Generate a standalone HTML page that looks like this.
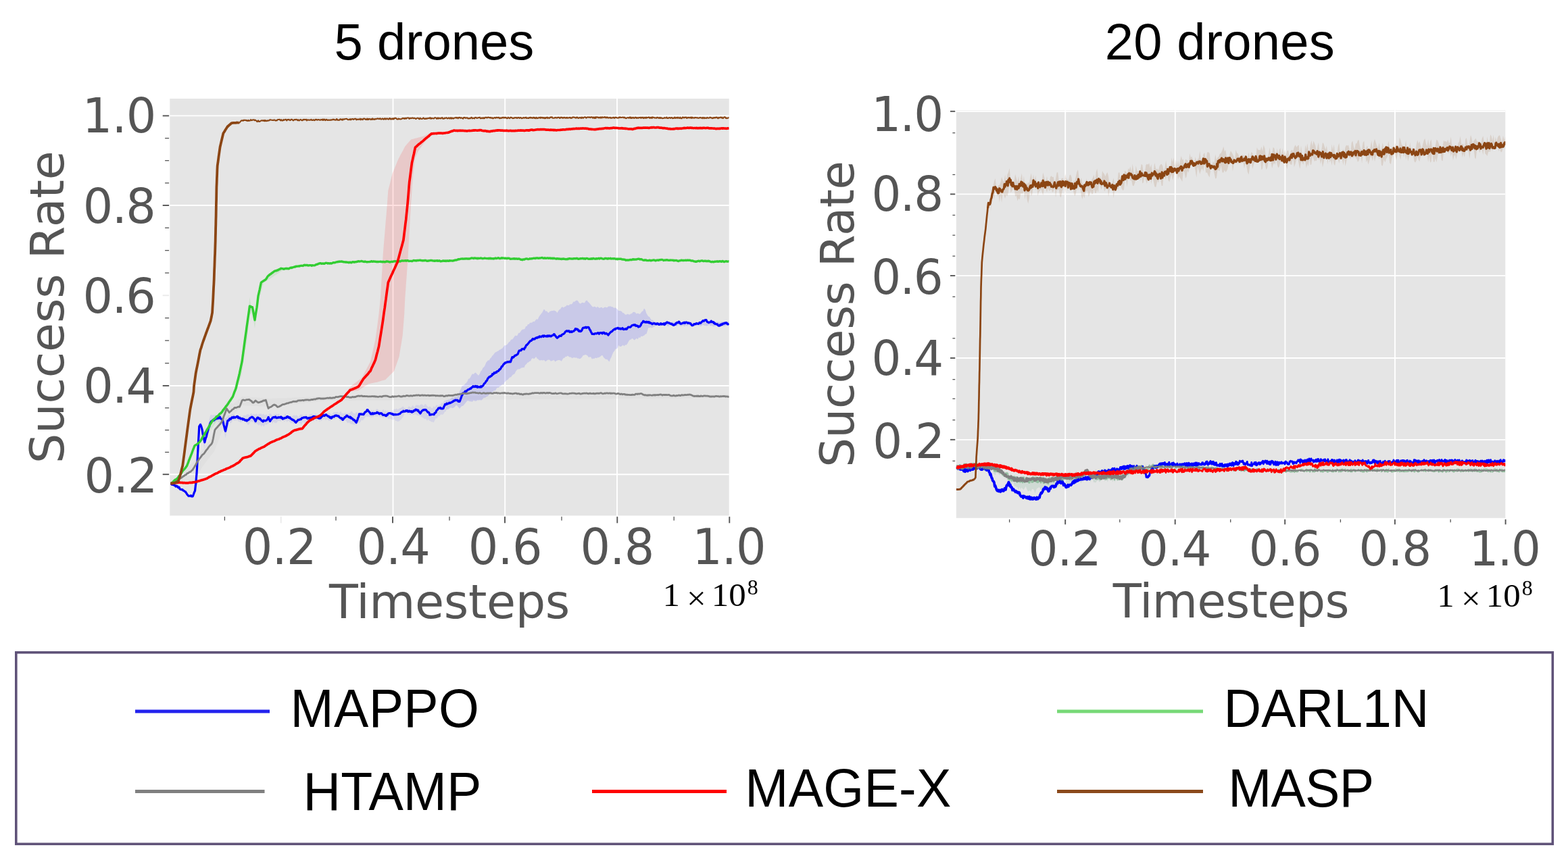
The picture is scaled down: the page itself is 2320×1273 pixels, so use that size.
<!DOCTYPE html>
<html lang="en">
<head>
<meta charset="utf-8">
<title>Success Rate vs Timesteps</title>
<style>
html,body{margin:0;padding:0;background:#ffffff;}
body{width:2320px;height:1273px;overflow:hidden;}
svg{display:block;}
</style>
</head>
<body>
<svg width="2320" height="1273" viewBox="0 0 2320 1273">
<rect x="0" y="0" width="2320" height="1273" fill="#ffffff"/>
<g>
<rect x="251.3" y="146.0" width="827.4" height="617.3" fill="#e5e5e5"/>
<g stroke="#ffffff" stroke-width="1.9">
<line x1="251.3" x2="1078.7" y1="171.4" y2="171.4"/>
<line x1="251.3" x2="1078.7" y1="304.0" y2="304.0"/>
<line x1="251.3" x2="1078.7" y1="571.0" y2="571.0"/>
<line x1="251.3" x2="1078.7" y1="702.2" y2="702.2"/>
<line x1="581.5" x2="581.5" y1="146.0" y2="763.3"/>
<line x1="747.2" x2="747.2" y1="146.0" y2="763.3"/>
<line x1="913.0" x2="913.0" y1="146.0" y2="763.3"/>
</g>
<g stroke="#555555">
<line x1="240.7" x2="250.1" y1="171.4" y2="171.4" stroke-width="1.9"/>
<line x1="244.1" x2="250.1" y1="204.6" y2="204.6" stroke-width="1.3"/>
<line x1="244.1" x2="250.1" y1="237.7" y2="237.7" stroke-width="1.3"/>
<line x1="244.1" x2="250.1" y1="270.9" y2="270.9" stroke-width="1.3"/>
<line x1="240.7" x2="250.1" y1="304.0" y2="304.0" stroke-width="1.9"/>
<line x1="244.1" x2="250.1" y1="337.3" y2="337.3" stroke-width="1.3"/>
<line x1="244.1" x2="250.1" y1="370.7" y2="370.7" stroke-width="1.3"/>
<line x1="244.1" x2="250.1" y1="404.0" y2="404.0" stroke-width="1.3"/>
<line x1="240.7" x2="250.1" y1="437.3" y2="437.3" stroke-width="1.9" stroke-opacity="0.12"/>
<line x1="244.1" x2="250.1" y1="470.7" y2="470.7" stroke-width="1.3"/>
<line x1="244.1" x2="250.1" y1="504.1" y2="504.1" stroke-width="1.3"/>
<line x1="244.1" x2="250.1" y1="537.6" y2="537.6" stroke-width="1.3"/>
<line x1="240.7" x2="250.1" y1="571.0" y2="571.0" stroke-width="1.9"/>
<line x1="244.1" x2="250.1" y1="603.8" y2="603.8" stroke-width="1.3"/>
<line x1="244.1" x2="250.1" y1="636.6" y2="636.6" stroke-width="1.3"/>
<line x1="244.1" x2="250.1" y1="669.4" y2="669.4" stroke-width="1.3"/>
<line x1="240.7" x2="250.1" y1="702.2" y2="702.2" stroke-width="1.9"/>
<line x1="332.4" x2="332.4" y1="764.8" y2="770.5" stroke-width="1.3"/>
<line x1="415.7" x2="415.7" y1="764.8" y2="774.3" stroke-width="1.9" stroke-opacity="0.12"/>
<line x1="497.0" x2="497.0" y1="764.8" y2="770.5" stroke-width="1.3"/>
<line x1="581.0" x2="581.0" y1="764.8" y2="774.3" stroke-width="1.9"/>
<line x1="665.0" x2="665.0" y1="764.8" y2="770.5" stroke-width="1.3"/>
<line x1="747.0" x2="747.0" y1="764.8" y2="774.3" stroke-width="1.9"/>
<line x1="831.0" x2="831.0" y1="764.8" y2="770.5" stroke-width="1.3"/>
<line x1="913.3" x2="913.3" y1="764.8" y2="774.3" stroke-width="1.9"/>
<line x1="997.2" x2="997.2" y1="764.8" y2="770.5" stroke-width="1.3"/>
<line x1="1079.3" x2="1079.3" y1="764.8" y2="774.3" stroke-width="1.9"/>
</g>
<clipPath id="c1"><rect x="251.3" y="146.0" width="827.4" height="617.3"/></clipPath>
<g clip-path="url(#c1)">
<path d="M252.6,715.0 L254.2,713.6 L255.8,712.3 L257.3,710.9 L258.9,709.5 L260.5,708.2 L262.1,706.8 L263.7,705.5 L265.3,704.1 L266.8,702.7 L268.4,701.4 L270.0,700.0 L271.5,698.5 L273.1,696.9 L274.6,695.4 L276.2,693.8 L277.7,692.3 L279.2,690.8 L280.8,689.2 L282.3,687.7 L283.8,686.2 L285.4,684.6 L286.9,683.1 L288.5,681.5 L290.0,680.0 L291.5,677.8 L293.1,675.7 L294.6,673.5 L296.2,671.4 L297.7,669.2 L299.2,667.1 L300.8,664.9 L302.3,662.8 L303.8,660.6 L305.4,658.5 L306.9,656.3 L308.5,654.2 L310.0,652.0 L311.5,648.6 L313.0,645.2 L314.5,641.8 L316.0,638.4 L317.5,635.0 L319.0,631.6 L320.5,628.2 L322.0,624.8 L323.5,621.4 L325.0,618.0 L326.5,614.6 L328.0,611.1 L329.5,607.7 L331.0,604.3 L332.5,600.9 L334.0,597.4 L335.5,594.0 L337.1,594.7 L338.7,595.3 L340.2,596.0 L341.8,596.7 L343.4,597.3 L345.0,598.0 L346.6,596.6 L348.2,595.2 L349.9,593.9 L351.5,592.5 L353.1,591.1 L354.8,589.8 L356.4,588.4 L358.0,587.0 L359.5,587.1 L361.0,587.2 L362.5,587.3 L364.0,587.4 L365.5,587.5 L367.0,587.6 L368.5,587.8 L370.0,587.9 L371.5,588.0 L373.0,588.1 L374.5,588.2 L376.0,588.3 L377.5,588.4 L379.0,588.5 L380.5,588.6 L382.0,588.7 L383.5,588.8 L385.0,588.9 L386.5,589.0 L388.0,589.1 L389.5,589.2 L391.0,589.4 L392.5,589.5 L394.0,589.6 L395.5,589.7 L397.0,589.8 L398.5,589.9 L400.0,590.0 L401.5,589.9 L403.0,589.9 L404.5,589.8 L406.0,589.8 L407.5,589.7 L409.1,589.7 L410.6,589.6 L412.1,589.5 L413.6,589.5 L415.1,589.4 L416.6,589.4 L418.1,589.3 L419.6,589.3 L421.1,589.2 L422.6,589.2 L424.2,589.1 L425.7,589.0 L427.2,589.0 L428.7,588.9 L430.2,588.9 L431.7,588.8 L433.2,588.8 L434.7,588.7 L436.2,588.6 L437.7,588.6 L439.2,588.5 L440.8,588.5 L442.3,588.4 L443.8,588.4 L445.3,588.3 L446.8,588.2 L448.3,588.2 L449.8,588.1 L451.3,588.1 L452.8,588.0 L454.3,588.0 L455.8,587.9 L457.4,587.8 L458.9,587.8 L460.4,587.7 L461.9,587.7 L463.4,587.6 L464.9,587.6 L466.4,587.5 L467.9,587.5 L469.4,587.4 L470.9,587.3 L472.5,587.3 L474.0,587.2 L475.5,587.2 L477.0,587.1 L478.5,587.1 L480.0,587.0 L481.5,587.0 L483.0,587.0 L484.5,587.0 L486.0,587.0 L487.5,587.0 L489.0,587.0 L490.5,586.9 L492.0,586.9 L493.5,586.9 L495.0,586.9 L496.5,586.9 L498.0,586.9 L499.5,586.9 L501.0,586.9 L502.5,586.9 L504.0,586.9 L505.5,586.9 L507.0,586.9 L508.5,586.9 L510.0,586.8 L511.5,586.8 L513.0,586.8 L514.5,586.8 L516.0,586.8 L517.5,586.8 L519.0,586.8 L520.5,586.8 L522.0,586.8 L523.5,586.8 L525.0,586.8 L526.5,586.8 L528.0,586.8 L529.5,586.8 L531.0,586.7 L532.5,586.7 L534.0,586.7 L535.5,586.7 L537.0,586.7 L538.5,586.7 L540.0,586.7 L541.5,586.7 L543.0,586.7 L544.5,586.7 L546.0,586.7 L547.5,586.7 L549.0,586.7 L550.5,586.6 L552.0,586.6 L553.5,586.6 L555.0,586.6 L556.5,586.6 L558.0,586.6 L559.5,586.6 L561.0,586.6 L562.5,586.6 L564.0,586.6 L565.5,586.6 L567.0,586.6 L568.5,586.6 L570.0,586.5 L571.5,586.5 L573.0,586.5 L574.5,586.5 L576.0,586.5 L577.5,586.5 L579.0,586.5 L580.5,586.5 L582.0,586.5 L583.5,586.5 L585.0,586.5 L586.5,586.5 L588.0,586.5 L589.5,586.5 L591.0,586.4 L592.5,586.4 L594.0,586.4 L595.5,586.4 L597.0,586.4 L598.5,586.4 L600.0,586.4 L601.5,586.4 L603.0,586.4 L604.5,586.4 L606.0,586.4 L607.5,586.4 L609.0,586.4 L610.5,586.3 L612.0,586.3 L613.5,586.3 L615.0,586.3 L616.5,586.3 L618.0,586.3 L619.5,586.3 L621.0,586.3 L622.5,586.3 L624.0,586.3 L625.5,586.3 L627.0,586.3 L628.5,586.3 L630.1,586.2 L631.6,586.2 L633.1,586.2 L634.6,586.2 L636.1,586.2 L637.6,586.2 L639.1,586.2 L640.6,586.2 L642.1,586.2 L643.6,586.2 L645.1,586.2 L646.6,586.2 L648.1,586.2 L649.6,586.2 L651.1,586.1 L652.6,586.1 L654.1,586.1 L655.6,586.1 L657.1,586.1 L658.6,586.1 L660.1,586.1 L661.6,586.1 L663.1,586.1 L664.6,586.1 L666.1,586.1 L667.6,586.1 L669.1,586.1 L670.6,586.0 L672.1,586.0 L673.6,586.0 L675.1,586.0 L676.6,586.0 L678.1,586.0 L679.6,586.0 L681.1,586.0 L682.6,586.0 L684.1,586.0 L685.6,586.0 L687.1,586.0 L688.6,586.0 L690.1,585.9 L691.6,585.9 L693.1,585.9 L694.6,585.9 L696.1,585.9 L697.6,585.9 L699.1,585.9 L700.6,585.9 L702.1,585.9 L703.6,585.9 L705.1,585.9 L706.6,585.9 L708.1,585.9 L709.6,585.8 L711.1,585.8 L712.6,585.8 L714.1,585.8 L715.6,585.8 L717.1,585.8 L718.6,585.8 L720.1,585.8 L721.6,585.8 L723.1,585.8 L724.6,585.8 L726.1,585.8 L727.6,585.8 L729.1,585.8 L730.6,585.7 L732.1,585.7 L733.6,585.7 L735.1,585.7 L736.6,585.7 L738.1,585.7 L739.6,585.7 L741.1,585.7 L742.6,585.7 L744.1,585.7 L745.6,585.7 L747.1,585.7 L748.6,585.7 L750.1,585.6 L751.6,585.6 L753.1,585.6 L754.6,585.6 L756.1,585.6 L757.6,585.6 L759.1,585.6 L760.6,585.6 L762.1,585.6 L763.6,585.6 L765.1,585.6 L766.6,585.6 L768.1,585.6 L769.6,585.5 L771.1,585.5 L772.6,585.5 L774.1,585.5 L775.6,585.5 L777.1,585.5 L778.6,585.5 L780.1,585.5 L781.6,585.5 L783.1,585.5 L784.6,585.5 L786.1,585.5 L787.6,585.5 L789.1,585.5 L790.6,585.4 L792.1,585.4 L793.6,585.4 L795.1,585.4 L796.6,585.4 L798.1,585.4 L799.6,585.4 L801.1,585.4 L802.6,585.4 L804.1,585.4 L805.6,585.4 L807.1,585.4 L808.6,585.4 L810.1,585.3 L811.6,585.3 L813.1,585.3 L814.6,585.3 L816.1,585.3 L817.6,585.3 L819.1,585.3 L820.6,585.3 L822.1,585.3 L823.6,585.3 L825.1,585.3 L826.6,585.3 L828.1,585.3 L829.6,585.2 L831.1,585.2 L832.6,585.2 L834.1,585.2 L835.6,585.2 L837.1,585.2 L838.6,585.2 L840.1,585.2 L841.6,585.2 L843.1,585.2 L844.6,585.2 L846.1,585.2 L847.6,585.2 L849.1,585.2 L850.6,585.1 L852.1,585.1 L853.6,585.1 L855.1,585.1 L856.6,585.1 L858.1,585.1 L859.6,585.1 L861.1,585.1 L862.6,585.1 L864.1,585.1 L865.6,585.1 L867.1,585.1 L868.6,585.1 L870.1,585.0 L871.6,585.0 L873.1,585.0 L874.6,585.0 L876.1,585.0 L877.6,585.0 L879.1,585.0 L880.6,585.0 L882.1,585.0 L883.6,585.0 L885.1,585.0 L886.6,585.0 L888.1,585.0 L889.6,584.9 L891.1,584.9 L892.6,584.9 L894.1,584.9 L895.6,584.9 L897.1,584.9 L898.6,584.9 L900.1,584.9 L901.6,584.9 L903.1,584.9 L904.6,584.9 L906.1,584.9 L907.6,584.9 L909.1,584.8 L910.6,584.8 L912.1,584.8 L913.6,584.8 L915.1,584.8 L916.6,584.8 L918.1,584.8 L919.6,584.8 L921.1,584.8 L922.6,584.8 L924.1,584.8 L925.6,584.8 L927.1,584.8 L928.6,584.8 L930.2,584.7 L931.7,584.7 L933.2,584.7 L934.7,584.7 L936.2,584.7 L937.7,584.7 L939.2,584.7 L940.7,584.7 L942.2,584.7 L943.7,584.7 L945.2,584.7 L946.7,584.7 L948.2,584.7 L949.7,584.6 L951.2,584.6 L952.7,584.6 L954.2,584.6 L955.7,584.6 L957.2,584.6 L958.7,584.6 L960.2,584.6 L961.7,584.6 L963.2,584.6 L964.7,584.6 L966.2,584.6 L967.7,584.6 L969.2,584.5 L970.7,584.5 L972.2,584.5 L973.7,584.5 L975.2,584.5 L976.7,584.5 L978.2,584.5 L979.7,584.5 L981.2,584.5 L982.7,584.5 L984.2,584.5 L985.7,584.5 L987.2,584.5 L988.7,584.5 L990.2,584.4 L991.7,584.4 L993.2,584.4 L994.7,584.4 L996.2,584.4 L997.7,584.4 L999.2,584.4 L1000.7,584.4 L1002.2,584.4 L1003.7,584.4 L1005.2,584.4 L1006.7,584.4 L1008.2,584.4 L1009.7,584.3 L1011.2,584.3 L1012.7,584.3 L1014.2,584.3 L1015.7,584.3 L1017.2,584.3 L1018.7,584.3 L1020.2,584.3 L1021.7,584.3 L1023.2,584.3 L1024.7,584.3 L1026.2,584.3 L1027.7,584.3 L1029.2,584.2 L1030.7,584.2 L1032.2,584.2 L1033.7,584.2 L1035.2,584.2 L1036.7,584.2 L1038.2,584.2 L1039.7,584.2 L1041.2,584.2 L1042.7,584.2 L1044.2,584.2 L1045.7,584.2 L1047.2,584.2 L1048.7,584.2 L1050.2,584.1 L1051.7,584.1 L1053.2,584.1 L1054.7,584.1 L1056.2,584.1 L1057.7,584.1 L1059.2,584.1 L1060.7,584.1 L1062.2,584.1 L1063.7,584.1 L1065.2,584.1 L1066.7,584.1 L1068.2,584.1 L1069.7,584.0 L1071.2,584.0 L1072.7,584.0 L1074.2,584.0 L1075.7,584.0 L1077.2,584.0 L1078.7,584.0 L1078.7,589.0 L1077.2,589.0 L1075.7,589.0 L1074.2,589.0 L1072.7,589.0 L1071.2,589.1 L1069.7,589.1 L1068.2,589.1 L1066.7,589.1 L1065.2,589.1 L1063.7,589.1 L1062.2,589.1 L1060.7,589.1 L1059.2,589.1 L1057.7,589.1 L1056.2,589.2 L1054.7,589.2 L1053.2,589.2 L1051.7,589.2 L1050.2,589.2 L1048.7,589.2 L1047.2,589.2 L1045.7,589.2 L1044.2,589.2 L1042.7,589.2 L1041.2,589.3 L1039.7,589.3 L1038.2,589.3 L1036.7,589.3 L1035.2,589.3 L1033.7,589.3 L1032.2,589.3 L1030.7,589.3 L1029.2,589.3 L1027.7,589.3 L1026.2,589.4 L1024.7,589.4 L1023.2,589.4 L1021.7,589.4 L1020.2,589.4 L1018.7,589.4 L1017.2,589.4 L1015.7,589.4 L1014.2,589.4 L1012.7,589.4 L1011.2,589.5 L1009.7,589.5 L1008.2,589.5 L1006.7,589.5 L1005.2,589.5 L1003.7,589.5 L1002.2,589.5 L1000.7,589.5 L999.2,589.5 L997.7,589.5 L996.2,589.6 L994.7,589.6 L993.2,589.6 L991.7,589.6 L990.2,589.6 L988.7,589.6 L987.2,589.6 L985.7,589.6 L984.2,589.6 L982.7,589.6 L981.2,589.7 L979.7,589.7 L978.2,589.7 L976.7,589.7 L975.2,589.7 L973.7,589.7 L972.2,589.7 L970.7,589.7 L969.2,589.7 L967.7,589.7 L966.2,589.8 L964.7,589.8 L963.2,589.8 L961.7,589.8 L960.2,589.8 L958.7,589.8 L957.2,589.8 L955.7,589.8 L954.2,589.8 L952.7,589.8 L951.2,589.9 L949.7,589.9 L948.2,589.9 L946.7,589.9 L945.2,589.9 L943.7,589.9 L942.2,589.9 L940.7,589.9 L939.2,589.9 L937.7,589.9 L936.2,590.0 L934.7,590.0 L933.2,590.0 L931.7,590.0 L930.2,590.0 L928.6,590.0 L927.1,590.0 L925.6,590.0 L924.1,590.0 L922.6,590.0 L921.1,590.1 L919.6,590.1 L918.1,590.1 L916.6,590.1 L915.1,590.1 L913.6,590.1 L912.1,590.1 L910.6,590.1 L909.1,590.1 L907.6,590.1 L906.1,590.2 L904.6,590.2 L903.1,590.2 L901.6,590.2 L900.1,590.2 L898.6,590.2 L897.1,590.2 L895.6,590.2 L894.1,590.2 L892.6,590.2 L891.1,590.3 L889.6,590.3 L888.1,590.3 L886.6,590.3 L885.1,590.3 L883.6,590.3 L882.1,590.3 L880.6,590.3 L879.1,590.3 L877.6,590.3 L876.1,590.4 L874.6,590.4 L873.1,590.4 L871.6,590.4 L870.1,590.4 L868.6,590.4 L867.1,590.4 L865.6,590.4 L864.1,590.4 L862.6,590.4 L861.1,590.5 L859.6,590.5 L858.1,590.5 L856.6,590.5 L855.1,590.5 L853.6,590.5 L852.1,590.5 L850.6,590.5 L849.1,590.5 L847.6,590.5 L846.1,590.6 L844.6,590.6 L843.1,590.6 L841.6,590.6 L840.1,590.6 L838.6,590.6 L837.1,590.6 L835.6,590.6 L834.1,590.6 L832.6,590.6 L831.1,590.7 L829.6,590.7 L828.1,590.7 L826.6,590.7 L825.1,590.7 L823.6,590.7 L822.1,590.7 L820.6,590.7 L819.1,590.7 L817.6,590.7 L816.1,590.8 L814.6,590.8 L813.1,590.8 L811.6,590.8 L810.1,590.8 L808.6,590.8 L807.1,590.8 L805.6,590.8 L804.1,590.8 L802.6,590.8 L801.1,590.9 L799.6,590.9 L798.1,590.9 L796.6,590.9 L795.1,590.9 L793.6,590.9 L792.1,590.9 L790.6,590.9 L789.1,590.9 L787.6,590.9 L786.1,591.0 L784.6,591.0 L783.1,591.0 L781.6,591.0 L780.1,591.0 L778.6,591.0 L777.1,591.0 L775.6,591.0 L774.1,591.0 L772.6,591.0 L771.1,591.1 L769.6,591.1 L768.1,591.1 L766.6,591.1 L765.1,591.1 L763.6,591.1 L762.1,591.1 L760.6,591.1 L759.1,591.1 L757.6,591.1 L756.1,591.2 L754.6,591.2 L753.1,591.2 L751.6,591.2 L750.1,591.2 L748.6,591.2 L747.1,591.2 L745.6,591.2 L744.1,591.2 L742.6,591.2 L741.1,591.3 L739.6,591.3 L738.1,591.3 L736.6,591.3 L735.1,591.3 L733.6,591.3 L732.1,591.3 L730.6,591.3 L729.1,591.3 L727.6,591.3 L726.1,591.4 L724.6,591.4 L723.1,591.4 L721.6,591.4 L720.1,591.4 L718.6,591.4 L717.1,591.4 L715.6,591.4 L714.1,591.4 L712.6,591.4 L711.1,591.5 L709.6,591.5 L708.1,591.5 L706.6,591.5 L705.1,591.5 L703.6,591.5 L702.1,591.5 L700.6,591.5 L699.1,591.5 L697.6,591.5 L696.1,591.6 L694.6,591.6 L693.1,591.6 L691.6,591.6 L690.1,591.6 L688.6,591.6 L687.1,591.6 L685.6,591.6 L684.1,591.6 L682.6,591.6 L681.1,591.7 L679.6,591.7 L678.1,591.7 L676.6,591.7 L675.1,591.7 L673.6,591.7 L672.1,591.7 L670.6,591.7 L669.1,591.7 L667.6,591.7 L666.1,591.8 L664.6,591.8 L663.1,591.8 L661.6,591.8 L660.1,591.8 L658.6,591.8 L657.1,591.8 L655.6,591.8 L654.1,591.8 L652.6,591.8 L651.1,591.9 L649.6,591.9 L648.1,591.9 L646.6,591.9 L645.1,591.9 L643.6,591.9 L642.1,591.9 L640.6,591.9 L639.1,591.9 L637.6,591.9 L636.1,592.0 L634.6,592.0 L633.1,592.0 L631.6,592.0 L630.1,592.0 L628.5,592.0 L627.0,592.0 L625.5,592.0 L624.0,592.0 L622.5,592.0 L621.0,592.1 L619.5,592.1 L618.0,592.1 L616.5,592.1 L615.0,592.1 L613.5,592.1 L612.0,592.1 L610.5,592.1 L609.0,592.1 L607.5,592.1 L606.0,592.2 L604.5,592.2 L603.0,592.2 L601.5,592.2 L600.0,592.2 L598.5,592.2 L597.0,592.2 L595.5,592.2 L594.0,592.2 L592.5,592.2 L591.0,592.3 L589.5,592.3 L588.0,592.3 L586.5,592.3 L585.0,592.3 L583.5,592.3 L582.0,592.3 L580.5,592.3 L579.0,592.3 L577.5,592.3 L576.0,592.4 L574.5,592.4 L573.0,592.4 L571.5,592.4 L570.0,592.4 L568.5,592.4 L567.0,592.4 L565.5,592.4 L564.0,592.4 L562.5,592.4 L561.0,592.5 L559.5,592.5 L558.0,592.5 L556.5,592.5 L555.0,592.5 L553.5,592.5 L552.0,592.5 L550.5,592.5 L549.0,592.5 L547.5,592.5 L546.0,592.6 L544.5,592.6 L543.0,592.6 L541.5,592.6 L540.0,592.6 L538.5,592.6 L537.0,592.6 L535.5,592.6 L534.0,592.6 L532.5,592.6 L531.0,592.7 L529.5,592.7 L528.0,592.7 L526.5,592.7 L525.0,592.7 L523.5,592.7 L522.0,592.7 L520.5,592.7 L519.0,592.7 L517.5,592.7 L516.0,592.8 L514.5,592.8 L513.0,592.8 L511.5,592.8 L510.0,592.8 L508.5,592.8 L507.0,592.8 L505.5,592.8 L504.0,592.8 L502.5,592.8 L501.0,592.9 L499.5,592.9 L498.0,592.9 L496.5,592.9 L495.0,592.9 L493.5,592.9 L492.0,592.9 L490.5,592.9 L489.0,592.9 L487.5,592.9 L486.0,593.0 L484.5,593.0 L483.0,593.0 L481.5,593.0 L480.0,593.0 L478.5,593.2 L477.0,593.3 L475.5,593.5 L474.0,593.7 L472.5,593.8 L470.9,594.0 L469.4,594.2 L467.9,594.4 L466.4,594.5 L464.9,594.7 L463.4,594.9 L461.9,595.0 L460.4,595.2 L458.9,595.4 L457.4,595.5 L455.8,595.7 L454.3,595.9 L452.8,596.1 L451.3,596.2 L449.8,596.4 L448.3,596.6 L446.8,596.7 L445.3,596.9 L443.8,597.1 L442.3,597.2 L440.8,597.4 L439.2,597.6 L437.7,597.8 L436.2,597.9 L434.7,598.1 L433.2,598.3 L431.7,598.4 L430.2,598.6 L428.7,598.8 L427.2,598.9 L425.7,599.1 L424.2,599.3 L422.6,599.5 L421.1,599.6 L419.6,599.8 L418.1,600.0 L416.6,600.1 L415.1,600.3 L413.6,600.5 L412.1,600.6 L410.6,600.8 L409.1,601.0 L407.5,601.2 L406.0,601.3 L404.5,601.5 L403.0,601.7 L401.5,601.8 L400.0,602.0 L398.5,601.9 L397.0,601.9 L395.5,601.8 L394.0,601.7 L392.5,601.6 L391.0,601.6 L389.5,601.5 L388.0,601.4 L386.5,601.4 L385.0,601.3 L383.5,601.2 L382.0,601.1 L380.5,601.1 L379.0,601.0 L377.5,600.9 L376.0,600.9 L374.5,600.8 L373.0,600.7 L371.5,600.6 L370.0,600.6 L368.5,600.5 L367.0,600.4 L365.5,600.4 L364.0,600.3 L362.5,600.2 L361.0,600.1 L359.5,600.1 L358.0,600.0 L356.4,602.0 L354.8,604.0 L353.2,606.0 L351.6,608.0 L350.0,610.0 L348.3,611.3 L346.7,612.7 L345.0,614.0 L343.3,615.3 L341.7,616.7 L340.0,618.0 L338.5,620.8 L337.0,623.5 L335.5,626.2 L334.0,629.0 L332.5,631.8 L331.0,634.5 L329.5,637.2 L328.0,640.0 L326.4,644.0 L324.9,648.0 L323.3,652.0 L321.7,656.0 L320.1,660.0 L318.6,664.0 L317.0,668.0 L315.5,670.0 L313.9,672.0 L312.4,674.0 L310.8,676.0 L309.3,678.0 L307.7,680.0 L306.2,682.0 L304.6,684.0 L303.1,686.0 L301.5,688.0 L300.0,690.0 L298.5,692.6 L297.0,695.2 L295.5,697.8 L294.0,700.4 L292.5,703.0 L291.0,705.6 L289.5,708.2 L288.0,710.8 L286.5,713.4 L285.0,716.0 L283.5,716.0 L281.9,716.0 L280.4,716.0 L278.8,716.0 L277.3,716.0 L275.7,716.0 L274.2,716.0 L272.7,716.0 L271.1,716.0 L269.6,716.0 L268.0,716.0 L266.5,716.0 L264.9,716.0 L263.4,716.0 L261.9,716.0 L260.3,716.0 L258.8,716.0 L257.2,716.0 L255.7,716.0 L254.1,716.0 L252.6,716.0Z" fill="#808080" fill-opacity="0.05" stroke="none"/>
<path d="M297.0,622.9 L298.7,627.6 L300.3,634.0 L302.0,638.5 L304.0,635.0 L306.0,633.3 L307.7,628.9 L309.3,622.1 L311.0,615.3 L312.5,613.4 L314.0,614.7 L315.5,614.1 L317.0,613.9 L318.5,613.8 L320.0,614.6 L321.6,617.8 L323.2,618.1 L324.9,618.2 L326.5,618.4 L328.1,616.2 L329.8,616.6 L331.4,618.1 L333.0,619.0 L334.5,618.6 L336.0,617.8 L337.5,614.2 L339.0,615.6 L340.5,615.7 L342.0,614.8 L343.5,613.0 L345.0,613.7 L346.5,612.4 L348.0,615.7 L349.5,616.0 L351.0,614.9 L352.5,613.8 L354.0,616.2 L355.5,615.2 L357.0,616.4 L358.5,616.6 L360.0,615.3 L361.5,614.5 L363.1,615.0 L364.6,614.3 L366.2,613.0 L367.7,613.2 L369.2,615.2 L370.8,612.2 L372.3,611.7 L373.8,613.8 L375.4,612.6 L376.9,613.3 L378.5,613.0 L380.0,612.3 L381.5,615.0 L383.0,612.2 L384.5,612.8 L386.0,612.1 L387.5,613.8 L389.0,612.7 L390.5,613.0 L392.0,614.7 L393.5,613.3 L395.0,614.1 L396.6,615.7 L398.1,612.6 L399.7,612.0 L401.2,612.6 L402.8,614.9 L404.4,614.6 L405.9,613.0 L407.5,613.2 L409.1,612.6 L410.6,613.6 L412.2,612.1 L413.8,614.5 L415.3,615.7 L416.9,616.1 L418.4,615.3 L420.0,616.1 L421.5,612.5 L423.1,613.2 L424.6,616.2 L426.2,616.0 L427.7,614.6 L429.2,616.7 L430.8,615.8 L432.3,616.6 L433.8,614.8 L435.4,614.2 L436.9,615.3 L438.5,614.3 L440.0,615.3 L441.5,617.7 L443.0,615.4 L444.5,613.6 L446.0,613.4 L447.5,613.8 L449.0,616.3 L450.5,614.9 L452.0,614.3 L453.5,613.3 L455.0,616.7 L456.5,614.8 L458.0,613.6 L459.5,612.7 L461.0,612.5 L462.5,612.8 L464.0,614.9 L465.5,612.9 L467.0,612.1 L468.5,613.8 L470.0,612.9 L471.5,615.7 L473.0,612.4 L474.5,613.5 L476.0,614.5 L477.5,613.0 L479.0,615.1 L480.5,613.2 L482.0,611.8 L483.5,612.1 L485.0,610.5 L486.5,611.7 L488.0,611.1 L489.5,613.5 L491.0,613.5 L492.5,612.0 L494.0,609.7 L495.5,610.2 L497.0,610.1 L498.5,609.8 L500.0,609.7 L501.5,612.3 L503.0,609.6 L504.5,608.8 L506.0,612.2 L507.5,611.2 L509.0,612.8 L510.5,610.6 L512.0,612.2 L513.5,611.4 L515.0,611.8 L516.5,611.6 L518.0,610.6 L519.5,608.7 L521.0,608.9 L522.5,611.6 L524.0,612.0 L525.5,612.2 L527.0,609.7 L528.5,610.6 L530.0,611.3 L531.5,610.6 L533.0,611.1 L534.5,609.9 L536.0,610.1 L537.5,610.1 L539.0,608.3 L540.5,610.6 L542.0,610.9 L543.5,607.2 L545.0,610.2 L546.5,610.5 L548.0,609.2 L549.5,606.3 L551.0,609.3 L552.5,606.4 L554.0,609.3 L555.5,608.4 L557.0,605.6 L558.5,605.5 L560.0,607.3 L561.5,607.5 L563.0,608.5 L564.5,609.5 L566.0,606.9 L567.5,605.8 L569.0,609.6 L570.5,606.6 L572.0,609.9 L573.5,607.4 L575.0,610.1 L576.6,609.7 L578.2,609.5 L579.8,607.7 L581.4,608.2 L583.0,605.0 L584.8,606.1 L586.5,604.4 L588.2,606.0 L590.0,605.3 L591.7,604.1 L593.3,604.1 L595.0,602.1 L596.7,601.8 L598.3,604.1 L600.0,604.0 L601.5,605.1 L603.1,603.9 L604.6,601.5 L606.2,601.8 L607.7,603.2 L609.3,602.1 L610.8,599.5 L612.4,602.2 L613.9,602.2 L615.5,598.9 L617.0,600.0 L618.7,599.3 L620.3,600.8 L622.0,598.9 L623.7,598.2 L625.3,598.9 L627.0,600.9 L628.6,598.1 L630.2,598.2 L631.9,600.7 L633.5,602.6 L635.1,601.8 L636.8,601.8 L638.4,603.9 L640.0,604.3 L641.7,600.8 L643.3,603.0 L645.0,600.0 L646.7,599.4 L648.3,600.9 L650.0,598.9 L651.7,599.2 L653.3,595.8 L655.0,597.4 L656.7,593.9 L658.3,592.4 L660.0,592.7 L660.0,609.3 L658.3,609.2 L656.7,612.3 L655.0,613.9 L653.3,613.6 L651.7,614.0 L650.0,615.9 L648.3,616.0 L646.7,619.5 L645.0,619.1 L643.3,622.3 L641.7,625.4 L640.0,624.4 L638.4,624.6 L636.8,623.2 L635.1,622.7 L633.5,620.7 L631.9,623.1 L630.2,619.7 L628.6,620.3 L627.0,619.4 L625.3,617.9 L623.7,617.5 L622.0,615.4 L620.3,615.5 L618.7,615.0 L617.0,615.0 L615.5,613.8 L613.9,613.3 L612.4,613.7 L610.8,614.2 L609.3,612.4 L607.7,614.4 L606.2,614.1 L604.6,612.0 L603.1,613.3 L601.5,611.9 L600.0,610.3 L598.3,612.2 L596.7,617.0 L595.0,618.7 L593.3,621.2 L591.7,622.5 L590.0,623.8 L588.3,624.1 L586.7,623.1 L585.0,623.0 L583.3,620.2 L581.7,621.8 L580.0,621.0 L578.5,620.4 L576.9,619.4 L575.4,620.8 L573.8,619.6 L572.3,616.7 L570.8,617.9 L569.2,617.7 L567.7,619.1 L566.2,618.6 L564.6,617.2 L563.1,617.5 L561.5,616.7 L560.0,614.6 L558.5,616.7 L556.9,616.5 L555.4,616.2 L553.8,615.5 L552.3,617.5 L550.8,617.2 L549.2,617.9 L547.7,616.8 L546.2,617.6 L544.6,616.3 L543.1,617.4 L541.5,615.8 L540.0,618.5 L538.4,620.2 L536.8,622.5 L535.1,621.4 L533.5,624.4 L531.9,625.9 L530.2,626.1 L528.6,626.8 L527.0,629.8 L525.5,628.1 L524.0,629.2 L522.5,628.3 L521.0,628.0 L519.5,627.8 L518.0,627.1 L516.5,625.2 L515.0,626.6 L513.5,625.5 L512.0,622.8 L510.5,621.7 L509.0,622.4 L507.5,622.6 L506.0,622.8 L504.5,623.7 L503.0,622.9 L501.5,619.8 L500.0,618.5 L498.5,619.6 L497.0,619.4 L495.5,620.4 L494.0,621.3 L492.5,620.5 L491.0,620.7 L489.5,622.9 L488.0,622.5 L486.5,622.9 L485.0,620.7 L483.5,620.4 L482.0,622.4 L480.5,619.8 L479.0,620.9 L477.5,620.1 L476.0,622.9 L474.5,622.5 L473.0,623.7 L471.5,622.6 L470.0,620.7 L468.5,623.6 L467.0,622.3 L465.5,621.2 L464.0,624.6 L462.5,621.6 L461.0,623.5 L459.5,624.1 L458.0,625.8 L456.5,624.9 L455.0,623.9 L453.5,625.0 L452.0,626.0 L450.5,627.6 L449.0,624.2 L447.5,625.4 L446.0,628.9 L444.5,627.6 L443.0,625.7 L441.5,625.8 L440.0,626.6 L438.5,626.7 L436.9,626.4 L435.4,627.1 L433.8,627.8 L432.3,625.3 L430.8,627.0 L429.2,625.1 L427.7,623.4 L426.2,622.4 L424.6,625.0 L423.1,621.3 L421.5,624.1 L420.0,623.3 L418.5,623.1 L416.9,621.2 L415.4,624.0 L413.8,623.2 L412.3,622.9 L410.8,623.5 L409.2,626.2 L407.7,626.3 L406.2,625.7 L404.6,624.1 L403.1,627.0 L401.5,624.1 L400.0,623.9 L398.5,624.7 L397.0,627.5 L395.5,627.5 L394.0,629.4 L392.5,627.4 L391.0,631.3 L389.5,631.1 L388.0,629.3 L386.4,632.1 L384.8,628.1 L383.2,630.0 L381.6,628.4 L380.0,627.3 L378.4,627.3 L376.8,627.6 L375.2,624.7 L373.6,624.2 L372.0,624.4 L370.3,624.0 L368.7,628.3 L367.0,628.9 L365.2,626.5 L363.5,625.3 L361.8,624.0 L360.0,623.4 L358.5,623.2 L357.0,625.3 L355.5,625.2 L354.0,623.8 L352.5,624.1 L351.0,621.1 L349.5,622.7 L348.0,622.0 L346.5,623.1 L345.0,620.4 L343.2,624.5 L341.5,626.3 L339.8,624.9 L338.0,627.0 L336.5,636.5 L335.1,640.4 L333.6,648.5 L332.4,642.9 L331.2,634.0 L330.0,629.0 L328.3,626.1 L326.7,628.0 L325.0,627.5 L323.3,624.2 L321.7,623.2 L320.0,622.1 L318.5,625.3 L317.0,626.0 L315.5,625.9 L314.0,627.7 L312.5,627.7 L311.0,631.8 L309.3,637.5 L307.7,645.1 L306.0,649.6 L304.0,654.4 L302.0,663.9 L301.0,657.3 L300.0,652.0 L299.0,645.4 L298.0,639.1 L297.0,632.5Z" fill="#0000ff" fill-opacity="0.07" stroke="none"/>
<path d="M660.0,592.3 L661.6,592.4 L663.2,591.4 L664.8,591.4 L666.4,591.0 L668.0,588.9 L669.6,587.9 L671.2,589.5 L672.8,587.6 L674.4,586.8 L676.0,588.2 L677.5,584.1 L679.0,581.9 L680.6,578.1 L682.1,575.4 L683.6,571.1 L685.2,570.7 L686.8,570.0 L688.4,567.7 L690.0,566.7 L691.5,564.5 L693.0,560.8 L694.6,560.4 L696.1,558.2 L697.6,555.3 L699.2,553.2 L700.8,554.1 L702.3,552.1 L703.9,551.4 L706.0,554.0 L708.0,555.8 L709.6,553.7 L711.2,549.7 L712.9,548.1 L714.5,544.6 L716.1,543.3 L717.7,540.7 L719.2,536.8 L720.7,534.9 L722.2,533.3 L723.7,533.6 L725.2,530.7 L726.8,529.3 L728.3,526.7 L729.8,525.4 L731.3,523.3 L732.8,521.4 L734.3,520.9 L735.8,519.9 L737.3,519.6 L738.8,518.0 L740.3,517.5 L741.9,516.3 L743.4,515.5 L744.9,513.6 L746.4,510.9 L747.9,511.5 L749.6,510.5 L751.2,509.0 L752.9,506.6 L754.6,505.4 L756.2,502.6 L757.9,502.6 L759.4,500.8 L761.0,498.6 L762.5,496.5 L764.1,497.2 L765.6,496.5 L767.2,492.8 L768.7,493.0 L770.3,490.8 L771.8,488.6 L773.4,487.6 L774.9,487.5 L776.5,486.7 L778.0,483.1 L779.5,482.9 L781.0,480.0 L782.6,480.1 L784.1,477.8 L785.6,477.7 L787.3,477.5 L788.9,475.7 L790.6,476.2 L792.3,473.9 L793.9,472.3 L795.6,473.0 L797.4,468.9 L799.1,466.4 L800.9,464.2 L802.6,462.1 L804.4,458.2 L805.9,458.2 L807.4,460.9 L808.9,460.2 L810.4,462.3 L811.9,462.9 L813.4,461.0 L814.9,460.5 L816.5,460.1 L818.0,460.0 L819.5,459.4 L821.2,460.1 L822.8,461.1 L824.5,462.9 L826.1,460.2 L827.6,458.3 L829.2,457.5 L830.8,454.7 L832.4,454.2 L833.9,455.6 L835.5,454.1 L837.1,453.6 L838.7,451.6 L840.2,452.0 L841.8,452.1 L843.4,450.2 L845.1,450.4 L846.7,449.4 L848.4,446.6 L850.1,446.7 L851.7,445.2 L853.4,444.5 L855.0,445.2 L856.5,447.7 L858.1,449.4 L859.7,449.1 L861.5,447.8 L863.2,448.3 L865.0,448.2 L866.7,445.3 L868.5,444.4 L870.0,446.7 L871.5,447.9 L873.0,449.8 L874.5,451.5 L876.0,453.6 L877.6,454.4 L879.2,453.8 L880.8,454.1 L882.4,455.4 L884.0,453.7 L885.6,455.0 L887.2,455.9 L888.8,455.0 L890.4,454.7 L892.0,456.4 L893.6,455.3 L895.2,454.6 L896.8,454.9 L898.4,455.3 L900.1,453.5 L901.7,453.5 L903.3,453.2 L904.9,454.2 L906.7,454.2 L908.4,456.1 L910.2,455.3 L911.9,456.4 L913.7,458.1 L915.2,459.9 L916.7,459.9 L918.2,460.2 L919.8,460.9 L921.3,463.0 L922.8,463.2 L924.6,465.3 L926.4,466.1 L928.2,464.8 L930.0,465.3 L931.6,465.8 L933.3,464.6 L935.0,464.1 L936.6,461.9 L938.3,461.7 L940.0,462.5 L941.7,464.4 L943.3,463.7 L945.0,464.3 L946.7,465.0 L948.3,463.0 L949.9,461.0 L951.4,460.3 L953.0,456.4 L954.7,458.4 L956.3,463.6 L958.0,466.5 L959.5,468.6 L961.0,468.9 L962.5,471.8 L964.0,473.7 L965.5,473.5 L967.1,475.3 L968.7,476.4 L970.2,476.6 L971.8,476.8 L973.4,476.8 L975.0,477.5 L976.6,477.1 L978.1,476.6 L979.7,477.9 L981.2,477.2 L982.8,478.4 L984.4,476.5 L985.9,478.5 L987.5,478.2 L989.1,478.7 L990.6,478.6 L992.2,478.6 L993.8,477.7 L995.3,475.9 L996.9,477.6 L998.4,476.2 L1000.0,476.3 L1001.5,477.3 L1003.0,477.1 L1004.5,476.8 L1006.1,478.2 L1007.6,477.5 L1009.1,476.6 L1010.6,476.3 L1012.1,477.9 L1013.6,477.1 L1015.1,477.8 L1016.6,476.7 L1018.2,476.1 L1019.7,477.0 L1021.2,477.9 L1022.7,476.2 L1024.2,477.7 L1025.7,478.2 L1027.2,478.0 L1028.8,478.0 L1030.3,475.8 L1031.8,477.2 L1033.3,478.0 L1034.8,475.9 L1036.3,476.2 L1037.8,476.3 L1039.3,477.0 L1040.9,476.8 L1042.4,476.9 L1043.9,477.7 L1045.4,475.8 L1046.9,475.6 L1048.4,475.8 L1049.9,475.8 L1051.5,475.6 L1053.0,478.1 L1054.5,478.1 L1056.0,476.0 L1057.5,476.9 L1059.0,476.5 L1060.5,476.4 L1062.1,476.5 L1063.6,477.3 L1065.1,477.3 L1066.6,476.7 L1068.1,476.1 L1069.6,476.4 L1071.1,475.9 L1072.6,477.0 L1074.2,477.6 L1075.7,476.8 L1077.2,475.8 L1078.7,475.9 L1078.7,481.7 L1077.2,482.6 L1075.7,481.0 L1074.2,481.9 L1072.6,482.4 L1071.1,482.9 L1069.6,482.9 L1068.1,481.6 L1066.6,483.1 L1065.1,482.1 L1063.6,483.1 L1062.1,481.5 L1060.5,482.4 L1059.0,482.6 L1057.5,482.6 L1056.0,483.4 L1054.5,482.7 L1053.0,481.7 L1051.5,482.8 L1049.9,481.1 L1048.4,480.9 L1046.9,482.0 L1045.4,482.6 L1043.9,482.0 L1042.4,482.0 L1040.9,481.3 L1039.3,480.8 L1037.8,482.7 L1036.3,483.1 L1034.8,482.0 L1033.3,481.5 L1031.8,481.8 L1030.3,480.9 L1028.8,481.3 L1027.2,482.9 L1025.7,481.2 L1024.2,482.8 L1022.7,481.9 L1021.2,482.8 L1019.7,481.4 L1018.2,481.3 L1016.6,482.9 L1015.1,481.0 L1013.6,482.9 L1012.1,483.0 L1010.6,481.8 L1009.1,482.2 L1007.6,483.1 L1006.1,482.2 L1004.5,480.8 L1003.0,481.1 L1001.5,483.2 L1000.0,481.8 L998.4,481.2 L996.9,481.6 L995.3,482.7 L993.8,481.7 L992.2,482.0 L990.6,481.0 L989.1,483.0 L987.5,482.7 L985.9,480.7 L984.4,482.2 L982.8,482.7 L981.2,481.5 L979.7,481.1 L978.1,482.4 L976.6,483.0 L975.0,482.0 L973.4,482.4 L971.9,481.2 L970.3,481.8 L968.7,483.5 L967.1,483.8 L965.6,485.0 L964.0,485.5 L962.4,484.4 L960.9,485.5 L959.3,484.9 L956.7,494.1 L955.1,494.4 L953.5,496.3 L951.9,497.1 L950.2,498.0 L948.6,497.4 L947.0,500.3 L945.4,499.3 L943.6,502.3 L941.8,500.7 L940.0,502.4 L938.5,503.4 L936.9,502.0 L935.4,500.7 L933.7,502.5 L931.9,503.1 L930.2,504.9 L928.5,508.5 L926.7,510.8 L925.0,510.6 L923.4,512.5 L921.8,510.5 L920.1,512.3 L918.5,513.1 L916.9,512.9 L915.3,510.9 L913.8,515.0 L912.3,516.4 L910.7,516.5 L909.2,519.4 L907.7,521.1 L906.2,524.3 L904.6,528.5 L903.0,531.5 L901.5,535.4 L899.8,533.6 L898.1,531.7 L896.5,532.0 L894.8,530.7 L893.1,529.0 L891.4,525.9 L889.9,526.2 L888.3,527.8 L886.8,528.8 L885.2,529.3 L883.7,529.4 L882.2,530.3 L880.6,529.5 L879.1,531.3 L877.5,530.6 L876.0,531.7 L874.3,528.5 L872.7,528.2 L871.0,529.1 L869.3,526.5 L867.7,525.6 L866.0,524.9 L864.3,525.8 L862.6,526.3 L861.0,528.7 L859.3,530.5 L857.6,531.3 L855.9,530.6 L854.3,530.5 L852.7,529.2 L851.1,529.8 L849.5,529.0 L847.9,529.4 L846.3,530.2 L844.7,528.4 L843.1,528.8 L841.5,527.7 L839.9,526.5 L838.3,528.1 L836.8,527.7 L835.3,529.7 L833.8,530.1 L832.3,532.1 L830.8,534.8 L829.2,533.4 L827.7,533.0 L826.1,533.1 L824.5,533.6 L822.9,534.3 L821.4,535.4 L819.8,533.1 L818.2,533.6 L816.7,533.9 L815.1,534.8 L813.5,533.0 L812.0,532.6 L810.4,532.7 L808.8,533.7 L807.2,535.2 L805.7,533.5 L804.1,532.9 L802.5,533.6 L801.0,532.9 L799.4,533.4 L797.8,533.3 L796.2,531.5 L794.7,530.8 L793.1,528.1 L791.5,530.1 L790.0,531.2 L788.4,530.3 L786.8,530.8 L785.2,534.3 L783.6,534.7 L782.1,536.2 L780.5,536.8 L778.8,539.0 L777.2,540.3 L775.5,544.2 L774.0,543.8 L772.5,544.5 L771.0,544.6 L769.5,545.9 L768.0,546.4 L766.3,546.5 L764.6,547.8 L763.0,549.9 L761.3,553.6 L759.6,554.2 L757.9,555.4 L756.3,557.9 L754.7,558.4 L753.1,559.8 L751.5,562.1 L749.8,562.6 L748.2,564.6 L746.6,565.8 L745.0,569.3 L743.5,568.8 L742.0,570.3 L740.5,571.6 L739.0,572.2 L737.5,574.1 L736.0,573.8 L734.5,575.3 L733.0,578.3 L731.5,578.1 L730.0,579.1 L728.5,580.8 L726.9,582.2 L725.4,582.7 L723.8,584.1 L722.3,586.0 L720.8,587.0 L719.2,587.2 L717.7,588.9 L716.2,588.4 L714.6,590.1 L713.1,592.0 L711.5,592.8 L710.0,591.7 L708.5,592.7 L706.9,592.1 L705.4,593.2 L703.8,593.7 L702.3,593.4 L700.8,592.4 L699.2,594.6 L697.7,594.6 L696.2,594.3 L694.6,594.0 L693.1,593.2 L691.5,593.2 L690.0,595.0 L688.3,597.0 L686.7,599.0 L685.0,601.0 L683.3,601.0 L681.7,602.8 L680.0,605.0 L678.0,602.4 L676.0,600.0 L674.4,600.2 L672.8,602.5 L671.2,603.4 L669.6,604.3 L668.0,603.5 L666.4,603.5 L664.8,604.6 L663.2,605.9 L661.6,606.0 L660.0,607.3Z" fill="#0000ff" fill-opacity="0.12" stroke="none"/>
<path d="M300.0,648.0 L301.5,645.9 L303.0,643.8 L304.5,641.7 L306.0,639.6 L307.5,637.5 L309.0,635.4 L310.5,633.3 L312.0,631.2 L313.5,629.1 L315.0,627.0 L316.5,624.9 L318.0,622.8 L319.5,620.7 L321.0,618.6 L322.5,616.5 L324.0,614.4 L325.5,612.3 L327.0,610.2 L328.5,608.1 L330.0,606.0 L331.5,603.6 L333.0,601.2 L334.5,598.8 L336.0,596.4 L337.5,594.0 L339.0,591.6 L340.5,589.2 L342.0,586.8 L343.5,584.4 L345.0,582.0 L346.7,575.8 L348.3,569.7 L350.0,563.5 L351.7,557.3 L353.3,551.2 L355.0,545.0 L355.9,538.9 L356.8,532.8 L357.6,526.6 L358.5,520.5 L359.4,514.4 L360.2,508.2 L361.1,502.1 L362.0,496.0 L363.0,489.2 L364.0,482.4 L364.9,475.6 L365.9,468.8 L366.9,462.0 L367.7,454.7 L368.6,447.3 L369.4,440.0 L370.7,447.5 L372.0,455.0 L373.7,458.3 L375.3,461.7 L377.0,465.0 L378.0,458.4 L379.0,451.8 L380.0,445.2 L381.0,438.6 L382.0,432.0 L383.6,428.2 L385.2,424.4 L386.8,420.6 L388.4,416.8 L390.0,413.0 L391.5,412.1 L393.0,411.3 L394.5,410.4 L396.0,409.6 L397.5,408.8 L399.0,407.9 L400.5,407.1 L402.0,406.2 L403.5,405.4 L405.0,404.5 L406.5,403.6 L408.0,402.8 L409.5,401.9 L411.0,401.1 L412.5,400.2 L414.0,399.4 L415.5,398.6 L417.0,397.7 L418.5,396.9 L420.0,396.0 L420.0,399.0 L418.5,400.0 L417.0,401.0 L415.5,402.0 L414.0,403.0 L412.5,404.0 L411.0,405.0 L409.5,406.0 L408.0,407.0 L406.5,408.0 L405.0,409.0 L403.5,410.0 L402.0,411.0 L400.5,412.0 L399.0,413.0 L397.5,414.0 L396.0,415.0 L394.5,416.0 L393.0,417.0 L391.5,418.0 L390.0,419.0 L388.4,424.8 L386.8,430.6 L385.2,436.4 L383.6,442.2 L382.0,448.0 L381.2,454.3 L380.3,460.7 L379.5,467.0 L378.7,473.3 L377.8,479.7 L377.0,486.0 L376.0,480.0 L375.0,474.0 L374.0,468.0 L373.0,462.0 L371.2,464.0 L369.4,466.0 L368.7,472.8 L368.0,479.6 L367.4,486.4 L366.7,493.2 L366.0,500.0 L365.0,506.2 L364.0,512.4 L363.0,518.7 L362.0,524.9 L361.0,531.1 L360.0,537.3 L359.0,543.6 L358.0,549.8 L357.0,556.0 L355.5,560.2 L354.0,564.5 L352.5,568.8 L351.0,573.0 L349.5,577.2 L348.0,581.5 L346.5,585.8 L345.0,590.0 L343.5,592.2 L342.0,594.4 L340.5,596.6 L339.0,598.8 L337.5,601.0 L336.0,603.2 L334.5,605.4 L333.0,607.6 L331.5,609.8 L330.0,612.0 L328.5,614.0 L327.0,616.0 L325.5,618.0 L324.0,620.0 L322.5,622.0 L321.0,624.0 L319.5,626.0 L318.0,628.0 L316.5,630.0 L315.0,632.0 L313.5,634.0 L312.0,636.0 L310.5,638.0 L309.0,640.0 L307.5,642.0 L306.0,644.0 L304.5,646.0 L303.0,648.0 L301.5,650.0 L300.0,652.0Z" fill="#32cd32" fill-opacity="0.12" stroke="none"/>
<path d="M505.0,590.0 L506.5,588.1 L508.1,586.1 L509.6,584.2 L511.1,582.3 L512.6,580.4 L514.2,578.4 L515.7,576.5 L517.2,574.6 L518.8,572.6 L520.3,570.7 L521.8,569.6 L523.3,568.4 L524.8,567.3 L526.3,566.2 L527.8,565.0 L529.3,563.9 L530.8,562.8 L532.3,561.7 L533.8,560.5 L535.3,559.4 L536.9,556.4 L538.4,553.4 L540.0,550.4 L541.6,547.5 L543.2,544.5 L544.8,541.5 L546.3,538.5 L547.9,535.5 L549.4,529.0 L550.9,522.4 L552.4,515.9 L553.9,509.3 L555.4,502.8 L556.2,496.5 L557.1,490.2 L558.0,484.0 L558.8,477.7 L559.6,471.4 L560.5,465.1 L561.1,458.8 L561.8,452.6 L562.4,446.3 L563.0,440.0 L563.4,433.5 L563.8,427.1 L564.1,420.6 L564.5,414.2 L564.9,407.7 L565.3,401.2 L565.7,394.8 L566.0,388.3 L566.4,381.9 L566.8,375.4 L567.3,369.1 L567.8,362.8 L568.3,356.5 L568.9,350.3 L569.4,344.0 L569.9,337.7 L570.4,331.4 L570.9,325.1 L571.5,318.9 L572.0,312.6 L572.5,306.3 L573.0,300.0 L573.4,294.0 L573.9,288.0 L574.3,282.0 L575.9,275.7 L577.5,269.4 L579.0,263.1 L580.6,256.8 L582.4,252.5 L584.1,248.2 L585.9,244.0 L587.6,239.7 L589.4,235.4 L591.1,232.3 L592.7,229.1 L594.4,226.0 L596.1,222.9 L597.7,219.7 L599.4,216.6 L601.2,214.6 L602.9,212.6 L604.7,210.5 L606.4,208.5 L608.2,206.5 L609.8,206.1 L611.3,205.7 L612.9,205.2 L614.5,204.8 L616.0,204.4 L617.6,204.0 L619.2,203.6 L620.7,203.2 L622.3,202.8 L623.9,202.3 L625.4,201.9 L627.0,201.5 L628.6,200.7 L630.3,199.9 L631.9,199.1 L633.5,198.4 L635.1,197.6 L636.8,196.8 L638.4,196.0 L640.0,195.9 L641.5,195.9 L643.1,195.8 L644.7,195.7 L646.3,195.7 L647.8,195.6 L649.4,195.5 L651.0,195.5 L652.6,195.4 L654.1,195.3 L655.7,195.3 L657.3,195.2 L658.9,195.1 L660.4,195.1 L662.0,195.0 L662.0,198.0 L660.4,198.1 L658.9,198.3 L657.3,198.4 L655.7,198.5 L654.1,198.7 L652.6,198.8 L651.0,198.9 L649.4,199.1 L647.8,199.2 L646.3,199.3 L644.7,199.5 L643.1,199.6 L641.5,199.7 L640.0,199.9 L638.4,200.0 L636.8,201.7 L635.1,203.4 L633.5,205.1 L631.9,206.9 L630.3,208.6 L628.6,210.3 L627.0,212.0 L625.5,214.2 L624.0,216.3 L622.5,218.5 L621.0,220.7 L619.5,222.8 L618.0,225.0 L616.0,230.0 L614.0,235.0 L613.2,241.2 L612.5,247.5 L611.8,253.8 L611.0,260.0 L610.5,266.7 L610.1,273.3 L609.6,280.0 L609.1,286.7 L608.7,293.3 L608.2,300.0 L607.8,306.3 L607.5,312.6 L607.1,318.9 L606.8,325.1 L606.4,331.4 L606.1,337.7 L605.7,344.0 L605.3,350.3 L605.0,356.6 L604.6,362.9 L604.3,369.1 L603.9,375.4 L603.6,381.7 L603.2,388.0 L602.7,394.5 L602.2,401.0 L601.8,407.5 L601.3,414.0 L600.8,420.5 L600.4,427.0 L599.9,433.5 L599.4,440.0 L599.1,446.3 L598.8,452.6 L598.5,458.8 L598.2,465.1 L597.7,471.4 L597.2,477.7 L596.7,483.9 L596.2,490.2 L595.7,496.5 L594.7,502.8 L593.7,509.1 L592.6,515.4 L591.6,521.7 L590.6,528.0 L589.1,532.3 L587.6,536.5 L586.1,540.8 L584.6,545.0 L583.1,549.3 L581.5,550.9 L580.0,552.4 L578.4,554.0 L576.8,555.6 L575.2,557.2 L573.6,558.8 L572.1,560.3 L570.5,561.9 L568.9,562.4 L567.4,562.9 L565.8,563.3 L564.2,563.8 L562.7,564.3 L561.1,564.8 L559.6,565.2 L558.0,565.7 L556.4,566.0 L554.9,566.3 L553.3,566.6 L551.7,567.0 L550.1,567.3 L548.5,567.6 L547.0,567.9 L545.4,568.2 L543.9,569.2 L542.4,570.2 L540.9,571.1 L539.4,572.1 L537.8,573.1 L536.3,574.1 L534.8,575.1 L533.3,576.0 L531.8,577.0 L530.3,578.0 L528.7,578.2 L527.2,578.5 L525.6,578.8 L524.0,579.0 L522.5,579.2 L520.9,579.5 L519.4,579.8 L517.8,580.0 L516.2,581.8 L514.6,583.5 L513.0,585.2 L511.4,587.0 L509.8,588.8 L508.2,590.5 L506.6,592.2 L505.0,594.0Z" fill="#ff0000" fill-opacity="0.12" stroke="none"/>
<path d="M252.6,715.6 L253.4,716.2 L254.3,717.4 L255.1,717.1 L255.9,717.4 L256.8,718.0 L257.6,717.6 L258.4,718.5 L259.3,719.3 L260.1,720.1 L260.9,719.2 L261.8,719.8 L262.6,719.9 L263.4,721.6 L264.3,722.0 L265.1,721.2 L265.9,723.4 L266.8,724.3 L267.6,724.4 L268.5,724.8 L269.3,724.5 L270.1,724.7 L271.0,726.2 L271.8,726.1 L272.7,726.9 L273.5,727.6 L274.4,727.8 L275.2,729.2 L276.1,730.4 L277.1,732.3 L278.1,733.0 L279.0,734.2 L279.9,734.0 L280.8,734.2 L281.7,733.9 L282.5,733.5 L283.4,734.8 L284.3,735.0 L285.2,734.8 L286.0,732.7 L286.9,730.2 L287.7,728.2 L288.5,726.5 L289.2,720.1 L289.9,715.3 L290.4,707.6 L291.0,701.0 L291.5,693.0 L291.8,687.7 L292.1,681.4 L292.4,673.5 L292.8,667.3 L293.1,662.3 L293.4,655.5 L293.8,648.5 L294.3,639.8 L294.7,631.2 L295.6,630.0 L296.5,628.4 L297.4,630.4 L298.2,632.7 L299.1,636.0 L300.0,642.0 L301.0,646.6 L301.9,650.1 L302.8,654.8 L303.6,651.4 L304.5,648.1 L305.4,646.3 L306.2,642.3 L307.0,639.7 L307.9,636.4 L308.8,633.1 L309.8,631.2 L310.7,627.4 L311.6,625.3 L312.5,623.8 L313.4,623.5 L314.3,622.4 L315.2,621.8 L316.1,622.4 L317.0,621.7 L317.9,620.0 L318.7,620.6 L319.6,619.2 L320.4,619.1 L321.2,619.7 L322.1,619.2 L322.9,617.8 L323.7,619.1 L324.6,617.6 L325.4,617.2 L326.3,619.4 L327.3,620.0 L328.2,621.0 L329.2,621.8 L330.1,624.9 L331.0,628.9 L331.8,631.6 L332.7,635.4 L333.6,638.2 L334.7,633.0 L335.7,628.8 L336.8,622.8 L337.6,622.3 L338.5,622.3 L339.3,620.6 L340.1,619.7 L341.0,620.6 L341.8,620.1 L342.6,618.5 L343.5,617.6 L344.3,618.0 L345.2,618.5 L346.1,617.1 L347.0,618.2 L347.9,618.2 L348.8,617.6 L349.7,617.1 L350.6,616.3 L351.5,616.4 L352.4,618.5 L353.2,617.8 L354.1,618.9 L355.0,618.5 L355.9,619.9 L356.8,620.0 L357.6,619.7 L358.5,619.7 L359.4,621.1 L360.2,620.2 L361.1,620.5 L361.9,621.4 L362.7,622.3 L363.6,622.2 L364.4,621.7 L365.2,623.0 L366.1,622.1 L366.9,621.7 L367.7,621.2 L368.6,620.8 L369.4,619.3 L370.2,618.6 L371.1,618.1 L371.9,617.8 L372.8,617.2 L373.8,617.6 L374.8,618.8 L375.7,619.4 L376.5,620.5 L377.4,622.2 L378.2,623.7 L379.1,621.3 L380.1,619.5 L381.1,618.0 L382.0,618.3 L382.9,619.0 L383.8,620.3 L384.7,619.4 L385.6,621.1 L386.5,621.8 L387.4,623.0 L388.3,623.1 L389.2,624.0 L390.1,622.2 L391.0,622.5 L391.9,622.8 L392.8,622.9 L393.7,622.4 L394.6,622.0 L395.4,620.9 L396.3,619.9 L397.1,617.6 L397.9,619.7 L398.8,621.9 L399.6,623.6 L400.6,621.5 L401.5,620.8 L402.4,619.8 L403.4,618.0 L404.2,618.0 L405.1,617.5 L405.9,617.8 L406.7,617.9 L407.6,616.9 L408.4,617.8 L409.2,618.7 L410.1,618.6 L410.9,618.3 L411.7,617.6 L412.6,618.1 L413.4,617.9 L414.2,617.6 L415.1,618.3 L415.9,617.0 L416.7,618.9 L417.6,618.5 L418.4,620.2 L419.3,619.7 L420.2,618.8 L421.1,619.1 L422.0,618.5 L422.9,618.2 L423.8,618.4 L424.7,616.8 L425.5,616.4 L426.4,617.2 L427.2,618.3 L428.0,617.8 L428.9,617.9 L429.7,619.6 L430.5,620.0 L431.3,620.1 L432.2,621.4 L433.0,621.1 L433.8,622.1 L434.6,621.8 L435.4,622.7 L436.3,624.0 L437.1,624.9 L437.9,625.5 L438.7,623.9 L439.5,623.5 L440.3,622.4 L441.2,621.3 L442.0,621.3 L442.8,621.4 L443.6,621.0 L444.5,620.5 L445.4,620.7 L446.2,619.2 L447.1,618.5 L448.0,618.7 L448.9,618.2 L449.8,617.8 L450.6,617.9 L451.5,618.1 L452.4,617.7 L453.2,617.7 L454.1,618.9 L454.9,619.7 L455.7,619.1 L456.6,618.5 L457.4,618.5 L458.3,619.7 L459.2,618.1 L460.1,618.8 L461.0,618.4 L461.9,617.5 L462.8,618.0 L463.7,616.3 L464.5,616.4 L465.3,617.2 L466.1,616.7 L466.9,618.2 L467.7,617.5 L468.5,617.4 L469.3,617.3 L470.1,618.5 L470.9,618.6 L471.7,619.1 L472.5,619.3 L473.4,619.1 L474.2,618.9 L475.1,617.9 L476.0,616.3 L476.8,616.3 L477.6,615.5 L478.5,614.7 L479.3,615.2 L480.1,615.5 L481.0,614.2 L481.8,613.9 L482.6,613.7 L483.4,614.9 L484.3,615.2 L485.1,615.8 L485.9,616.6 L486.8,616.4 L487.6,617.6 L488.4,618.4 L489.3,617.4 L490.1,619.2 L490.9,618.6 L491.8,616.9 L492.6,616.8 L493.4,616.7 L494.3,616.9 L495.1,615.5 L495.9,615.2 L496.8,615.3 L497.6,614.8 L498.5,615.7 L499.3,615.4 L500.2,616.1 L501.1,615.9 L501.9,617.3 L502.8,618.2 L503.6,618.5 L504.5,619.2 L505.4,618.8 L506.2,620.5 L507.1,621.5 L507.9,620.8 L508.7,619.3 L509.5,618.9 L510.3,617.3 L511.1,617.6 L511.9,616.9 L512.7,615.3 L513.5,615.0 L514.4,616.0 L515.2,616.7 L516.1,617.6 L516.9,617.6 L517.8,617.0 L518.6,618.8 L519.5,618.0 L520.3,619.6 L521.2,619.4 L522.0,620.2 L522.9,621.8 L523.8,621.4 L524.6,621.9 L525.5,623.3 L526.3,624.5 L527.2,625.5 L528.1,623.1 L529.0,621.2 L529.8,618.2 L530.7,616.7 L531.6,612.9 L532.5,612.8 L533.4,613.2 L534.3,612.8 L535.2,613.5 L536.1,613.4 L537.0,613.1 L537.9,613.6 L538.8,612.2 L539.7,610.6 L540.6,609.7 L541.4,609.6 L542.3,608.9 L543.2,606.6 L544.1,606.6 L545.0,608.4 L545.9,609.0 L546.7,610.3 L547.6,611.0 L548.5,612.9 L549.4,612.7 L550.2,612.8 L551.1,611.5 L552.0,612.9 L552.8,612.2 L553.7,611.7 L554.5,612.2 L555.4,611.7 L556.3,611.4 L557.1,611.5 L558.0,610.2 L558.9,611.1 L559.8,611.2 L560.7,612.4 L561.5,612.7 L562.4,611.7 L563.3,612.0 L564.2,611.6 L565.1,612.5 L566.0,613.7 L566.9,614.5 L567.8,614.2 L568.7,614.2 L569.6,614.3 L570.5,615.5 L571.4,615.7 L572.3,613.8 L573.2,614.2 L574.1,612.4 L575.0,611.9 L575.9,611.5 L576.8,611.8 L577.7,611.7 L578.6,612.0 L579.5,612.8 L580.4,612.3 L581.3,613.7 L582.2,613.1 L583.1,614.0 L583.9,613.5 L584.8,613.3 L585.6,613.8 L586.4,613.7 L587.3,613.5 L588.1,613.5 L588.9,613.6 L589.8,612.9 L590.6,612.8 L591.5,612.5 L592.5,611.6 L593.5,610.3 L594.4,609.8 L595.2,609.3 L596.1,609.6 L596.9,608.3 L597.7,609.0 L598.6,609.1 L599.4,609.2 L600.2,608.0 L601.1,607.6 L601.9,608.6 L602.7,607.7 L603.6,609.2 L604.4,609.4 L605.3,608.2 L606.1,608.3 L607.0,609.4 L607.8,608.9 L608.7,608.6 L609.5,610.2 L610.3,609.2 L611.2,609.4 L612.0,607.9 L612.8,607.7 L613.7,607.9 L614.5,606.4 L615.3,606.1 L616.2,606.6 L617.0,606.8 L617.8,608.0 L618.7,607.3 L619.5,608.7 L620.3,610.2 L621.2,610.8 L622.0,612.0 L622.9,610.2 L623.7,609.0 L624.5,608.2 L625.4,607.2 L626.2,607.3 L627.1,606.6 L627.9,606.9 L628.8,606.4 L629.6,606.5 L630.4,606.8 L631.3,608.2 L632.1,608.9 L633.0,610.3 L634.0,610.1 L635.0,611.1 L635.9,614.2 L636.8,613.6 L637.7,614.0 L638.6,613.3 L639.5,613.4 L640.4,613.5 L641.3,613.4 L642.2,613.7 L643.1,611.3 L644.0,611.2 L644.9,610.4 L645.7,608.0 L646.6,607.0 L647.5,606.4 L648.4,604.6 L649.2,604.0 L650.1,603.8 L650.9,604.4 L651.8,603.5 L652.6,604.9 L653.5,605.0 L654.3,604.8 L655.2,605.0 L656.0,604.5 L656.8,602.1 L657.7,600.5 L658.5,598.4 L659.3,599.0 L660.1,598.6 L660.9,597.2 L661.7,598.0 L662.5,597.6 L663.3,597.3 L664.1,597.1 L664.9,596.1 L665.7,596.6 L666.5,596.4 L667.3,595.8 L668.1,595.6 L668.9,595.3 L669.7,594.3 L670.5,594.5 L671.3,593.1 L672.1,593.1 L672.9,593.1 L673.7,592.0 L674.5,592.2 L675.3,592.6 L676.1,592.4 L677.0,592.3 L678.0,594.2 L679.0,594.5 L679.9,594.5 L680.7,592.8 L681.6,590.5 L682.4,588.2 L683.2,585.7 L684.1,584.6 L684.9,582.0 L685.7,581.6 L686.6,581.2 L687.4,581.3 L688.2,579.1 L689.1,579.5 L689.9,579.4 L690.7,578.2 L691.6,577.8 L692.4,576.8 L693.2,576.5 L694.1,576.4 L694.9,575.6 L695.8,574.9 L696.6,575.4 L697.5,574.1 L698.3,573.1 L699.1,573.1 L700.0,571.7 L700.8,572.6 L701.7,572.2 L702.5,572.6 L703.3,571.4 L704.2,572.2 L705.0,572.9 L705.8,571.7 L706.7,573.3 L707.5,572.3 L708.3,572.8 L709.2,572.5 L710.0,573.2 L710.8,573.1 L711.6,571.8 L712.4,572.9 L713.2,571.8 L714.0,571.5 L714.9,570.5 L715.7,569.0 L716.6,567.6 L717.5,567.1 L718.4,565.9 L719.2,564.2 L720.1,563.8 L721.0,562.0 L721.8,560.2 L722.7,559.3 L723.5,558.2 L724.4,557.5 L725.2,557.9 L726.1,556.6 L726.9,556.7 L727.8,555.8 L728.6,553.6 L729.5,554.3 L730.3,553.7 L731.2,551.6 L732.1,552.4 L733.0,551.3 L733.8,550.8 L734.7,551.3 L735.6,549.6 L736.5,549.5 L737.3,549.4 L738.1,548.3 L738.9,546.9 L739.8,546.9 L740.6,545.8 L741.4,544.5 L742.2,542.6 L743.0,542.5 L743.8,541.4 L744.6,540.0 L745.5,538.7 L746.3,538.6 L747.1,537.1 L747.9,536.7 L748.7,537.0 L749.6,536.4 L750.4,535.7 L751.2,536.0 L752.1,535.5 L752.9,535.8 L753.7,535.2 L754.6,535.8 L755.4,535.6 L756.2,533.5 L757.1,530.7 L757.9,528.6 L758.7,529.4 L759.6,529.0 L760.4,528.1 L761.2,527.0 L762.1,526.1 L762.9,526.3 L763.7,525.7 L764.6,525.2 L765.4,524.7 L766.4,523.4 L767.3,520.8 L768.2,519.1 L769.2,518.9 L770.1,518.9 L771.0,518.7 L771.9,516.9 L772.8,516.4 L773.7,516.6 L774.6,516.8 L775.5,517.1 L776.3,514.9 L777.2,514.3 L778.0,512.3 L778.8,510.9 L779.7,510.7 L780.5,509.4 L781.4,508.7 L782.3,507.3 L783.2,506.5 L784.1,505.1 L785.0,504.4 L785.9,504.3 L786.8,503.7 L787.7,502.0 L788.6,501.4 L789.5,502.3 L790.4,501.9 L791.3,501.8 L792.2,500.4 L793.1,500.3 L793.9,499.6 L794.8,500.2 L795.6,499.1 L796.4,499.1 L797.3,499.4 L798.1,497.9 L798.9,498.0 L799.7,498.4 L800.6,498.8 L801.4,497.9 L802.2,497.6 L803.0,497.0 L803.9,498.4 L804.7,497.1 L805.5,496.8 L806.3,497.7 L807.1,497.7 L808.0,498.0 L808.8,497.3 L809.6,498.1 L810.4,496.9 L811.2,496.9 L812.1,497.7 L812.9,496.8 L813.7,497.0 L814.5,497.8 L815.4,497.9 L816.2,497.1 L817.0,496.6 L817.8,496.1 L818.7,496.1 L819.5,494.7 L820.3,494.9 L821.2,496.6 L822.0,497.3 L822.8,498.7 L823.7,499.6 L824.5,500.3 L825.3,499.0 L826.2,499.0 L827.0,497.8 L827.9,497.2 L828.7,496.9 L829.5,497.5 L830.4,497.2 L831.2,495.6 L832.1,495.1 L832.9,494.7 L833.8,494.3 L834.6,493.9 L835.5,492.7 L836.5,491.1 L837.4,490.4 L838.3,489.8 L839.1,489.7 L840.0,490.4 L840.8,490.3 L841.7,489.7 L842.5,491.0 L843.4,491.7 L844.2,490.9 L845.1,490.5 L845.9,491.5 L846.8,491.0 L847.7,490.4 L848.6,490.5 L849.5,489.3 L850.4,488.8 L851.3,486.7 L852.2,486.6 L853.1,487.8 L853.9,487.1 L854.8,487.4 L855.7,489.2 L856.5,490.3 L857.4,489.4 L858.2,490.7 L859.1,490.4 L860.0,490.2 L860.9,488.9 L861.7,486.9 L862.6,485.4 L863.5,485.2 L864.3,484.9 L865.2,485.2 L866.0,484.5 L866.8,484.2 L867.7,485.3 L868.5,484.9 L869.3,484.4 L870.2,484.4 L871.0,484.6 L871.8,486.3 L872.7,488.2 L873.5,488.9 L874.3,491.1 L875.2,492.5 L876.0,494.4 L876.8,494.3 L877.6,494.3 L878.4,494.4 L879.2,494.6 L880.0,493.9 L880.8,493.6 L881.6,493.8 L882.4,494.0 L883.2,493.3 L884.0,493.2 L884.8,492.6 L885.6,493.6 L886.4,494.3 L887.2,493.2 L888.0,492.5 L888.8,492.5 L889.6,492.9 L890.4,492.7 L891.2,493.9 L892.0,492.4 L892.8,492.5 L893.6,492.2 L894.5,493.4 L895.4,494.2 L896.3,493.4 L897.2,493.3 L898.1,494.3 L899.0,495.0 L899.9,496.0 L900.8,494.8 L901.7,493.6 L902.6,492.7 L903.4,491.8 L904.3,490.9 L905.2,490.8 L906.0,490.2 L906.9,488.9 L907.7,488.1 L908.6,487.7 L909.4,487.0 L910.3,487.5 L911.1,486.3 L912.0,486.1 L912.8,486.1 L913.6,485.7 L914.5,485.3 L915.3,486.5 L916.1,486.9 L917.0,486.0 L917.8,486.3 L918.6,487.2 L919.5,486.6 L920.3,486.1 L921.1,485.7 L922.0,487.5 L922.8,487.7 L923.6,487.0 L924.5,487.2 L925.3,487.3 L926.1,486.5 L927.0,487.3 L927.8,486.5 L928.7,485.2 L929.5,484.2 L930.3,484.5 L931.2,484.1 L932.0,484.5 L932.9,484.1 L933.7,483.4 L934.6,482.1 L935.4,481.5 L936.4,481.3 L937.3,480.8 L938.2,481.5 L939.2,480.6 L940.1,481.2 L941.0,482.5 L941.9,481.8 L942.7,482.6 L943.6,482.4 L944.5,484.0 L945.4,483.3 L946.3,483.5 L947.2,482.6 L948.1,481.5 L949.0,478.9 L949.9,477.8 L950.8,477.5 L951.7,475.3 L952.5,475.9 L953.4,476.1 L954.2,477.1 L955.1,476.6 L955.9,477.1 L956.8,476.2 L957.6,477.1 L958.5,476.6 L959.3,477.5 L960.1,476.5 L961.0,478.0 L961.8,477.5 L962.6,478.4 L963.5,478.8 L964.3,478.6 L965.1,479.7 L965.9,479.0 L966.8,478.9 L967.6,478.4 L968.4,478.8 L969.2,479.2 L970.0,479.8 L970.8,479.2 L971.7,479.8 L972.5,478.8 L973.3,479.1 L974.1,479.4 L974.9,480.4 L975.7,480.4 L976.6,480.0 L977.4,478.8 L978.2,479.2 L979.0,480.0 L979.8,479.3 L980.6,479.8 L981.5,479.7 L982.3,478.8 L983.1,480.6 L984.0,479.9 L985.0,478.1 L986.0,478.1 L986.9,476.9 L987.7,477.3 L988.6,477.9 L989.4,477.8 L990.3,478.1 L991.1,478.6 L992.0,479.4 L992.8,479.0 L993.6,479.1 L994.5,480.4 L995.3,480.1 L996.2,481.5 L997.0,481.3 L997.8,481.0 L998.7,479.8 L999.5,480.1 L1000.3,478.4 L1001.2,477.8 L1002.0,477.2 L1002.8,477.8 L1003.7,477.6 L1004.5,476.2 L1005.5,477.2 L1006.4,478.8 L1007.3,479.3 L1008.3,479.1 L1009.1,478.8 L1010.0,478.3 L1010.8,477.9 L1011.6,478.1 L1012.5,477.2 L1013.3,478.4 L1014.1,477.4 L1015.0,477.1 L1015.8,477.0 L1016.7,477.7 L1017.6,478.3 L1018.4,477.9 L1019.3,478.1 L1020.2,478.6 L1021.1,478.3 L1022.0,479.3 L1022.8,480.4 L1023.7,481.6 L1024.6,481.8 L1025.4,481.2 L1026.2,480.9 L1027.0,479.5 L1027.8,479.6 L1028.6,479.5 L1029.4,479.9 L1030.2,478.7 L1031.1,478.9 L1031.9,478.9 L1032.7,479.3 L1033.5,479.3 L1034.3,478.7 L1035.1,477.5 L1035.9,478.3 L1036.7,478.3 L1037.5,477.2 L1038.4,476.2 L1039.2,475.9 L1040.0,474.7 L1040.8,475.2 L1041.6,475.4 L1042.5,474.1 L1043.3,473.9 L1044.1,473.6 L1045.0,473.6 L1045.9,475.9 L1046.7,476.7 L1047.6,476.9 L1048.5,477.6 L1049.5,477.1 L1050.4,477.0 L1051.3,476.6 L1052.3,475.1 L1053.1,476.7 L1054.0,476.3 L1054.8,476.9 L1055.6,476.7 L1056.5,478.7 L1057.3,478.0 L1058.1,479.5 L1059.0,479.4 L1059.8,479.7 L1060.6,480.1 L1061.5,479.9 L1062.3,481.3 L1063.1,482.1 L1064.0,482.2 L1064.8,482.1 L1065.7,480.6 L1066.6,481.3 L1067.5,480.0 L1068.4,480.6 L1069.3,479.1 L1070.2,479.0 L1071.1,479.1 L1071.9,478.1 L1072.8,478.7 L1073.6,477.9 L1074.5,477.7 L1075.3,478.1 L1076.2,479.7 L1077.0,480.0 L1077.9,479.6 L1078.7,478.9" fill="none" stroke="#0000ff" stroke-width="3.2" stroke-linejoin="round" stroke-linecap="butt" />
<path d="M252.6,715.7 L253.6,715.3 L254.7,714.9 L255.7,713.9 L256.8,713.0 L257.8,712.6 L258.9,712.1 L259.9,712.1 L260.9,711.7 L262.0,711.2 L263.0,710.6 L264.1,710.2 L265.1,709.2 L266.1,708.5 L267.1,707.6 L268.1,707.5 L269.1,706.3 L270.1,706.1 L271.1,704.9 L272.1,704.6 L273.1,703.7 L274.1,703.0 L275.1,702.8 L276.2,701.5 L277.2,700.5 L278.2,700.5 L279.2,699.8 L280.2,698.7 L281.2,698.7 L282.2,698.3 L283.2,696.9 L284.2,696.2 L285.2,695.2 L286.3,693.3 L287.4,691.7 L288.5,689.6 L289.6,688.1 L290.7,685.7 L291.8,683.7 L292.9,682.4 L294.0,680.4 L295.0,679.1 L296.0,678.0 L297.0,676.7 L298.0,675.4 L299.0,673.7 L300.0,672.9 L301.0,672.2 L302.0,671.2 L303.0,669.7 L304.1,668.1 L305.1,666.6 L306.1,665.6 L307.1,664.4 L308.1,662.7 L309.1,661.3 L310.1,660.1 L311.1,659.0 L312.1,658.1 L313.1,656.8 L314.1,655.0 L315.4,649.2 L316.6,642.8 L317.9,636.5 L318.9,635.1 L319.9,634.0 L320.9,632.9 L321.9,632.1 L322.9,630.5 L324.0,629.6 L325.0,628.2 L326.0,627.5 L327.0,625.9 L328.0,624.7 L329.1,621.9 L330.1,619.4 L331.2,616.1 L332.3,613.4 L333.4,610.4 L334.4,607.5 L335.5,604.9 L336.8,607.1 L338.0,608.7 L339.3,610.7 L340.4,609.2 L341.4,608.8 L342.5,607.6 L343.6,606.3 L344.7,605.8 L345.7,605.3 L346.8,603.6 L347.9,603.4 L348.9,603.6 L350.0,603.2 L351.1,602.8 L352.2,602.3 L353.2,602.0 L354.3,602.3 L355.6,599.6 L356.8,596.6 L358.1,592.9 L359.1,592.2 L360.2,592.0 L361.2,592.4 L362.2,592.5 L363.2,592.3 L364.3,591.8 L365.3,591.7 L366.3,591.6 L367.3,591.6 L368.4,591.2 L369.4,591.7 L370.4,592.9 L371.4,593.2 L372.5,594.1 L373.5,595.6 L374.5,596.2 L375.7,595.5 L377.0,594.0 L378.2,592.9 L379.5,594.2 L380.7,595.0 L382.0,596.0 L383.1,595.5 L384.1,595.5 L385.1,595.2 L386.2,594.4 L387.2,594.5 L388.3,593.8 L389.3,593.2 L390.3,592.9 L391.3,593.0 L392.3,592.5 L393.3,592.2 L394.6,596.4 L395.8,600.6 L397.1,604.5 L398.2,603.5 L399.3,602.8 L400.4,602.5 L401.5,601.9 L402.6,601.1 L403.7,600.1 L404.8,599.3 L405.9,599.0 L406.9,599.6 L407.9,599.7 L408.9,600.7 L409.9,601.8 L410.9,602.5 L411.9,602.2 L413.0,601.9 L414.0,601.2 L415.0,600.9 L416.0,600.1 L417.1,599.3 L418.1,598.9 L419.1,598.5 L420.1,598.7 L421.2,598.3 L422.2,597.8 L423.2,597.6 L424.3,596.8 L425.3,596.8 L426.4,596.8 L427.4,596.3 L428.5,595.9 L429.5,595.7 L430.6,595.4 L431.6,595.4 L432.6,594.8 L433.7,594.3 L434.7,594.2 L435.8,594.4 L436.8,594.4 L437.9,594.2 L438.9,594.3 L440.0,593.6 L441.0,592.8 L442.1,592.9 L443.1,592.9 L444.1,592.6 L445.2,592.9 L446.2,592.7 L447.3,592.4 L448.3,592.3 L449.4,592.9 L450.4,592.2 L451.5,592.2 L452.6,592.0 L453.6,591.8 L454.6,591.9 L455.7,591.8 L456.8,592.3 L457.8,592.1 L458.8,592.2 L459.9,591.7 L460.9,591.5 L462.0,591.5 L463.0,591.6 L464.1,591.0 L465.1,590.8 L466.2,591.0 L467.2,590.9 L468.3,590.2 L469.4,590.0 L470.4,590.1 L471.4,589.6 L472.5,589.6 L473.6,589.7 L474.6,590.2 L475.7,590.0 L476.8,590.1 L477.9,589.9 L478.9,590.2 L480.0,589.9 L481.0,589.9 L482.0,589.7 L483.0,589.5 L484.0,589.2 L485.0,589.1 L486.0,589.3 L487.0,589.1 L488.0,588.7 L489.0,589.3 L490.0,589.0 L491.0,589.3 L492.0,589.1 L493.0,588.6 L494.0,588.8 L495.0,588.8 L496.0,588.1 L497.0,587.5 L498.0,587.6 L499.0,587.7 L500.0,587.5 L501.0,587.4 L502.0,586.9 L503.0,586.8 L504.0,586.5 L505.0,586.6 L506.0,586.6 L507.0,586.7 L508.0,586.8 L509.0,587.3 L510.0,586.9 L511.0,586.8 L512.0,586.9 L513.0,587.7 L514.0,587.7 L515.0,587.2 L516.0,587.8 L517.0,588.2 L518.0,588.4 L519.0,588.0 L520.0,588.3 L521.0,587.8 L522.0,587.4 L523.0,587.8 L524.0,587.9 L525.0,587.3 L526.0,587.6 L527.0,586.8 L528.0,586.7 L529.0,586.2 L530.0,586.1 L531.0,586.0 L532.0,586.4 L533.0,586.2 L534.0,586.1 L535.0,586.0 L536.0,586.1 L537.0,586.7 L538.0,586.7 L539.0,586.3 L540.0,586.6 L541.0,586.6 L542.0,586.6 L543.0,586.6 L544.0,586.8 L545.0,587.0 L546.0,586.8 L547.0,586.9 L548.0,586.8 L549.0,586.9 L550.0,586.7 L551.0,586.6 L552.0,586.7 L553.0,586.9 L554.0,586.6 L555.0,587.1 L556.0,586.9 L557.0,587.2 L558.0,587.2 L559.0,587.5 L560.0,587.3 L561.0,587.0 L562.0,586.8 L563.0,586.9 L564.0,587.1 L565.0,587.3 L566.0,586.7 L567.0,586.4 L568.0,586.2 L569.0,586.1 L570.0,586.1 L571.0,586.0 L572.0,586.2 L573.0,586.2 L574.0,586.7 L575.0,587.0 L576.0,587.4 L577.0,587.6 L578.0,587.6 L579.0,587.7 L580.0,586.9 L581.0,586.7 L582.0,587.3 L583.0,587.1 L584.0,586.7 L585.0,587.0 L586.0,586.8 L587.0,586.8 L588.0,586.5 L589.0,586.3 L590.0,586.0 L591.0,586.3 L592.0,586.8 L593.0,587.1 L594.0,587.0 L595.0,587.0 L596.0,586.5 L597.0,586.1 L598.0,586.5 L599.0,586.3 L600.0,586.3 L601.0,585.6 L602.0,585.5 L603.0,585.6 L604.0,585.9 L605.0,586.2 L606.0,586.2 L607.0,585.7 L608.0,585.6 L609.0,585.9 L610.0,586.2 L611.0,585.8 L612.0,585.3 L613.0,585.5 L614.0,585.4 L615.0,585.2 L616.0,585.0 L617.0,585.0 L618.0,585.2 L619.0,584.8 L620.0,584.9 L621.0,585.5 L622.0,585.6 L623.0,585.1 L624.0,585.1 L625.0,584.8 L626.0,585.3 L627.0,585.4 L628.0,585.0 L629.0,585.2 L630.0,585.4 L631.0,585.5 L632.0,585.3 L633.0,585.2 L634.0,585.2 L635.0,585.8 L636.0,585.5 L637.0,585.5 L638.0,585.5 L639.0,585.2 L640.0,585.3 L641.0,585.2 L642.0,585.3 L643.0,585.4 L644.0,585.4 L645.0,586.0 L646.0,585.7 L647.0,585.6 L648.0,585.9 L649.0,585.8 L650.0,585.9 L651.0,586.1 L652.0,585.6 L653.0,586.0 L654.0,585.7 L655.0,585.6 L656.0,586.2 L657.0,586.7 L658.0,586.6 L659.0,586.0 L660.0,585.9 L661.0,585.6 L662.0,586.0 L663.0,585.5 L664.0,585.2 L665.0,585.4 L666.0,585.5 L667.0,585.4 L668.0,585.3 L669.0,585.6 L670.0,585.2 L671.0,585.4 L672.0,584.8 L673.0,584.5 L674.0,584.2 L675.0,584.3 L676.0,584.3 L677.0,583.7 L678.0,583.6 L679.0,583.7 L680.0,583.4 L681.0,583.3 L682.0,583.2 L683.0,583.1 L684.0,582.6 L685.0,582.4 L686.0,581.9 L687.0,582.5 L688.0,582.7 L689.0,582.4 L690.0,582.8 L691.0,582.9 L692.0,582.1 L693.0,582.4 L694.0,582.1 L695.0,581.8 L696.0,581.6 L697.0,581.6 L698.0,581.2 L699.0,581.0 L700.0,580.9 L701.0,581.1 L702.0,581.1 L703.0,581.0 L704.0,581.7 L705.0,581.6 L706.0,581.7 L707.0,581.8 L708.0,582.2 L709.0,581.7 L710.0,581.5 L711.0,582.0 L712.0,582.3 L713.0,582.5 L714.0,582.2 L715.0,581.9 L716.0,581.6 L717.0,582.1 L718.0,582.3 L719.0,582.1 L720.0,582.3 L721.0,581.9 L722.0,581.9 L723.0,582.3 L724.0,581.8 L725.0,582.0 L726.0,581.7 L727.0,582.2 L728.0,582.4 L729.0,582.4 L730.0,582.1 L731.0,581.5 L732.0,581.7 L733.0,581.7 L734.0,581.6 L735.0,581.3 L736.0,582.0 L737.0,581.9 L738.0,581.8 L739.0,582.1 L740.0,582.3 L741.0,582.0 L742.0,581.8 L743.0,582.0 L744.0,581.6 L745.0,582.0 L746.0,581.3 L747.0,581.8 L748.0,581.8 L749.0,582.0 L750.0,582.4 L751.0,581.9 L752.0,581.9 L753.0,582.3 L754.0,582.5 L755.0,582.4 L756.0,582.7 L757.0,582.7 L758.0,583.0 L759.0,582.9 L760.0,582.6 L761.0,582.5 L762.0,582.2 L763.0,582.2 L764.0,582.1 L765.0,583.0 L766.0,582.7 L767.0,583.0 L768.0,582.7 L769.0,583.5 L770.0,583.5 L771.0,583.1 L772.0,583.6 L773.0,584.0 L774.0,584.1 L775.0,583.4 L776.0,583.2 L777.0,583.3 L778.0,583.0 L779.0,583.0 L780.0,583.2 L781.0,583.2 L782.0,583.3 L783.0,583.2 L784.0,582.7 L785.0,582.8 L786.0,582.6 L787.0,582.1 L788.0,581.7 L789.0,582.1 L790.0,581.9 L791.0,581.6 L792.0,581.7 L793.0,581.7 L794.0,581.6 L795.0,581.7 L796.0,581.7 L797.0,581.7 L798.0,582.1 L799.0,582.1 L800.0,581.5 L801.0,581.9 L802.0,581.5 L803.0,582.0 L804.0,581.3 L805.0,581.3 L806.0,581.9 L807.0,582.0 L808.0,582.1 L809.0,581.6 L810.0,581.3 L811.0,582.0 L812.0,581.5 L813.0,581.4 L814.0,581.6 L815.0,582.1 L816.0,582.2 L817.0,582.7 L818.0,582.7 L819.0,582.3 L820.0,582.7 L821.0,582.3 L822.0,581.8 L823.0,582.5 L824.0,582.8 L825.0,582.7 L826.0,582.5 L827.0,582.2 L828.0,582.0 L829.0,581.8 L830.0,581.8 L831.0,582.1 L832.0,582.7 L833.0,583.0 L834.0,582.8 L835.0,582.8 L836.0,582.6 L837.0,582.8 L838.0,582.9 L839.0,583.2 L840.0,583.2 L841.0,583.0 L842.0,582.8 L843.0,582.3 L844.0,582.4 L845.0,582.4 L846.0,582.1 L847.0,582.0 L848.0,582.2 L849.0,582.0 L850.0,582.4 L851.0,582.3 L852.0,582.9 L853.0,582.9 L854.0,582.7 L855.0,582.5 L856.0,582.4 L857.0,582.2 L858.0,582.8 L859.0,583.1 L860.0,582.9 L861.0,582.9 L862.0,582.3 L863.0,582.5 L864.0,582.1 L865.0,582.1 L866.0,582.4 L867.0,582.1 L868.0,582.0 L869.0,582.5 L870.0,582.5 L871.0,582.9 L872.0,582.3 L873.0,582.0 L874.0,582.7 L875.0,582.7 L876.0,582.7 L877.0,582.6 L878.0,582.2 L879.0,582.8 L880.0,582.6 L881.0,582.9 L882.0,582.3 L883.0,582.1 L884.0,582.3 L885.0,582.1 L886.0,582.6 L887.0,582.2 L888.0,581.8 L889.0,581.7 L890.0,581.8 L891.0,582.5 L892.0,582.8 L893.0,582.7 L894.0,582.4 L895.0,581.9 L896.0,582.4 L897.0,581.9 L898.0,581.8 L899.0,581.9 L900.0,582.4 L901.1,582.0 L902.1,581.8 L903.2,582.5 L904.2,582.0 L905.3,582.5 L906.4,582.1 L907.4,582.1 L908.5,582.1 L909.6,582.3 L910.6,582.9 L911.7,583.2 L912.7,583.0 L913.8,582.5 L914.8,582.5 L915.8,582.6 L916.8,583.2 L917.8,583.7 L918.9,583.1 L919.9,583.2 L920.9,583.9 L921.9,583.5 L922.9,583.3 L923.9,583.4 L924.9,584.2 L926.0,584.0 L927.0,584.4 L928.0,584.1 L929.0,584.5 L930.0,584.3 L931.0,584.4 L932.0,584.6 L933.0,584.7 L934.0,584.3 L935.0,584.6 L936.0,584.1 L937.0,584.3 L938.0,584.3 L939.0,584.4 L940.0,583.4 L941.0,583.1 L942.0,583.2 L943.0,583.5 L944.0,582.9 L945.0,583.1 L946.0,583.1 L947.0,582.7 L948.0,582.7 L949.0,582.7 L950.0,583.0 L951.0,583.9 L952.0,584.2 L953.0,584.6 L954.0,585.0 L955.0,584.7 L956.0,585.0 L957.0,585.1 L958.0,585.3 L959.0,584.7 L960.0,585.2 L961.0,584.7 L962.0,584.8 L963.0,585.0 L964.0,585.2 L965.0,585.3 L966.0,584.9 L967.0,584.7 L968.0,585.0 L969.0,584.4 L970.0,585.0 L971.0,584.7 L972.0,584.6 L973.0,584.5 L974.0,584.8 L975.0,584.4 L976.0,584.2 L977.0,584.0 L978.0,583.9 L979.0,584.4 L980.0,585.0 L981.0,584.3 L982.0,584.5 L983.0,584.5 L984.0,584.5 L985.0,584.5 L986.0,584.4 L987.0,584.6 L988.0,584.6 L989.0,584.4 L990.0,584.4 L991.0,585.2 L992.0,585.5 L993.0,585.9 L994.0,585.9 L995.0,585.9 L996.0,585.4 L997.0,585.1 L998.0,585.8 L999.0,585.9 L1000.0,586.0 L1001.0,585.4 L1002.0,585.7 L1003.0,585.6 L1004.0,585.1 L1005.0,584.9 L1006.0,585.5 L1007.0,585.5 L1008.0,584.9 L1009.0,584.6 L1010.0,585.1 L1011.0,584.9 L1012.0,584.9 L1013.0,584.5 L1014.0,584.4 L1015.0,584.6 L1016.0,584.6 L1017.0,584.3 L1018.0,584.1 L1019.0,584.3 L1020.0,584.0 L1021.0,584.1 L1022.0,584.6 L1023.0,584.6 L1024.0,585.3 L1025.0,585.8 L1026.0,586.1 L1027.0,586.6 L1028.0,586.2 L1029.0,586.3 L1030.0,586.5 L1031.0,586.0 L1032.0,586.5 L1033.0,585.9 L1034.0,586.5 L1035.0,586.5 L1036.0,586.7 L1037.0,585.9 L1038.0,586.3 L1039.0,586.5 L1040.0,586.4 L1041.0,586.1 L1042.0,585.9 L1043.0,585.9 L1044.0,586.2 L1045.0,586.2 L1046.0,586.2 L1047.0,586.1 L1048.0,586.4 L1049.0,586.5 L1050.0,587.0 L1051.0,587.1 L1052.0,586.8 L1053.0,587.1 L1054.0,586.8 L1055.0,586.9 L1056.0,587.0 L1057.1,587.2 L1058.1,586.6 L1059.1,586.4 L1060.2,586.3 L1061.2,586.7 L1062.2,586.5 L1063.2,586.7 L1064.3,587.2 L1065.3,586.9 L1066.3,586.6 L1067.4,586.8 L1068.4,586.7 L1069.4,586.6 L1070.5,586.4 L1071.5,586.7 L1072.5,586.5 L1073.5,587.1 L1074.6,586.9 L1075.6,586.9 L1076.6,587.2 L1077.7,587.4 L1078.7,586.5" fill="none" stroke="#808080" stroke-width="2.8" stroke-linejoin="round" stroke-linecap="butt" />
<path d="M252.6,715.5 L253.6,715.0 L254.6,714.4 L255.6,713.9 L256.6,712.6 L257.6,711.6 L258.6,710.7 L259.6,709.9 L260.6,709.7 L261.6,708.6 L262.6,708.0 L263.7,706.4 L264.7,704.9 L265.8,703.6 L266.8,702.6 L267.9,701.1 L269.0,699.1 L270.0,697.6 L271.1,696.0 L272.2,695.2 L273.2,694.0 L274.3,692.7 L275.3,691.3 L276.4,689.8 L277.4,687.4 L278.5,684.7 L279.5,681.5 L280.5,679.2 L281.6,676.3 L282.6,673.9 L283.7,671.1 L284.7,668.3 L285.7,665.5 L286.8,662.9 L287.8,660.2 L288.9,659.0 L290.0,658.6 L291.1,657.9 L292.1,657.3 L293.2,656.2 L294.3,655.1 L295.4,654.2 L296.5,652.7 L297.6,651.3 L298.6,649.4 L299.6,647.3 L300.7,645.5 L301.8,644.0 L302.8,642.1 L303.8,640.5 L304.9,638.9 L305.9,637.1 L307.0,635.0 L308.1,633.5 L309.1,631.6 L310.1,629.8 L311.2,627.9 L312.2,626.3 L313.3,624.4 L314.3,623.1 L315.4,621.9 L316.4,620.7 L317.5,619.9 L318.5,619.3 L319.5,617.7 L320.5,616.5 L321.6,616.1 L322.6,615.5 L323.6,614.5 L324.6,613.1 L325.7,612.1 L326.7,611.7 L327.8,610.5 L328.9,609.1 L330.0,607.1 L331.1,606.1 L332.2,604.4 L333.3,603.2 L334.4,601.3 L335.5,600.4 L336.6,598.8 L337.7,597.3 L338.8,595.2 L339.9,593.8 L341.0,592.2 L342.1,590.6 L343.2,588.8 L344.3,587.5 L345.3,584.7 L346.3,581.9 L347.3,579.2 L348.3,577.0 L349.3,574.1 L350.3,569.7 L351.3,565.3 L352.3,561.5 L353.3,557.3 L354.3,553.1 L355.6,546.8 L356.8,541.1 L358.1,535.2 L359.0,528.4 L359.9,521.6 L360.7,516.0 L361.6,509.0 L362.5,502.4 L363.4,496.1 L364.3,490.1 L365.1,483.5 L366.0,477.4 L366.9,471.1 L368.1,462.7 L369.4,453.2 L370.4,453.5 L371.4,453.9 L372.5,454.7 L373.5,454.7 L374.7,461.0 L375.8,467.6 L377.0,473.8 L378.0,467.1 L379.0,461.0 L380.0,455.3 L381.0,447.0 L382.0,438.1 L383.1,433.3 L384.2,428.6 L385.3,423.1 L386.4,418.2 L387.5,417.4 L388.7,416.5 L389.9,415.8 L391.0,415.1 L392.1,414.5 L393.3,413.6 L394.6,411.8 L395.8,409.5 L397.1,408.0 L398.2,407.4 L399.3,406.1 L400.4,405.8 L401.5,404.7 L402.6,404.0 L403.7,403.3 L404.8,402.4 L405.9,401.5 L406.9,401.2 L407.9,400.6 L408.9,400.8 L409.9,400.0 L410.9,400.1 L411.9,399.3 L412.9,398.8 L413.9,398.5 L414.9,397.8 L415.9,397.3 L416.9,397.5 L418.0,397.6 L419.0,398.1 L420.1,398.4 L421.1,397.6 L422.2,397.7 L423.2,397.3 L424.3,397.7 L425.4,397.4 L426.4,397.8 L427.4,397.7 L428.5,397.1 L429.5,396.5 L430.6,396.2 L431.6,396.5 L432.7,395.8 L433.7,395.6 L434.8,395.3 L435.8,394.9 L436.8,395.0 L437.9,394.3 L438.9,394.4 L440.0,394.1 L441.0,394.1 L442.1,393.8 L443.1,394.0 L444.1,393.5 L445.2,393.4 L446.2,393.3 L447.3,393.4 L448.4,393.5 L449.4,392.7 L450.5,392.3 L451.5,392.4 L452.6,392.7 L453.6,392.5 L454.7,392.4 L455.8,393.1 L456.9,392.9 L457.9,392.7 L459.0,392.6 L460.1,392.6 L461.2,393.4 L462.2,392.8 L463.3,392.9 L464.3,392.9 L465.3,392.9 L466.3,392.5 L467.4,391.8 L468.4,391.4 L469.4,391.3 L470.4,390.9 L471.5,390.2 L472.5,390.1 L473.6,389.6 L474.6,389.6 L475.7,390.3 L476.8,390.2 L477.9,389.9 L478.9,390.3 L480.0,390.3 L481.0,389.6 L482.0,389.3 L483.0,389.4 L484.0,389.4 L485.0,390.0 L486.0,389.6 L487.0,389.9 L488.0,390.1 L489.0,389.6 L490.0,390.0 L491.0,389.8 L492.0,389.3 L493.0,388.8 L494.0,388.7 L495.0,388.9 L496.0,388.6 L497.0,388.1 L498.0,387.9 L499.0,387.8 L500.0,387.4 L501.0,387.5 L502.0,386.9 L503.0,387.4 L504.0,387.1 L505.0,386.9 L506.0,387.3 L507.0,387.3 L508.0,387.9 L509.0,387.8 L510.0,387.9 L511.0,388.2 L512.0,387.8 L513.0,388.2 L514.0,388.3 L515.0,388.2 L516.0,388.7 L517.0,388.1 L518.0,388.6 L519.0,388.2 L520.0,388.7 L521.0,388.1 L522.0,387.7 L523.0,387.8 L524.0,388.3 L525.0,387.8 L526.0,387.7 L527.0,387.7 L528.0,387.3 L529.0,387.3 L530.0,386.7 L531.0,386.8 L532.0,387.1 L533.0,386.9 L534.0,386.7 L535.0,386.4 L536.0,386.9 L537.0,386.9 L538.0,387.4 L539.0,387.5 L540.0,386.9 L541.0,387.4 L542.0,387.7 L543.0,387.7 L544.0,387.7 L545.0,387.6 L546.0,387.6 L547.0,387.5 L548.0,387.4 L549.0,387.0 L550.0,386.7 L551.0,387.2 L552.0,387.2 L553.0,386.8 L554.0,387.1 L555.0,387.2 L556.0,387.2 L557.0,387.5 L558.0,387.7 L559.0,387.3 L560.0,387.6 L561.0,387.4 L562.0,387.4 L563.0,387.2 L564.0,387.6 L565.0,387.4 L566.0,387.8 L567.0,387.3 L568.0,387.5 L569.0,387.8 L570.0,387.7 L571.0,387.3 L572.0,386.9 L573.0,387.0 L574.0,387.1 L575.0,387.5 L576.0,387.7 L577.0,388.0 L578.0,387.6 L579.0,387.3 L580.0,387.4 L581.0,387.6 L582.0,387.0 L583.0,386.9 L584.0,386.7 L585.0,386.7 L586.0,386.7 L587.0,387.3 L588.0,386.9 L589.0,387.3 L590.0,386.9 L591.0,386.6 L592.0,387.1 L593.0,386.5 L594.0,386.2 L595.0,386.0 L596.0,385.9 L597.0,386.1 L598.0,386.0 L599.0,385.8 L600.0,385.6 L601.0,386.2 L602.0,385.8 L603.0,385.7 L604.0,386.0 L605.0,386.5 L606.0,386.4 L607.0,386.4 L608.0,386.4 L609.0,386.5 L610.0,386.5 L611.0,385.9 L612.0,385.4 L613.0,385.7 L614.0,385.7 L615.0,385.7 L616.0,386.0 L617.0,385.5 L618.0,385.7 L619.0,385.5 L620.0,385.4 L621.0,385.2 L622.0,385.2 L623.0,385.5 L624.0,385.6 L625.0,386.0 L626.0,385.6 L627.0,385.9 L628.0,385.4 L629.0,385.7 L630.0,385.4 L631.0,386.0 L632.0,386.4 L633.0,385.9 L634.0,386.2 L635.0,385.8 L636.0,385.6 L637.0,385.4 L638.0,385.6 L639.0,385.4 L640.0,385.9 L641.0,386.1 L642.0,386.0 L643.0,386.3 L644.0,386.0 L645.0,385.9 L646.0,386.0 L647.0,385.6 L648.0,386.4 L649.0,386.0 L650.0,385.8 L651.0,386.4 L652.0,386.8 L653.0,386.6 L654.0,386.5 L655.0,386.2 L656.0,385.9 L657.0,386.3 L658.0,386.3 L659.0,386.0 L660.0,386.6 L661.0,386.0 L662.0,386.0 L663.0,386.3 L664.0,386.4 L665.0,385.7 L666.0,386.0 L667.0,385.9 L668.0,385.9 L669.0,386.1 L670.0,386.1 L671.0,385.7 L672.0,385.6 L673.0,385.2 L674.0,384.9 L675.0,385.0 L676.0,384.7 L677.0,384.3 L678.0,383.6 L679.0,384.0 L680.0,383.6 L681.0,383.4 L682.0,383.1 L683.0,383.1 L684.0,382.9 L685.0,383.2 L686.0,383.1 L687.0,383.0 L688.0,383.2 L689.0,382.9 L690.0,382.8 L691.0,383.0 L692.0,383.0 L693.0,383.0 L694.0,383.2 L695.0,382.9 L696.0,382.7 L697.0,382.2 L698.0,382.0 L699.0,382.1 L700.0,382.2 L701.0,382.6 L702.0,382.0 L703.0,382.0 L704.0,382.4 L705.0,382.3 L706.0,382.7 L707.0,382.2 L708.0,382.5 L709.0,382.4 L710.0,382.4 L711.0,382.0 L712.0,382.1 L713.0,382.5 L714.0,382.7 L715.0,382.6 L716.0,382.4 L717.0,382.0 L718.0,382.4 L719.0,382.4 L720.0,382.6 L721.0,382.6 L722.0,382.5 L723.0,382.8 L724.0,382.3 L725.0,382.8 L726.0,382.2 L727.0,382.8 L728.0,382.8 L729.0,382.6 L730.0,383.0 L731.0,382.7 L732.0,382.6 L733.0,382.0 L734.0,382.5 L735.0,382.5 L736.0,382.1 L737.0,381.8 L738.0,381.9 L739.0,382.5 L740.0,382.7 L741.0,382.4 L742.0,381.7 L743.0,382.2 L744.0,381.8 L745.0,382.1 L746.0,382.1 L747.0,382.6 L748.0,382.1 L749.0,382.5 L750.0,382.7 L751.0,382.1 L752.0,382.4 L753.0,382.3 L754.0,382.7 L755.0,383.2 L756.0,383.2 L757.0,383.1 L758.0,383.1 L759.0,382.9 L760.0,383.0 L761.0,382.7 L762.0,383.2 L763.0,382.9 L764.0,383.2 L765.0,383.0 L766.0,383.4 L767.0,383.1 L768.0,382.9 L769.0,383.5 L770.0,383.9 L771.0,384.3 L772.0,384.3 L773.0,384.7 L774.0,383.9 L775.0,384.0 L776.0,384.0 L777.0,383.4 L778.0,383.1 L779.0,383.0 L780.0,383.2 L781.0,383.5 L782.0,383.6 L783.0,383.4 L784.0,382.8 L785.0,383.1 L786.0,383.0 L787.0,382.6 L788.0,382.7 L789.0,382.4 L790.0,382.3 L791.0,382.3 L792.0,382.6 L793.0,382.0 L794.0,382.1 L795.0,381.8 L796.0,382.1 L797.0,382.4 L798.0,381.9 L799.0,382.1 L800.0,381.9 L801.0,381.6 L802.0,381.5 L803.0,381.8 L804.0,382.2 L805.0,382.2 L806.0,381.7 L807.0,382.2 L808.0,382.2 L809.0,382.1 L810.0,381.9 L811.0,382.0 L812.0,382.4 L813.0,382.1 L814.0,381.9 L815.0,382.6 L816.0,382.5 L817.0,382.1 L818.0,382.7 L819.0,382.3 L820.0,382.3 L821.0,382.6 L822.0,382.8 L823.0,383.2 L824.0,382.7 L825.0,382.8 L826.0,383.2 L827.0,383.0 L828.0,383.2 L829.0,383.1 L830.0,383.3 L831.0,383.6 L832.0,383.1 L833.0,383.3 L834.0,383.0 L835.0,383.4 L836.0,383.5 L837.0,383.6 L838.0,383.7 L839.0,383.4 L840.0,383.7 L841.0,383.0 L842.0,383.1 L843.0,382.6 L844.0,382.9 L845.0,383.1 L846.0,382.9 L847.0,383.2 L848.0,383.0 L849.0,382.7 L850.0,382.6 L851.0,382.9 L852.0,382.8 L853.0,382.5 L854.0,382.5 L855.0,383.2 L856.0,383.1 L857.0,383.2 L858.0,383.0 L859.0,382.6 L860.0,382.9 L861.0,382.7 L862.0,382.5 L863.0,382.8 L864.0,383.1 L865.0,382.6 L866.0,383.2 L867.0,382.6 L868.0,382.5 L869.0,382.6 L870.0,383.1 L871.0,383.3 L872.0,383.4 L873.0,383.1 L874.0,383.4 L875.0,382.8 L876.0,383.3 L877.0,382.7 L878.0,382.4 L879.0,382.9 L880.0,383.1 L881.0,383.2 L882.0,382.7 L883.0,383.1 L884.0,383.0 L885.0,382.6 L886.0,382.3 L887.0,383.0 L888.0,382.4 L889.0,382.3 L890.0,382.4 L891.0,382.9 L892.0,383.1 L893.0,383.3 L894.0,383.1 L895.0,382.4 L896.0,382.7 L897.0,382.4 L898.0,382.9 L899.0,383.2 L900.0,382.5 L901.1,382.8 L902.1,382.6 L903.2,382.3 L904.2,383.0 L905.3,382.9 L906.4,382.8 L907.4,383.0 L908.5,382.6 L909.6,382.8 L910.6,383.2 L911.7,383.6 L912.7,383.1 L913.8,383.7 L914.8,383.3 L915.8,383.2 L916.8,383.4 L917.8,383.3 L918.9,383.3 L919.9,383.9 L920.9,384.0 L921.9,383.9 L922.9,384.2 L923.9,384.1 L924.9,384.6 L926.0,385.2 L927.0,385.0 L928.0,385.0 L929.0,385.0 L930.0,385.0 L931.0,384.9 L932.0,384.5 L933.0,384.4 L934.0,384.7 L935.0,384.5 L936.0,384.0 L937.0,383.7 L938.0,384.2 L939.0,383.9 L940.0,384.1 L941.0,384.0 L942.0,383.9 L943.0,383.4 L944.0,383.4 L945.0,383.2 L946.0,383.4 L947.0,384.0 L948.0,383.6 L949.0,383.6 L950.0,384.3 L951.0,384.8 L952.0,385.1 L953.0,385.3 L954.0,384.8 L955.0,385.2 L956.0,384.9 L957.0,385.6 L958.0,385.6 L959.0,385.6 L960.0,385.6 L961.0,385.2 L962.0,385.4 L963.0,385.8 L964.0,385.5 L965.0,385.4 L966.0,385.2 L967.0,385.0 L968.0,384.9 L969.0,385.4 L970.0,385.8 L971.0,385.4 L972.0,385.1 L973.0,385.0 L974.0,385.4 L975.0,385.0 L976.0,384.7 L977.0,384.7 L978.0,384.5 L979.0,384.4 L980.0,384.4 L981.0,384.9 L982.0,385.5 L983.0,385.1 L984.0,385.0 L985.0,385.2 L986.0,384.8 L987.0,384.7 L988.0,385.1 L989.0,385.3 L990.0,385.3 L991.0,385.4 L992.0,385.0 L993.0,385.1 L994.0,385.1 L995.0,385.2 L996.0,385.1 L997.0,385.8 L998.0,385.4 L999.0,385.6 L1000.0,385.5 L1001.0,385.4 L1002.0,385.9 L1003.0,386.3 L1004.0,386.5 L1005.0,385.9 L1006.0,385.8 L1007.0,385.6 L1008.0,385.2 L1009.0,385.3 L1010.0,385.5 L1011.0,385.3 L1012.0,385.6 L1013.0,385.4 L1014.0,385.1 L1015.0,385.6 L1016.0,385.4 L1017.0,385.0 L1018.0,385.4 L1019.0,385.2 L1020.0,385.2 L1021.0,385.3 L1022.0,385.8 L1023.0,386.0 L1024.0,386.0 L1025.0,385.9 L1026.0,386.4 L1027.0,386.9 L1028.0,386.9 L1029.0,387.3 L1030.0,387.3 L1031.0,387.0 L1032.0,386.7 L1033.0,386.4 L1034.0,386.2 L1035.0,386.8 L1036.0,386.6 L1037.0,386.1 L1038.0,385.9 L1039.0,385.9 L1040.0,386.3 L1041.0,386.5 L1042.0,386.5 L1043.0,386.1 L1044.0,386.1 L1045.0,386.7 L1046.0,386.5 L1047.0,386.7 L1048.0,386.2 L1049.0,386.5 L1050.0,386.7 L1051.0,387.3 L1052.0,387.6 L1053.0,387.7 L1054.0,387.3 L1055.0,387.7 L1056.0,387.9 L1057.1,387.2 L1058.1,387.1 L1059.1,387.2 L1060.2,387.0 L1061.2,386.8 L1062.2,387.3 L1063.2,386.9 L1064.3,387.1 L1065.3,386.6 L1066.3,386.8 L1067.4,387.4 L1068.4,386.7 L1069.4,386.5 L1070.5,387.2 L1071.5,387.5 L1072.5,387.2 L1073.5,386.9 L1074.6,386.7 L1075.6,387.1 L1076.6,387.1 L1077.7,386.9 L1078.7,387.1" fill="none" stroke="#32cd32" stroke-width="3.4" stroke-linejoin="round" stroke-linecap="butt" />
<path d="M252.6,715.5 L253.6,715.6 L254.7,715.5 L255.7,715.5 L256.7,715.2 L257.7,714.9 L258.8,714.9 L259.8,714.9 L260.8,714.6 L261.8,714.5 L262.9,714.3 L263.9,714.3 L265.0,714.1 L266.0,714.1 L267.1,714.5 L268.1,714.5 L269.2,714.4 L270.3,714.7 L271.3,714.8 L272.4,714.6 L273.5,714.8 L274.5,715.0 L275.6,714.8 L276.6,715.0 L277.7,714.9 L278.8,714.8 L279.8,714.5 L280.9,714.3 L281.9,714.6 L282.9,714.3 L284.0,714.4 L285.1,714.1 L286.1,713.9 L287.1,713.9 L288.2,713.7 L289.2,713.3 L290.3,713.2 L291.3,713.0 L292.3,712.5 L293.3,712.1 L294.3,712.1 L295.3,711.8 L296.3,711.3 L297.3,711.1 L298.3,710.7 L299.3,710.6 L300.3,710.3 L301.3,709.8 L302.3,709.7 L303.3,709.2 L304.3,708.9 L305.3,708.5 L306.3,708.2 L307.3,707.4 L308.3,707.0 L309.3,706.3 L310.4,705.8 L311.4,705.4 L312.4,704.8 L313.4,704.2 L314.4,703.7 L315.4,703.1 L316.4,702.6 L317.5,701.9 L318.5,701.4 L319.6,700.8 L320.6,700.6 L321.7,700.3 L322.8,699.4 L323.8,698.7 L324.9,698.4 L325.9,698.0 L326.9,697.2 L328.0,696.9 L329.0,696.7 L330.1,696.1 L331.1,695.6 L332.2,695.2 L333.2,695.0 L334.2,694.3 L335.3,693.8 L336.3,693.3 L337.4,693.0 L338.4,692.6 L339.5,692.1 L340.5,691.7 L341.6,690.9 L342.6,690.4 L343.6,690.2 L344.7,689.6 L345.8,688.9 L346.8,688.5 L347.9,687.8 L348.9,687.1 L350.0,686.3 L351.0,685.7 L352.1,685.2 L353.1,684.6 L354.2,683.8 L355.2,682.5 L356.2,681.3 L357.3,680.3 L358.3,679.3 L359.4,678.0 L360.4,677.8 L361.5,677.4 L362.5,677.2 L363.5,676.9 L364.5,676.8 L365.6,676.6 L366.6,676.2 L367.6,676.0 L368.6,675.5 L369.7,675.1 L370.7,675.1 L371.8,673.9 L372.8,672.9 L373.9,671.7 L375.0,670.8 L376.1,669.6 L377.1,668.3 L378.2,667.5 L379.2,666.9 L380.3,666.2 L381.4,665.6 L382.4,665.0 L383.4,664.4 L384.5,664.2 L385.6,663.5 L386.6,662.9 L387.6,662.5 L388.7,662.1 L389.8,661.5 L390.8,661.2 L391.8,660.4 L392.8,659.7 L393.8,659.1 L394.8,658.4 L395.8,657.7 L396.8,657.0 L397.8,656.7 L398.8,655.9 L399.8,655.4 L400.8,654.7 L401.8,654.4 L402.8,654.0 L403.8,653.5 L404.8,653.3 L405.8,652.9 L406.8,652.4 L407.8,651.7 L408.9,651.3 L409.9,650.8 L410.9,650.5 L411.9,650.3 L412.9,650.0 L413.9,649.3 L414.9,649.0 L415.9,648.7 L416.9,648.1 L418.0,647.3 L419.0,647.0 L420.1,646.4 L421.1,646.1 L422.2,645.7 L423.2,645.1 L424.3,644.7 L425.4,643.7 L426.4,643.4 L427.4,642.7 L428.5,642.0 L429.6,641.2 L430.6,640.5 L431.6,639.4 L432.7,638.7 L433.8,638.1 L434.8,637.2 L435.8,637.0 L436.9,636.6 L437.9,636.6 L439.0,636.1 L440.0,635.9 L441.1,635.7 L442.1,635.1 L443.1,635.2 L444.2,634.7 L445.2,634.7 L446.3,634.6 L447.3,634.4 L448.3,633.2 L449.3,631.9 L450.3,630.6 L451.3,629.4 L452.4,628.5 L453.4,627.1 L454.4,625.8 L455.4,625.1 L456.4,624.0 L457.4,622.9 L458.5,622.5 L459.6,621.8 L460.7,621.3 L461.8,620.6 L462.9,620.2 L464.0,619.3 L465.1,618.8 L466.2,618.3 L467.3,618.0 L468.3,617.4 L469.4,617.1 L470.5,616.8 L471.6,616.2 L472.6,615.5 L473.7,614.9 L474.8,614.2 L475.8,613.1 L476.9,612.0 L477.9,611.0 L478.9,609.8 L480.0,608.7 L481.1,607.9 L482.1,607.2 L483.1,606.7 L484.2,605.8 L485.2,604.9 L486.3,604.5 L487.4,603.8 L488.4,602.8 L489.5,602.2 L490.5,601.6 L491.6,600.9 L492.6,600.2 L493.7,599.4 L494.7,598.6 L495.8,598.1 L496.8,597.4 L497.9,596.8 L498.9,595.9 L499.9,595.2 L501.0,594.7 L502.1,594.0 L503.1,593.4 L504.1,592.7 L505.2,592.1 L506.2,590.8 L507.3,589.6 L508.3,588.6 L509.4,587.2 L510.4,585.8 L511.5,584.8 L512.5,583.4 L513.6,582.5 L514.6,581.1 L515.7,580.2 L516.8,578.9 L517.8,577.5 L518.8,577.1 L519.9,576.8 L520.9,576.4 L522.0,576.0 L523.0,575.5 L524.0,575.3 L525.1,574.6 L526.1,574.4 L527.2,573.7 L528.2,573.3 L529.3,572.8 L530.3,572.3 L531.4,570.8 L532.5,569.3 L533.6,567.4 L534.6,565.7 L535.7,564.0 L536.8,562.3 L537.9,560.5 L538.9,559.4 L539.9,558.5 L540.9,557.3 L541.9,556.1 L542.9,555.1 L543.9,554.1 L544.9,552.8 L545.9,551.4 L546.9,550.2 L547.9,549.4 L549.0,546.9 L550.0,544.4 L551.1,542.4 L552.2,539.8 L553.3,537.7 L554.3,535.2 L555.4,532.9 L556.4,529.0 L557.4,524.8 L558.5,521.0 L559.5,516.9 L560.5,513.0 L561.5,506.8 L562.5,500.2 L563.5,494.2 L564.5,488.0 L565.5,481.5 L566.5,474.9 L567.4,468.2 L568.3,461.7 L569.3,455.2 L570.1,448.9 L571.0,442.8 L571.8,436.4 L572.6,430.5 L573.5,424.4 L574.3,418.3 L575.4,415.7 L576.4,413.5 L577.5,411.0 L578.5,408.8 L579.6,406.4 L580.7,404.3 L581.7,401.8 L582.8,399.5 L583.9,397.2 L584.9,394.9 L586.0,392.4 L587.0,390.3 L588.1,388.2 L589.2,383.9 L590.3,380.0 L591.4,375.8 L592.5,371.6 L593.6,367.5 L594.7,363.7 L595.8,359.6 L596.9,355.5 L597.7,349.1 L598.4,343.1 L599.2,336.9 L599.9,330.8 L600.7,324.9 L601.3,318.6 L602.0,312.2 L602.6,306.1 L603.2,300.1 L603.7,294.1 L604.2,288.1 L604.7,281.8 L605.2,275.4 L605.7,269.6 L606.7,262.2 L607.6,254.9 L608.5,247.9 L609.5,240.6 L610.5,236.3 L611.5,231.7 L612.5,227.3 L613.5,222.4 L614.5,218.1 L615.5,217.2 L616.6,216.4 L617.6,215.4 L618.7,214.4 L619.7,213.5 L620.8,212.6 L621.8,212.1 L622.8,211.0 L623.9,210.1 L624.9,209.5 L626.0,208.5 L627.0,207.6 L628.0,206.7 L629.1,205.7 L630.1,204.7 L631.1,204.1 L632.2,203.3 L633.2,202.3 L634.3,201.6 L635.3,200.6 L636.3,199.5 L637.4,198.9 L638.4,197.8 L639.4,197.9 L640.5,197.9 L641.5,197.5 L642.6,197.7 L643.6,197.5 L644.6,197.5 L645.7,197.6 L646.7,197.4 L647.8,197.2 L648.8,197.0 L649.8,197.2 L650.9,197.1 L651.9,197.2 L652.9,197.1 L654.0,197.3 L655.0,197.3 L656.1,197.2 L657.1,197.0 L658.1,197.0 L659.2,196.7 L660.2,196.5 L661.3,196.5 L662.3,196.3 L663.4,196.2 L664.5,195.7 L665.6,195.3 L666.6,194.8 L667.7,194.4 L668.8,194.1 L669.9,193.9 L671.0,193.2 L672.0,193.2 L673.0,193.2 L674.0,193.5 L675.0,193.4 L676.0,193.4 L677.0,193.6 L678.1,193.4 L679.1,193.4 L680.1,193.3 L681.1,193.2 L682.1,193.4 L683.1,193.3 L684.1,193.4 L685.1,193.4 L686.1,193.5 L687.1,193.6 L688.1,193.5 L689.1,193.7 L690.2,193.8 L691.2,193.8 L692.2,193.7 L693.2,193.5 L694.2,193.4 L695.2,193.6 L696.2,193.5 L697.3,193.5 L698.3,193.3 L699.4,193.2 L700.4,192.9 L701.5,193.1 L702.6,192.9 L703.6,192.9 L704.7,193.0 L705.8,193.1 L706.8,193.1 L707.9,193.0 L708.9,192.7 L710.0,192.8 L711.0,192.6 L712.0,192.8 L713.0,193.2 L714.0,193.5 L715.0,193.6 L716.0,193.8 L717.0,193.7 L718.0,193.6 L719.0,193.8 L720.0,194.3 L721.0,194.2 L722.0,194.3 L723.0,194.6 L724.0,194.6 L725.0,194.7 L726.0,194.3 L727.0,194.0 L728.0,194.2 L729.0,193.8 L730.0,193.6 L731.0,193.5 L732.0,193.6 L733.0,193.3 L734.0,193.2 L735.0,193.1 L736.0,192.9 L737.0,193.1 L738.0,192.8 L739.0,193.0 L740.0,192.9 L741.0,193.2 L742.0,193.1 L743.0,193.1 L744.0,193.2 L745.0,193.5 L746.0,193.3 L747.0,193.5 L748.0,193.3 L749.0,193.3 L750.0,193.2 L751.0,193.5 L752.0,193.6 L753.0,193.7 L754.0,193.5 L755.0,193.3 L756.0,193.6 L757.0,193.7 L758.0,193.7 L759.0,193.5 L760.0,193.6 L761.0,193.6 L762.0,193.6 L763.0,193.4 L764.0,193.5 L765.0,193.4 L766.0,193.2 L767.0,193.2 L768.0,193.0 L769.0,193.2 L770.0,193.1 L771.0,192.9 L772.0,193.2 L773.0,193.2 L774.0,193.0 L775.0,193.3 L776.0,193.4 L777.0,193.2 L778.0,193.1 L779.0,192.8 L780.0,192.8 L781.0,193.1 L782.0,192.9 L783.0,193.1 L784.0,192.6 L785.0,192.4 L786.0,192.2 L787.0,192.1 L788.0,192.4 L789.0,192.6 L790.0,192.5 L791.0,192.4 L792.0,192.2 L793.0,192.0 L794.0,191.8 L795.0,191.8 L796.0,191.6 L797.0,191.8 L798.0,191.8 L799.0,191.6 L800.0,191.8 L801.0,191.5 L802.0,191.6 L803.0,191.6 L804.0,191.6 L805.0,191.7 L806.0,191.7 L807.0,191.9 L808.0,192.1 L809.0,192.0 L810.0,192.2 L811.0,192.0 L812.0,192.2 L813.0,192.4 L814.0,192.4 L815.0,192.1 L816.0,192.4 L817.0,192.3 L818.0,192.3 L819.0,192.7 L820.0,192.4 L821.0,192.6 L822.0,192.5 L823.0,192.9 L824.0,192.7 L825.0,192.5 L826.0,192.5 L827.0,192.5 L828.0,192.5 L829.0,192.3 L830.0,192.2 L831.0,192.0 L832.0,192.1 L833.0,191.8 L834.0,191.9 L835.0,192.0 L836.0,191.9 L837.0,191.7 L838.0,191.6 L839.0,191.3 L840.0,191.3 L841.0,191.4 L842.0,191.1 L843.0,191.2 L844.0,191.3 L845.0,191.0 L846.0,190.8 L847.0,190.9 L848.0,190.6 L849.0,190.5 L850.0,190.6 L851.0,190.5 L852.0,190.3 L853.0,190.2 L854.0,190.3 L855.0,190.5 L856.0,190.2 L857.0,190.3 L858.0,190.3 L859.0,190.1 L860.0,190.0 L861.0,190.2 L862.0,189.9 L863.0,190.0 L864.0,190.1 L865.0,190.0 L866.0,190.2 L867.0,190.2 L868.0,190.3 L869.0,190.3 L870.0,190.6 L871.0,190.9 L872.0,191.1 L873.0,191.3 L874.0,191.1 L875.0,191.4 L876.0,191.3 L877.0,191.5 L878.0,191.5 L879.0,191.7 L880.0,191.5 L881.0,191.6 L882.0,191.4 L883.0,191.4 L884.0,191.0 L885.0,191.1 L886.0,190.8 L887.0,190.7 L888.0,190.6 L889.0,190.6 L890.0,190.6 L891.0,190.3 L892.0,190.5 L893.0,190.1 L894.0,190.0 L895.0,189.8 L896.0,189.6 L897.0,189.6 L898.0,189.9 L899.0,189.6 L900.0,189.8 L901.0,189.8 L902.0,189.9 L903.0,189.9 L904.0,189.5 L905.0,189.7 L906.0,189.4 L907.0,189.2 L908.0,189.1 L909.0,189.3 L910.0,189.3 L911.0,189.5 L912.0,189.4 L913.0,189.5 L914.0,189.5 L915.0,189.8 L916.0,189.9 L917.0,190.0 L918.0,189.9 L919.0,189.8 L920.0,189.7 L921.0,189.8 L922.0,190.2 L923.0,190.1 L924.0,190.2 L925.0,190.3 L926.0,190.2 L927.0,190.4 L928.0,190.5 L929.0,190.8 L930.0,191.0 L931.0,190.9 L932.0,190.8 L933.0,190.8 L934.0,190.9 L935.0,191.1 L936.0,191.4 L937.0,190.9 L938.0,190.6 L939.0,190.4 L940.0,190.3 L941.0,189.9 L942.0,189.6 L943.0,189.6 L944.0,189.2 L945.0,189.3 L946.0,189.4 L947.0,189.3 L948.0,189.5 L949.0,189.4 L950.0,189.5 L951.0,189.2 L952.0,189.0 L953.0,189.1 L954.0,189.1 L955.0,189.2 L956.0,189.0 L957.0,189.2 L958.0,189.0 L959.0,189.3 L960.0,189.3 L961.0,189.3 L962.0,189.0 L963.0,188.8 L964.0,188.7 L965.0,188.8 L966.0,188.7 L967.0,188.7 L968.0,188.6 L969.0,189.0 L970.0,189.0 L971.0,188.8 L972.0,188.7 L973.0,188.7 L974.0,188.6 L975.0,188.9 L976.0,189.1 L977.0,189.3 L978.0,189.1 L979.0,189.3 L980.0,189.6 L981.0,189.5 L982.0,189.8 L983.0,189.6 L984.0,189.8 L985.0,190.0 L986.0,190.1 L987.0,190.0 L988.0,190.4 L989.0,190.7 L990.0,190.6 L991.0,190.8 L992.0,190.7 L993.0,190.9 L994.0,191.0 L995.0,190.9 L996.0,190.7 L997.0,190.8 L998.0,190.7 L999.0,190.4 L1000.0,190.2 L1001.0,190.1 L1002.0,190.4 L1003.0,190.1 L1004.0,190.4 L1005.0,190.3 L1006.0,190.0 L1007.0,190.2 L1008.0,190.3 L1009.0,190.0 L1010.0,190.0 L1011.0,189.7 L1012.0,189.6 L1013.0,189.4 L1014.0,189.7 L1015.0,189.5 L1016.0,189.4 L1017.0,189.2 L1018.0,189.2 L1019.0,189.5 L1020.0,189.3 L1021.0,189.2 L1022.0,189.1 L1023.0,189.4 L1024.0,189.2 L1025.0,189.5 L1026.0,189.7 L1027.0,189.5 L1028.0,189.5 L1029.0,189.6 L1030.0,189.6 L1031.0,189.4 L1032.0,189.7 L1033.0,189.8 L1034.0,189.6 L1035.0,189.7 L1036.0,189.4 L1037.0,189.6 L1038.0,189.5 L1039.0,189.8 L1040.0,189.4 L1041.0,189.4 L1042.0,189.4 L1043.0,189.5 L1044.0,189.7 L1045.0,189.5 L1046.0,189.4 L1047.0,189.4 L1048.0,189.4 L1049.0,189.9 L1050.0,189.9 L1051.0,189.8 L1052.0,189.8 L1053.0,189.8 L1054.0,190.0 L1055.0,190.0 L1056.0,190.2 L1057.0,190.1 L1058.0,190.3 L1059.0,190.6 L1060.0,190.6 L1061.0,190.3 L1062.1,190.3 L1063.1,190.5 L1064.2,190.2 L1065.2,190.4 L1066.2,190.1 L1067.3,190.0 L1068.3,189.8 L1069.3,190.2 L1070.4,189.9 L1071.4,190.0 L1072.5,190.1 L1073.5,190.1 L1074.5,190.3 L1075.6,190.2 L1076.6,189.9 L1077.7,189.9 L1078.7,189.8" fill="none" stroke="#ff0000" stroke-width="3.7" stroke-linejoin="round" stroke-linecap="butt" />
<path d="M252.6,715.9 L253.7,715.5 L254.8,715.5 L255.8,715.2 L256.9,715.3 L258.0,714.9 L259.2,714.5 L260.4,713.9 L261.5,713.4 L262.7,712.9 L263.9,712.0 L264.9,708.6 L266.0,705.4 L267.0,701.9 L268.1,697.6 L269.1,693.4 L270.2,689.4 L271.1,682.8 L272.0,676.2 L272.9,669.4 L273.7,662.9 L274.6,656.2 L275.5,649.4 L276.4,642.8 L277.2,636.5 L278.1,630.0 L278.9,623.9 L279.8,617.6 L280.6,611.4 L281.5,605.3 L282.5,600.2 L283.5,595.1 L284.5,590.2 L285.5,585.3 L286.5,580.1 L287.1,570.9 L288.4,561.8 L289.6,552.9 L290.7,547.2 L291.8,541.9 L292.9,536.3 L294.0,530.6 L295.2,524.2 L296.5,517.9 L297.6,514.9 L298.6,511.5 L299.6,508.3 L300.7,505.0 L301.8,502.0 L302.8,499.1 L303.9,496.1 L305.0,493.0 L306.1,490.1 L307.2,487.0 L308.3,484.2 L309.4,481.1 L310.5,478.1 L311.6,475.1 L312.9,469.0 L314.1,462.6 L314.5,455.2 L315.0,447.5 L315.4,440.0 L315.7,433.1 L316.0,426.6 L316.4,420.0 L316.7,413.2 L316.9,406.7 L317.1,400.5 L317.4,394.2 L317.6,388.0 L317.8,381.9 L318.1,375.6 L318.3,369.1 L318.5,362.6 L318.7,356.8 L318.8,350.8 L319.0,344.4 L319.1,338.3 L319.3,332.2 L319.4,326.3 L319.6,319.9 L319.7,313.6 L319.8,307.7 L319.9,301.6 L320.1,295.4 L320.2,289.4 L320.3,283.2 L320.4,277.1 L320.7,270.7 L320.9,264.3 L321.2,257.9 L321.4,251.7 L321.7,245.6 L322.7,238.5 L323.6,231.4 L324.6,224.4 L325.6,217.5 L326.8,212.4 L328.0,207.2 L329.2,202.2 L330.4,197.2 L331.4,195.7 L332.5,194.1 L333.5,192.2 L334.5,190.7 L335.6,189.0 L336.6,187.4 L337.7,186.6 L338.7,185.5 L339.8,184.6 L340.8,183.9 L341.8,182.9 L342.9,182.2 L343.9,182.1 L344.9,181.9 L345.9,181.8 L346.9,181.9 L347.9,181.9 L348.9,181.8 L349.9,181.6 L350.9,181.5 L351.9,181.7 L352.9,181.7 L353.9,181.5" fill="none" stroke="#8b4513" stroke-width="3.8" stroke-linejoin="round" stroke-linecap="butt" />
<path d="M353.9,181.9 L354.9,180.9 L356.0,179.6 L357.0,178.5 L357.8,178.4 L358.6,178.8 L359.5,178.1 L360.3,178.7 L361.1,177.6 L361.9,178.0 L362.7,178.0 L363.6,177.7 L364.4,178.7 L365.2,178.0 L366.0,178.7 L366.8,179.1 L367.7,177.8 L368.5,178.8 L369.3,178.7 L370.1,178.5 L370.9,177.2 L371.8,177.9 L372.6,178.2 L373.4,177.6 L374.2,177.4 L375.0,177.5 L375.9,177.4 L376.7,178.3 L377.5,177.6 L378.5,178.2 L379.6,179.1 L380.6,180.2 L381.4,179.1 L382.2,178.4 L383.0,180.0 L383.9,179.9 L384.7,179.7 L385.5,179.2 L386.3,178.5 L387.1,178.3 L387.9,178.5 L388.7,178.7 L389.6,178.0 L390.4,179.0 L391.2,179.1 L392.0,177.8 L392.8,179.1 L393.6,178.6 L394.4,179.2 L395.2,178.4 L396.1,178.9 L396.9,178.3 L397.7,178.4 L398.5,178.2 L399.3,177.3 L400.1,177.3 L400.9,177.5 L401.8,177.7 L402.6,177.7 L403.4,177.9 L404.2,178.1 L405.0,177.6 L405.8,177.5 L406.6,177.8 L407.4,178.6 L408.2,178.4 L409.0,178.1 L409.8,178.4 L410.6,177.3 L411.4,177.0 L412.2,177.0 L413.0,177.0 L413.8,176.8 L414.6,177.9 L415.4,178.5 L416.2,177.1 L417.0,178.0 L417.8,178.6 L418.6,178.3 L419.4,177.2 L420.2,177.9 L421.1,177.3 L421.9,177.1 L422.7,176.8 L423.5,177.7 L424.3,178.5 L425.1,177.1 L425.9,177.0 L426.7,177.4 L427.5,176.8 L428.3,177.5 L429.1,178.1 L429.9,177.7 L430.7,176.8 L431.5,176.7 L432.3,177.0 L433.1,177.9 L433.9,178.5 L434.7,177.7 L435.5,177.0 L436.3,177.1 L437.1,177.4 L437.9,176.9 L438.7,176.9 L439.5,177.4 L440.3,178.2 L441.1,177.2 L441.9,178.3 L442.7,178.4 L443.5,177.6 L444.3,177.1 L445.1,177.0 L445.9,177.8 L446.7,178.2 L447.5,178.3 L448.3,177.1 L449.1,177.4 L449.9,176.7 L450.7,177.1 L451.5,177.2 L452.3,176.9 L453.1,176.7 L454.0,178.4 L454.8,177.3 L455.6,177.5 L456.4,177.6 L457.2,177.5 L458.0,177.7 L458.8,177.6 L459.6,177.5 L460.4,176.8 L461.2,177.7 L462.0,177.9 L462.8,178.0 L463.6,177.2 L464.4,177.4 L465.2,178.1 L466.0,178.0 L466.8,176.8 L467.6,177.1 L468.4,176.9 L469.2,177.8 L470.0,177.4 L470.8,177.3 L471.6,177.0 L472.4,177.3 L473.2,177.8 L474.1,177.7 L474.9,176.9 L475.7,177.2 L476.5,177.6 L477.3,176.6 L478.1,178.0 L478.9,176.6 L479.7,177.5 L480.5,176.7 L481.4,178.1 L482.2,177.7 L483.0,176.8 L483.8,177.2 L484.6,177.9 L485.4,177.9 L486.2,177.6 L487.0,177.5 L487.8,177.7 L488.6,178.0 L489.5,177.3 L490.3,177.4 L491.1,177.7 L491.9,177.2 L492.7,176.6 L493.5,177.2 L494.3,176.8 L495.1,177.4 L495.9,177.6 L496.8,177.8 L497.6,176.4 L498.4,176.1 L499.2,177.7 L500.0,177.5 L500.8,177.9 L501.6,177.6 L502.4,177.8 L503.2,176.4 L504.0,176.3 L504.8,177.1 L505.6,177.4 L506.4,176.3 L507.2,177.6 L508.0,176.5 L508.8,176.3 L509.6,176.7 L510.4,176.2 L511.2,176.0 L512.0,176.0 L512.8,175.9 L513.6,176.1 L514.4,177.0 L515.2,177.3 L516.0,177.3 L516.8,176.6 L517.6,177.2 L518.4,176.1 L519.2,177.3 L520.0,176.6 L520.8,176.0 L521.6,176.4 L522.4,176.1 L523.2,177.0 L524.0,176.4 L524.8,175.7 L525.6,175.9 L526.4,175.8 L527.2,177.3 L528.0,176.5 L528.8,177.0 L529.6,176.7 L530.4,176.4 L531.2,176.9 L532.0,176.6 L532.8,175.7 L533.6,177.3 L534.4,176.2 L535.2,176.7 L536.0,176.3 L536.8,177.2 L537.6,175.9 L538.4,175.5 L539.2,175.5 L540.0,176.1 L540.8,176.9 L541.6,176.3 L542.4,177.1 L543.2,175.7 L544.0,177.1 L544.8,175.8 L545.6,176.9 L546.4,175.8 L547.2,176.3 L548.0,176.4 L548.8,177.1 L549.6,176.1 L550.4,176.8 L551.2,175.4 L552.0,176.8 L552.8,176.2 L553.6,176.2 L554.4,177.0 L555.2,175.9 L556.0,176.3 L556.8,176.3 L557.6,175.7 L558.4,175.4 L559.2,175.8 L560.0,175.6 L560.8,176.2 L561.6,175.9 L562.4,175.2 L563.2,176.2 L564.0,176.7 L564.8,176.2 L565.6,175.6 L566.4,175.5 L567.2,176.7 L568.0,175.9 L568.8,176.3 L569.6,175.1 L570.4,176.3 L571.2,176.6 L572.0,175.5 L572.8,175.4 L573.6,176.0 L574.4,176.6 L575.2,176.4 L576.0,175.0 L576.8,175.0 L577.6,176.4 L578.4,175.6 L579.2,176.5 L580.0,175.7 L580.8,176.3 L581.6,175.2 L582.4,176.5 L583.2,175.7 L584.0,174.8 L584.8,175.0 L585.6,174.8 L586.4,175.4 L587.2,176.4 L588.0,176.5 L588.8,176.5 L589.6,175.5 L590.4,176.1 L591.2,176.1 L592.0,176.2 L592.8,176.5 L593.6,176.3 L594.4,176.1 L595.2,175.3 L596.0,174.9 L596.8,175.3 L597.6,175.1 L598.4,175.9 L599.2,174.9 L600.0,174.9 L600.8,175.8 L601.6,174.7 L602.4,174.6 L603.2,174.5 L604.0,174.5 L604.8,174.6 L605.6,175.8 L606.4,175.1 L607.2,174.7 L608.0,175.3 L608.8,175.1 L609.6,174.5 L610.4,174.5 L611.2,174.9 L612.0,175.2 L612.8,174.7 L613.6,175.1 L614.4,175.3 L615.2,176.1 L616.0,175.6 L616.8,175.0 L617.6,174.8 L618.4,174.7 L619.2,175.0 L620.0,176.1 L620.8,176.2 L621.6,174.7 L622.4,175.5 L623.2,175.8 L624.0,176.1 L624.8,175.8 L625.6,175.5 L626.4,174.5 L627.2,174.7 L628.0,176.0 L628.8,176.0 L629.6,176.0 L630.4,175.0 L631.2,175.7 L632.0,175.7 L632.8,175.0 L633.6,174.9 L634.4,175.1 L635.2,175.2 L636.0,174.3 L636.8,174.2 L637.6,175.9 L638.4,175.0 L639.2,174.9 L640.0,175.2 L640.8,175.2 L641.6,175.4 L642.4,175.2 L643.2,174.2 L644.0,174.2 L644.8,174.5 L645.6,174.7 L646.4,175.9 L647.2,175.1 L648.0,174.4 L648.9,175.6 L649.7,174.7 L650.5,174.8 L651.3,175.2 L652.1,175.4 L652.9,174.6 L653.7,174.8 L654.5,174.1 L655.3,175.7 L656.1,175.7 L656.9,175.6 L657.7,174.5 L658.5,175.1 L659.3,174.8 L660.1,174.3 L660.9,174.3 L661.7,175.5 L662.5,175.2 L663.3,175.1 L664.1,174.3 L664.9,175.0 L665.7,175.6 L666.6,174.4 L667.4,174.3 L668.2,175.6 L669.0,174.5 L669.8,174.7 L670.6,175.6 L671.4,175.3 L672.2,174.5 L673.0,174.5 L673.8,174.3 L674.6,173.9 L675.4,174.8 L676.2,174.1 L677.0,174.3 L677.8,175.3 L678.6,174.1 L679.4,173.9 L680.2,173.9 L681.0,174.9 L681.8,174.3 L682.6,174.3 L683.4,174.7 L684.3,175.1 L685.1,175.6 L685.9,174.0 L686.7,174.4 L687.5,173.8 L688.3,174.3 L689.1,174.9 L689.9,174.4 L690.7,174.5 L691.5,174.3 L692.3,175.5 L693.1,175.3 L693.9,175.4 L694.7,174.9 L695.5,175.4 L696.3,175.0 L697.1,173.9 L697.9,173.9 L698.7,175.3 L699.5,174.8 L700.3,175.0 L701.1,174.7 L702.0,175.3 L702.8,174.1 L703.6,173.9 L704.4,174.0 L705.2,174.9 L706.0,174.7 L706.8,174.6 L707.6,174.0 L708.4,174.3 L709.2,174.1 L710.0,173.7 L710.8,175.2 L711.6,175.1 L712.4,175.1 L713.2,174.3 L714.0,175.1 L714.8,175.1 L715.6,174.1 L716.4,175.3 L717.2,175.1 L718.0,173.7 L718.8,173.7 L719.6,173.7 L720.4,174.7 L721.2,173.9 L722.1,173.8 L722.9,173.6 L723.7,174.3 L724.5,174.1 L725.3,174.5 L726.1,173.9 L726.9,174.8 L727.7,174.7 L728.5,174.3 L729.3,175.3 L730.1,174.7 L730.9,174.6 L731.7,174.0 L732.5,174.0 L733.3,174.8 L734.1,174.2 L734.9,173.7 L735.7,174.2 L736.5,174.4 L737.3,173.8 L738.1,173.9 L738.9,175.1 L739.7,175.1 L740.5,174.4 L741.3,174.9 L742.1,174.7 L742.9,173.9 L743.8,174.5 L744.6,173.6 L745.4,174.5 L746.2,174.5 L747.0,173.7 L747.8,174.4 L748.6,173.9 L749.4,174.7 L750.2,175.3 L751.0,175.1 L751.8,173.7 L752.6,174.5 L753.4,174.5 L754.2,175.2 L755.0,174.1 L755.8,173.6 L756.6,174.1 L757.4,174.1 L758.2,175.0 L759.0,175.1 L759.8,174.6 L760.6,174.9 L761.4,174.3 L762.2,174.0 L763.0,174.2 L763.8,174.7 L764.6,174.1 L765.4,174.9 L766.2,174.4 L767.1,173.9 L767.9,174.3 L768.7,175.0 L769.5,174.2 L770.3,174.0 L771.1,174.4 L771.9,175.2 L772.7,175.0 L773.5,174.8 L774.3,174.0 L775.1,174.5 L775.9,174.7 L776.7,174.0 L777.5,174.4 L778.3,173.7 L779.1,175.0 L779.9,174.7 L780.7,174.6 L781.5,174.9 L782.3,174.9 L783.1,174.1 L783.9,174.5 L784.7,173.7 L785.5,174.6 L786.3,174.1 L787.1,174.4 L787.9,174.9 L788.8,174.0 L789.6,173.7 L790.4,174.8 L791.2,174.0 L792.0,175.0 L792.8,175.2 L793.6,173.8 L794.4,174.4 L795.2,175.1 L796.0,174.7 L796.8,174.6 L797.6,173.7 L798.4,174.1 L799.2,174.8 L800.0,173.5 L800.8,174.6 L801.6,174.0 L802.4,173.9 L803.2,174.9 L804.0,174.1 L804.8,174.3 L805.6,175.2 L806.4,174.0 L807.2,175.1 L808.0,174.0 L808.8,174.4 L809.6,173.5 L810.4,175.1 L811.2,174.3 L812.0,174.3 L812.8,175.1 L813.6,174.2 L814.4,173.4 L815.2,173.9 L816.0,173.4 L816.8,173.3 L817.6,174.8 L818.4,174.8 L819.2,174.7 L820.0,174.6 L820.8,174.1 L821.6,174.4 L822.4,173.9 L823.2,174.4 L824.0,174.8 L824.8,174.1 L825.6,173.8 L826.4,173.9 L827.2,173.7 L828.0,174.9 L828.8,174.9 L829.6,174.0 L830.4,173.5 L831.2,174.2 L832.0,174.7 L832.8,173.9 L833.6,174.7 L834.4,174.0 L835.2,173.7 L836.0,174.7 L836.8,174.7 L837.6,174.1 L838.4,174.6 L839.2,173.9 L840.0,174.7 L840.8,174.5 L841.6,174.4 L842.4,173.9 L843.2,174.4 L844.0,173.8 L844.8,175.0 L845.6,174.4 L846.4,174.7 L847.2,173.5 L848.0,173.4 L848.8,173.8 L849.6,173.6 L850.4,173.9 L851.2,174.4 L852.0,174.7 L852.8,173.5 L853.6,174.4 L854.4,173.5 L855.2,174.6 L856.0,174.9 L856.8,174.6 L857.6,174.0 L858.4,173.9 L859.2,174.6 L860.0,174.9 L860.8,173.6 L861.6,173.7 L862.4,174.8 L863.2,174.7 L864.0,173.7 L864.8,173.5 L865.6,173.3 L866.4,173.7 L867.2,174.7 L868.0,174.3 L868.8,173.6 L869.6,173.5 L870.4,173.4 L871.2,173.9 L872.0,173.5 L872.8,173.4 L873.6,174.2 L874.4,173.5 L875.2,173.2 L876.0,173.2 L876.8,174.6 L877.6,174.5 L878.4,173.3 L879.2,174.9 L880.0,174.9 L880.8,173.3 L881.6,174.8 L882.4,173.3 L883.2,173.5 L884.0,173.4 L884.8,174.1 L885.6,174.4 L886.4,173.6 L887.2,174.2 L888.0,174.7 L888.8,173.4 L889.6,173.5 L890.4,174.6 L891.2,173.3 L892.0,173.7 L892.8,173.7 L893.6,174.2 L894.4,173.2 L895.2,173.1 L896.0,174.2 L896.8,174.5 L897.6,173.3 L898.4,174.2 L899.2,173.6 L900.0,174.6 L900.8,174.4 L901.6,174.4 L902.4,173.7 L903.2,174.0 L904.0,175.0 L904.8,174.2 L905.6,174.4 L906.4,174.6 L907.2,173.8 L908.0,173.7 L908.8,174.9 L909.6,174.6 L910.4,173.6 L911.2,174.1 L912.0,173.8 L912.8,174.4 L913.6,174.5 L914.4,174.8 L915.2,174.3 L916.0,173.5 L916.8,174.1 L917.6,173.4 L918.4,174.0 L919.2,174.0 L920.0,173.9 L920.8,173.7 L921.6,173.5 L922.4,173.7 L923.2,174.4 L924.0,173.6 L924.8,174.1 L925.6,175.0 L926.4,175.1 L927.2,174.7 L928.0,174.2 L928.8,174.3 L929.6,174.1 L930.4,174.8 L931.2,174.1 L932.0,173.4 L932.8,174.8 L933.6,173.7 L934.4,174.9 L935.2,174.9 L936.0,173.9 L936.8,173.7 L937.6,174.8 L938.4,174.9 L939.2,174.2 L940.0,173.5 L940.8,174.1 L941.6,174.9 L942.4,174.0 L943.2,174.4 L944.0,174.9 L944.8,174.3 L945.6,173.9 L946.4,174.3 L947.2,173.8 L948.0,174.7 L948.8,173.7 L949.6,174.6 L950.4,174.3 L951.2,173.7 L952.0,174.9 L952.8,175.1 L953.6,173.7 L954.4,173.9 L955.2,174.9 L956.0,173.6 L956.8,174.6 L957.6,173.9 L958.4,174.1 L959.2,173.9 L960.0,173.4 L960.8,174.1 L961.6,175.0 L962.4,173.8 L963.2,174.6 L964.0,173.6 L964.8,174.9 L965.6,173.4 L966.4,173.7 L967.2,173.7 L968.0,174.4 L968.8,174.3 L969.6,174.6 L970.4,174.4 L971.2,174.9 L972.0,173.8 L972.8,173.7 L973.6,174.3 L974.4,174.8 L975.2,174.2 L976.0,175.0 L976.8,173.9 L977.6,174.9 L978.4,174.3 L979.2,174.7 L980.0,175.2 L980.8,175.1 L981.6,174.9 L982.4,174.7 L983.2,174.0 L984.0,174.7 L984.8,174.5 L985.6,174.4 L986.4,173.6 L987.2,174.9 L988.0,174.9 L988.8,175.1 L989.6,174.3 L990.4,174.0 L991.2,174.4 L992.0,175.0 L992.8,174.1 L993.6,174.0 L994.4,174.5 L995.2,175.2 L996.0,174.6 L996.8,174.9 L997.6,174.3 L998.4,173.5 L999.2,174.9 L1000.0,174.3 L1000.8,174.6 L1001.6,173.9 L1002.4,174.8 L1003.2,173.7 L1004.0,174.3 L1004.8,175.0 L1005.6,174.8 L1006.4,173.6 L1007.2,174.9 L1008.0,175.2 L1008.8,175.2 L1009.6,173.9 L1010.4,173.4 L1011.2,174.3 L1012.0,174.6 L1012.8,173.7 L1013.7,174.2 L1014.5,173.5 L1015.3,173.5 L1016.1,175.0 L1016.9,174.6 L1017.7,173.9 L1018.5,174.4 L1019.3,173.7 L1020.1,174.0 L1020.9,174.6 L1021.7,174.0 L1022.5,173.5 L1023.3,175.0 L1024.1,173.6 L1024.9,174.4 L1025.7,174.2 L1026.5,174.4 L1027.3,174.7 L1028.1,173.9 L1028.9,174.2 L1029.7,174.0 L1030.5,174.2 L1031.3,174.5 L1032.1,174.2 L1032.9,174.8 L1033.7,174.7 L1034.5,174.7 L1035.3,174.1 L1036.1,173.9 L1036.9,174.4 L1037.7,174.6 L1038.5,174.3 L1039.3,175.2 L1040.2,173.8 L1041.0,174.3 L1041.8,175.2 L1042.6,174.0 L1043.4,174.7 L1044.2,174.7 L1045.0,175.1 L1045.8,174.2 L1046.6,173.9 L1047.4,174.7 L1048.2,174.8 L1049.0,174.6 L1049.8,174.4 L1050.6,173.6 L1051.4,174.2 L1052.2,174.0 L1053.0,174.7 L1053.8,175.2 L1054.6,174.4 L1055.4,174.9 L1056.2,174.1 L1057.0,174.1 L1057.8,174.6 L1058.6,173.8 L1059.4,174.2 L1060.2,173.5 L1061.0,174.0 L1061.8,174.9 L1062.6,175.2 L1063.4,173.9 L1064.2,174.4 L1065.0,174.3 L1065.9,173.5 L1066.7,173.6 L1067.5,174.5 L1068.3,173.6 L1069.1,174.9 L1069.9,175.1 L1070.7,174.0 L1071.5,173.4 L1072.3,173.4 L1073.1,173.5 L1073.9,174.9 L1074.7,174.6 L1075.5,175.2 L1076.3,174.7 L1077.1,174.8 L1077.9,174.2 L1078.7,174.6" fill="none" stroke="#8b4513" stroke-width="2.1" stroke-linejoin="round" stroke-linecap="butt" />
</g>
<rect x="1414.8" y="163.3" width="812.5" height="603.5" fill="#e5e5e5"/>
<g stroke="#ffffff" stroke-width="1.9">
<line x1="1414.8" x2="2227.3" y1="164.8" y2="164.8"/>
<line x1="1414.8" x2="2227.3" y1="287.4" y2="287.4"/>
<line x1="1414.8" x2="2227.3" y1="408.1" y2="408.1"/>
<line x1="1414.8" x2="2227.3" y1="530.0" y2="530.0"/>
<line x1="1414.8" x2="2227.3" y1="650.9" y2="650.9"/>
<line x1="1576.2" x2="1576.2" y1="163.3" y2="766.8"/>
<line x1="1738.8" x2="1738.8" y1="163.3" y2="766.8"/>
<line x1="1901.4" x2="1901.4" y1="163.3" y2="766.8"/>
<line x1="2064.0" x2="2064.0" y1="163.3" y2="766.8"/>
</g>
<g stroke="#555555">
<line x1="1406.0" x2="1413.2" y1="164.8" y2="164.8" stroke-width="1.9"/>
<line x1="1409.4" x2="1413.2" y1="196.7" y2="196.7" stroke-width="1.3"/>
<line x1="1409.4" x2="1413.2" y1="258.5" y2="258.5" stroke-width="1.3"/>
<line x1="1406.0" x2="1413.2" y1="287.4" y2="287.4" stroke-width="1.9"/>
<line x1="1409.4" x2="1413.2" y1="318.5" y2="318.5" stroke-width="1.3"/>
<line x1="1409.4" x2="1413.2" y1="348.2" y2="348.2" stroke-width="1.3"/>
<line x1="1409.4" x2="1413.2" y1="379.1" y2="379.1" stroke-width="1.3"/>
<line x1="1406.0" x2="1413.2" y1="408.1" y2="408.1" stroke-width="1.9"/>
<line x1="1409.4" x2="1413.2" y1="439.3" y2="439.3" stroke-width="1.3"/>
<line x1="1409.4" x2="1413.2" y1="500.8" y2="500.8" stroke-width="1.3"/>
<line x1="1406.0" x2="1413.2" y1="530.0" y2="530.0" stroke-width="1.9"/>
<line x1="1409.4" x2="1413.2" y1="561.7" y2="561.7" stroke-width="1.3"/>
<line x1="1409.4" x2="1413.2" y1="590.2" y2="590.2" stroke-width="1.3"/>
<line x1="1409.4" x2="1413.2" y1="621.7" y2="621.7" stroke-width="1.3"/>
<line x1="1406.0" x2="1413.2" y1="650.8" y2="650.8" stroke-width="1.9"/>
<line x1="1409.4" x2="1413.2" y1="682.4" y2="682.4" stroke-width="1.3"/>
<line x1="1493.6" x2="1493.6" y1="768.8" y2="773.3" stroke-width="1.3"/>
<line x1="1576.2" x2="1576.2" y1="768.8" y2="776.3" stroke-width="1.9"/>
<line x1="1656.8" x2="1656.8" y1="768.8" y2="773.3" stroke-width="1.3"/>
<line x1="1738.7" x2="1738.7" y1="768.8" y2="776.3" stroke-width="1.9"/>
<line x1="1820.7" x2="1820.7" y1="768.8" y2="773.3" stroke-width="1.3"/>
<line x1="1901.2" x2="1901.2" y1="768.8" y2="776.3" stroke-width="1.9"/>
<line x1="1983.4" x2="1983.4" y1="768.8" y2="773.3" stroke-width="1.3"/>
<line x1="2063.9" x2="2063.9" y1="768.8" y2="776.3" stroke-width="1.9"/>
<line x1="2146.2" x2="2146.2" y1="768.8" y2="773.3" stroke-width="1.3"/>
<line x1="2227.6" x2="2227.6" y1="768.8" y2="776.3" stroke-width="1.9"/>
</g>
<clipPath id="c2"><rect x="1414.8" y="163.3" width="812.5" height="603.5"/></clipPath>
<g clip-path="url(#c2)">
<path d="M1466.2,279.1 L1467.8,283.0 L1469.3,277.5 L1470.9,268.7 L1472.5,263.9 L1474.1,275.8 L1475.7,278.8 L1477.2,274.1 L1478.8,274.2 L1480.4,269.6 L1482.1,262.0 L1483.7,266.7 L1485.4,270.1 L1487.1,258.4 L1488.7,269.8 L1490.4,258.4 L1492.0,255.0 L1493.7,248.9 L1495.4,269.4 L1497.1,268.5 L1498.8,272.5 L1500.4,269.1 L1502.1,258.1 L1503.8,263.8 L1505.5,269.4 L1507.1,260.7 L1508.7,275.1 L1510.2,264.0 L1511.8,256.6 L1513.4,270.9 L1514.9,260.2 L1516.5,276.3 L1518.1,270.4 L1519.6,272.8 L1521.2,270.3 L1522.8,270.4 L1524.3,262.4 L1525.9,256.3 L1527.4,270.5 L1529.0,257.9 L1530.7,268.6 L1532.3,259.6 L1534.0,274.8 L1535.5,274.8 L1537.1,271.4 L1538.6,270.6 L1540.1,266.2 L1541.7,268.1 L1543.2,255.5 L1545.1,261.9 L1547.1,270.9 L1549.0,260.4 L1550.7,272.3 L1552.3,272.5 L1554.0,261.9 L1555.6,260.2 L1557.2,262.2 L1558.8,261.7 L1560.4,274.6 L1562.0,264.6 L1563.6,255.4 L1565.2,255.0 L1566.7,267.5 L1568.3,274.6 L1569.9,265.3 L1571.5,263.5 L1573.0,264.1 L1574.6,268.0 L1576.2,257.5 L1577.8,264.7 L1579.3,265.3 L1580.9,267.4 L1582.5,259.4 L1584.0,258.6 L1585.6,262.8 L1587.1,275.9 L1588.7,266.7 L1590.3,268.4 L1591.9,261.1 L1593.4,254.3 L1595.0,250.9 L1596.6,264.1 L1598.2,268.3 L1599.8,263.1 L1601.3,271.0 L1602.9,274.3 L1604.4,277.0 L1606.0,277.0 L1607.5,264.1 L1609.0,272.3 L1610.6,273.9 L1612.2,267.1 L1613.8,272.6 L1615.4,265.9 L1617.0,263.1 L1618.6,258.4 L1620.2,269.2 L1621.7,254.9 L1623.3,249.5 L1624.9,262.4 L1626.4,264.8 L1627.9,260.0 L1629.5,267.3 L1631.0,253.1 L1632.5,255.9 L1634.0,257.8 L1635.5,261.2 L1637.0,257.2 L1638.5,255.0 L1640.0,260.7 L1641.6,273.5 L1643.1,277.7 L1644.6,274.0 L1646.1,268.5 L1647.6,263.6 L1649.4,276.7 L1651.2,269.3 L1653.0,271.9 L1654.7,255.7 L1656.4,254.9 L1658.0,265.5 L1659.7,264.1 L1661.4,263.6 L1663.0,257.6 L1664.5,252.6 L1666.1,254.5 L1667.7,259.8 L1669.3,249.1 L1670.8,251.6 L1672.4,246.2 L1674.1,256.0 L1675.7,242.5 L1677.4,254.7 L1679.0,262.5 L1680.7,245.1 L1682.3,252.9 L1683.9,254.1 L1685.5,257.6 L1687.1,251.7 L1688.7,243.1 L1690.3,243.9 L1692.0,256.8 L1693.6,258.9 L1695.3,244.6 L1696.9,242.8 L1698.6,243.7 L1700.2,241.4 L1701.8,248.8 L1703.4,242.9 L1705.1,256.1 L1706.7,252.9 L1708.3,240.9 L1710.3,250.4 L1712.4,249.8 L1714.0,251.9 L1715.5,246.0 L1717.1,243.4 L1718.7,242.7 L1720.3,245.8 L1721.8,252.4 L1723.4,249.5 L1725.1,237.5 L1726.8,248.1 L1728.6,251.8 L1730.3,249.2 L1731.9,249.4 L1733.5,233.4 L1735.1,240.3 L1736.6,233.2 L1738.2,246.4 L1739.8,236.4 L1741.4,245.8 L1743.0,237.5 L1744.5,244.9 L1746.1,237.9 L1747.7,231.0 L1749.3,236.7 L1750.8,235.6 L1752.4,247.1 L1754.0,235.4 L1755.5,236.8 L1757.1,237.0 L1758.7,244.1 L1760.3,226.9 L1761.8,233.5 L1763.4,231.6 L1765.1,237.2 L1766.8,243.7 L1768.6,232.1 L1770.3,239.2 L1772.0,235.5 L1773.6,234.7 L1775.3,223.5 L1776.9,236.2 L1778.6,240.5 L1780.4,228.6 L1782.3,226.1 L1784.1,239.5 L1786.0,225.7 L1787.8,225.0 L1789.7,226.8 L1791.4,242.5 L1793.2,244.3 L1794.9,238.8 L1796.6,242.1 L1798.2,228.3 L1799.9,237.3 L1801.5,232.9 L1803.2,232.1 L1804.8,227.8 L1806.6,226.7 L1808.5,222.2 L1810.3,217.1 L1811.8,224.5 L1813.3,222.0 L1814.8,231.1 L1816.3,234.9 L1817.8,233.8 L1819.4,228.3 L1820.9,223.2 L1822.4,225.6 L1823.9,228.2 L1825.4,231.7 L1826.9,239.1 L1828.5,221.7 L1830.0,226.6 L1831.5,227.1 L1833.1,231.2 L1834.7,234.9 L1836.2,232.6 L1837.8,228.6 L1839.3,230.2 L1841.0,229.8 L1842.6,234.6 L1844.3,233.0 L1845.9,233.4 L1847.6,225.5 L1849.4,236.0 L1851.3,225.1 L1853.1,226.6 L1854.8,231.9 L1856.4,236.0 L1858.1,237.6 L1859.7,218.3 L1861.4,222.1 L1863.1,221.8 L1864.7,222.7 L1866.4,217.1 L1868.0,223.9 L1869.7,214.5 L1871.5,219.9 L1873.4,235.5 L1875.2,235.5 L1876.9,227.9 L1878.7,218.2 L1880.4,232.8 L1882.1,228.5 L1883.6,218.0 L1885.2,219.2 L1886.7,225.8 L1888.2,227.7 L1889.8,219.6 L1891.3,232.5 L1892.8,221.8 L1894.4,218.9 L1895.9,230.6 L1897.6,219.3 L1899.3,229.3 L1901.1,221.8 L1902.8,229.7 L1904.5,222.9 L1906.2,222.7 L1908.0,233.0 L1909.7,223.7 L1911.4,221.6 L1913.1,224.6 L1914.8,217.9 L1916.6,214.4 L1918.3,217.9 L1920.0,215.8 L1921.7,214.7 L1923.3,231.0 L1925.0,215.2 L1926.6,229.4 L1928.3,234.7 L1929.8,229.9 L1931.3,214.5 L1932.8,221.3 L1934.3,212.2 L1935.8,221.8 L1937.4,224.4 L1938.9,214.7 L1940.4,207.8 L1941.9,217.0 L1943.4,208.5 L1944.9,212.1 L1946.4,215.9 L1947.9,225.7 L1949.4,216.8 L1950.9,210.9 L1952.4,223.8 L1953.9,226.6 L1955.4,221.3 L1956.9,211.0 L1958.4,212.6 L1959.9,217.5 L1961.4,221.6 L1962.9,215.6 L1964.5,226.7 L1966.0,229.3 L1967.5,231.5 L1969.1,231.1 L1970.6,213.5 L1972.1,222.5 L1973.7,213.7 L1975.2,229.3 L1976.7,228.2 L1978.3,228.1 L1979.8,216.3 L1981.3,211.7 L1982.9,226.2 L1984.4,223.9 L1985.9,223.7 L1987.5,220.4 L1989.0,226.4 L1990.5,217.7 L1992.1,214.8 L1993.6,215.8 L1995.1,214.7 L1996.7,221.0 L1998.2,227.1 L1999.7,211.2 L2001.3,208.5 L2002.8,216.9 L2004.3,221.6 L2005.9,212.3 L2007.4,212.4 L2008.9,208.1 L2010.5,206.9 L2012.0,216.1 L2013.5,221.2 L2015.1,221.3 L2016.6,211.2 L2018.2,208.4 L2019.8,224.7 L2021.4,219.0 L2022.9,215.4 L2024.5,220.4 L2026.1,221.8 L2027.7,217.8 L2029.3,207.9 L2030.9,221.6 L2032.4,211.0 L2034.0,205.7 L2035.6,211.1 L2037.2,215.5 L2038.9,219.1 L2040.7,211.3 L2042.4,221.9 L2044.1,220.0 L2045.8,210.9 L2047.5,221.9 L2049.3,221.1 L2051.0,221.4 L2052.7,217.9 L2054.4,208.7 L2056.2,219.5 L2057.9,224.5 L2059.6,216.7 L2061.2,222.5 L2062.9,223.9 L2064.5,211.5 L2066.2,220.2 L2067.8,221.8 L2069.3,219.4 L2070.8,203.2 L2072.4,208.0 L2073.9,214.3 L2075.5,215.3 L2077.0,218.7 L2078.6,217.2 L2080.1,207.4 L2081.7,221.9 L2083.2,216.2 L2084.7,222.7 L2086.3,210.2 L2087.8,224.7 L2089.3,218.1 L2090.9,221.9 L2092.4,222.0 L2094.0,224.8 L2095.6,214.6 L2097.2,207.3 L2098.8,212.7 L2100.4,208.9 L2102.0,215.6 L2103.5,222.2 L2105.1,213.9 L2106.7,207.9 L2108.3,204.8 L2109.9,212.4 L2111.5,216.7 L2113.1,206.0 L2114.6,217.3 L2116.2,209.6 L2117.7,206.2 L2119.2,222.3 L2120.8,216.3 L2122.3,222.9 L2123.8,215.9 L2125.4,206.8 L2126.9,207.7 L2128.4,211.3 L2130.0,216.0 L2131.5,219.1 L2133.0,218.9 L2134.6,216.5 L2136.1,207.8 L2137.6,209.8 L2139.2,208.8 L2140.7,210.7 L2142.2,206.6 L2143.8,211.7 L2145.3,210.9 L2146.8,202.3 L2148.4,217.2 L2149.9,214.8 L2151.4,218.9 L2153.0,218.4 L2154.5,218.3 L2156.0,223.4 L2157.6,211.4 L2159.1,209.7 L2160.6,201.3 L2162.2,213.4 L2163.7,213.3 L2165.2,213.0 L2166.8,221.4 L2168.3,206.1 L2169.8,204.1 L2171.4,213.8 L2172.9,216.5 L2174.4,209.8 L2176.0,199.8 L2177.5,204.4 L2179.0,214.0 L2180.6,208.5 L2182.1,206.6 L2183.6,204.8 L2185.2,209.3 L2186.7,209.3 L2188.2,211.2 L2189.8,214.9 L2191.3,213.1 L2192.8,205.1 L2194.4,201.2 L2195.9,211.5 L2197.4,213.2 L2199.0,216.2 L2200.5,201.8 L2202.0,212.9 L2203.6,215.4 L2205.1,199.2 L2206.6,201.5 L2208.2,208.5 L2209.7,199.6 L2211.3,212.3 L2212.8,202.8 L2214.4,209.9 L2216.0,203.2 L2217.6,200.7 L2219.1,200.2 L2220.7,206.1 L2222.3,210.7 L2224.0,200.7 L2225.7,208.1 L2227.3,201.5 L2227.3,223.1 L2225.7,214.7 L2224.0,218.4 L2222.3,224.6 L2220.7,225.5 L2219.1,219.6 L2217.6,224.3 L2216.0,214.6 L2214.4,216.3 L2212.8,214.7 L2211.3,220.1 L2209.7,219.1 L2208.2,223.7 L2206.6,217.1 L2205.1,224.8 L2203.6,223.9 L2202.0,225.2 L2200.5,231.0 L2199.0,228.7 L2197.4,227.5 L2195.9,215.1 L2194.4,229.6 L2192.8,221.8 L2191.3,217.0 L2189.8,226.3 L2188.2,223.1 L2186.7,215.2 L2185.2,221.0 L2183.6,235.2 L2182.1,233.7 L2180.6,219.4 L2179.0,218.0 L2177.5,219.7 L2176.0,221.8 L2174.4,235.1 L2172.9,224.5 L2171.4,222.5 L2169.8,218.9 L2168.3,224.7 L2166.8,232.8 L2165.2,226.8 L2163.7,233.2 L2162.2,223.4 L2160.6,224.3 L2159.1,221.5 L2157.6,224.9 L2156.0,228.1 L2154.5,235.9 L2153.0,229.2 L2151.4,231.1 L2149.9,237.4 L2148.4,225.1 L2146.8,232.0 L2145.3,222.3 L2143.8,227.3 L2142.2,225.4 L2140.7,222.5 L2139.2,221.1 L2137.6,225.9 L2136.1,223.6 L2134.6,238.2 L2133.0,237.4 L2131.5,226.0 L2130.0,222.9 L2128.4,222.2 L2126.9,232.9 L2125.4,240.3 L2123.8,234.0 L2122.3,239.9 L2120.8,239.5 L2119.2,223.8 L2117.7,239.0 L2116.2,240.8 L2114.6,229.9 L2113.1,240.2 L2111.5,224.4 L2109.9,230.3 L2108.3,226.4 L2106.7,227.8 L2105.1,231.8 L2103.5,225.0 L2102.0,231.9 L2100.4,239.1 L2098.8,236.8 L2097.2,230.7 L2095.6,237.8 L2094.0,240.8 L2092.4,238.5 L2090.9,227.6 L2089.3,224.1 L2087.8,222.4 L2086.3,226.1 L2084.7,232.7 L2083.2,238.7 L2081.7,229.0 L2080.1,236.8 L2078.6,222.4 L2077.0,233.2 L2075.5,225.6 L2073.9,224.8 L2072.4,236.6 L2070.8,231.7 L2069.3,225.3 L2067.8,228.4 L2066.2,236.7 L2064.5,231.2 L2062.9,221.9 L2061.2,229.5 L2059.6,233.1 L2057.9,243.3 L2056.2,240.9 L2054.4,225.0 L2052.7,232.4 L2051.0,235.2 L2049.3,240.4 L2047.5,235.5 L2045.8,245.5 L2044.1,244.8 L2042.4,229.4 L2040.7,236.1 L2038.9,229.9 L2037.2,224.0 L2035.6,232.6 L2034.0,239.3 L2032.4,229.2 L2030.9,238.6 L2029.3,232.5 L2027.7,231.7 L2026.1,238.5 L2024.5,243.7 L2022.9,236.6 L2021.4,240.3 L2019.8,225.2 L2018.2,226.5 L2016.6,227.4 L2015.1,241.9 L2013.5,228.4 L2012.0,230.6 L2010.5,238.0 L2008.9,239.8 L2007.4,234.7 L2005.9,234.1 L2004.3,230.9 L2002.8,234.8 L2001.3,226.9 L1999.7,229.9 L1998.2,235.8 L1996.7,233.1 L1995.1,228.2 L1993.6,230.9 L1992.1,239.2 L1990.5,246.1 L1989.0,232.2 L1987.5,244.4 L1985.9,236.0 L1984.4,228.3 L1982.9,234.7 L1981.3,241.9 L1979.8,235.9 L1978.3,231.7 L1976.7,235.4 L1975.2,245.2 L1973.7,242.9 L1972.1,233.2 L1970.6,245.0 L1969.1,236.0 L1967.5,240.5 L1966.0,230.7 L1964.5,242.9 L1962.9,231.2 L1961.4,236.5 L1959.9,233.6 L1958.4,241.4 L1956.9,247.5 L1955.4,235.9 L1953.9,242.9 L1952.4,234.0 L1950.9,237.0 L1949.4,231.3 L1947.9,238.3 L1946.4,237.6 L1944.9,238.9 L1943.4,234.8 L1941.9,231.1 L1940.4,243.3 L1938.9,244.3 L1937.4,234.4 L1935.8,245.9 L1934.3,242.2 L1932.8,248.7 L1931.3,238.6 L1929.8,235.8 L1928.3,243.9 L1926.6,239.9 L1925.0,239.5 L1923.3,249.9 L1921.7,242.8 L1920.0,233.1 L1918.3,235.8 L1916.6,242.5 L1914.8,247.2 L1913.1,231.1 L1911.4,243.8 L1909.7,243.7 L1908.0,241.2 L1906.2,238.9 L1904.5,250.6 L1902.8,244.4 L1901.1,237.0 L1899.3,234.4 L1897.6,232.8 L1895.9,237.7 L1894.4,240.1 L1892.8,246.6 L1891.3,248.6 L1889.8,244.3 L1888.2,232.9 L1886.7,244.1 L1885.2,241.0 L1883.6,244.1 L1882.1,249.1 L1880.4,239.5 L1878.7,239.6 L1876.9,237.1 L1875.2,248.3 L1873.4,251.2 L1871.5,241.8 L1869.7,234.4 L1868.0,249.7 L1866.4,251.3 L1864.7,233.1 L1863.1,236.3 L1861.4,240.3 L1859.7,238.1 L1858.1,235.7 L1856.4,238.0 L1854.8,244.4 L1853.1,250.2 L1851.3,234.7 L1849.4,245.2 L1847.6,258.5 L1845.9,254.6 L1844.3,246.1 L1842.6,241.6 L1841.0,249.4 L1839.3,239.1 L1837.8,241.0 L1836.2,242.1 L1834.7,237.0 L1833.1,241.1 L1831.5,243.0 L1830.0,237.2 L1828.5,241.4 L1826.9,237.1 L1825.4,244.1 L1823.9,254.1 L1822.4,236.8 L1820.9,240.5 L1819.4,241.4 L1817.8,243.1 L1816.3,250.2 L1814.8,253.3 L1813.3,254.7 L1811.8,251.6 L1810.3,255.6 L1808.5,255.3 L1806.6,244.4 L1804.8,253.3 L1803.2,252.4 L1801.5,251.5 L1799.9,263.4 L1798.2,264.5 L1796.6,256.5 L1794.9,248.9 L1793.2,246.4 L1791.4,248.5 L1789.7,262.6 L1787.8,259.6 L1786.0,255.3 L1784.1,255.8 L1782.3,239.1 L1780.4,253.6 L1778.6,249.0 L1776.9,252.2 L1775.3,257.7 L1773.6,251.6 L1772.0,246.7 L1770.3,263.0 L1768.6,251.9 L1766.8,245.4 L1765.1,246.3 L1763.4,239.0 L1761.8,242.7 L1760.3,245.9 L1758.7,255.8 L1757.1,252.7 L1755.5,261.7 L1754.0,263.7 L1752.4,255.0 L1750.8,253.3 L1749.3,269.1 L1747.7,265.9 L1746.1,263.4 L1744.5,260.7 L1743.0,265.7 L1741.4,252.6 L1739.8,254.9 L1738.2,254.2 L1736.6,261.7 L1735.1,267.1 L1733.5,257.9 L1731.9,262.8 L1730.3,269.2 L1728.6,267.0 L1726.8,256.9 L1725.1,266.8 L1723.4,262.1 L1721.8,257.8 L1720.3,275.0 L1718.7,275.0 L1717.1,264.7 L1715.5,262.5 L1714.0,270.7 L1712.4,267.2 L1710.3,277.2 L1708.3,276.0 L1706.7,268.1 L1705.1,258.2 L1703.4,272.6 L1701.8,259.7 L1700.2,268.9 L1698.6,262.4 L1696.9,271.9 L1695.3,267.3 L1693.6,258.8 L1692.0,269.9 L1690.3,271.4 L1688.7,259.0 L1687.1,268.7 L1685.5,258.2 L1683.9,263.4 L1682.3,264.0 L1680.7,266.3 L1679.0,270.9 L1677.4,275.5 L1675.7,274.5 L1674.1,266.6 L1672.4,267.4 L1670.8,261.9 L1669.3,261.3 L1667.7,277.0 L1666.1,267.3 L1664.5,263.4 L1663.0,280.4 L1661.4,282.1 L1659.7,279.4 L1658.0,273.6 L1656.4,273.9 L1654.7,280.6 L1653.0,276.0 L1651.2,280.1 L1649.4,280.5 L1647.6,293.2 L1646.1,279.9 L1644.6,278.4 L1643.1,276.7 L1641.6,282.3 L1640.0,291.5 L1638.5,272.8 L1637.0,277.4 L1635.5,280.7 L1634.0,283.8 L1632.5,273.0 L1631.0,276.3 L1629.5,280.9 L1627.9,276.1 L1626.4,268.1 L1624.9,285.1 L1623.3,280.5 L1621.7,286.1 L1620.2,285.8 L1618.6,279.5 L1617.0,287.1 L1615.4,287.6 L1613.8,282.7 L1612.2,288.2 L1610.6,291.3 L1609.0,282.2 L1607.5,283.0 L1606.0,285.3 L1604.4,293.4 L1602.9,288.8 L1601.3,295.0 L1599.8,288.9 L1598.2,276.8 L1596.6,268.5 L1595.0,282.2 L1593.4,275.5 L1591.9,286.7 L1590.3,290.6 L1588.7,285.8 L1587.1,275.4 L1585.6,278.2 L1584.0,280.8 L1582.5,279.5 L1580.9,279.7 L1579.3,282.0 L1577.8,275.5 L1576.2,287.2 L1574.6,272.3 L1573.0,279.3 L1571.5,283.3 L1569.9,292.3 L1568.3,290.5 L1566.7,280.2 L1565.2,281.2 L1563.6,281.5 L1562.0,292.4 L1560.4,274.6 L1558.8,283.3 L1557.2,285.0 L1555.6,279.8 L1554.0,281.5 L1552.3,282.8 L1550.7,278.5 L1549.0,284.7 L1547.1,279.5 L1545.1,278.8 L1543.2,289.3 L1541.7,284.0 L1540.1,279.8 L1538.6,282.7 L1537.1,284.0 L1535.5,290.6 L1534.0,274.3 L1532.3,281.9 L1530.7,271.5 L1529.0,274.6 L1527.4,286.8 L1525.9,290.4 L1524.3,280.3 L1522.8,293.7 L1521.2,301.4 L1519.6,295.1 L1518.1,285.6 L1516.5,295.2 L1514.9,280.5 L1513.4,286.4 L1511.8,286.4 L1510.2,286.4 L1508.7,295.5 L1507.1,293.6 L1505.5,297.5 L1503.8,289.2 L1502.1,291.2 L1500.4,276.6 L1498.8,278.5 L1497.1,283.1 L1495.4,285.3 L1493.7,268.8 L1492.0,284.8 L1490.4,290.5 L1488.7,288.2 L1487.1,294.1 L1485.4,288.7 L1483.7,286.6 L1482.1,299.7 L1480.4,288.6 L1478.8,299.4 L1477.2,287.9 L1475.7,291.6 L1474.1,280.2 L1472.5,282.5 L1470.9,295.2 L1469.3,281.8 L1467.8,292.2 L1466.2,313.2Z" fill="#8b4513" fill-opacity="0.13" stroke="none"/>
<path d="M1470.0,697.7 L1471.5,690.7 L1473.0,689.0 L1474.5,699.2 L1476.0,693.0 L1477.5,692.0 L1479.0,697.8 L1480.5,696.1 L1482.0,702.0 L1483.5,696.7 L1485.0,703.9 L1486.5,699.0 L1488.0,701.7 L1489.5,706.0 L1491.0,704.7 L1492.5,707.5 L1494.0,706.2 L1495.5,699.9 L1497.0,708.0 L1498.5,706.8 L1500.0,704.3 L1501.5,702.6 L1503.0,709.1 L1504.5,707.3 L1506.0,710.7 L1507.5,709.5 L1509.0,711.2 L1510.5,707.5 L1512.0,708.2 L1513.5,707.5 L1515.0,703.8 L1516.5,710.3 L1518.0,704.7 L1519.5,708.7 L1521.0,711.0 L1522.5,708.3 L1524.0,702.7 L1525.5,708.8 L1527.0,708.1 L1528.5,703.1 L1530.0,701.0 L1531.5,705.6 L1533.0,701.2 L1534.5,709.6 L1536.0,706.6 L1537.5,706.3 L1539.0,705.1 L1540.5,707.5 L1542.0,710.5 L1543.5,704.7 L1545.0,704.5 L1546.5,706.6 L1548.0,704.0 L1549.5,706.7 L1551.0,706.5 L1552.5,705.4 L1554.0,707.7 L1555.5,706.5 L1557.0,701.9 L1558.5,710.4 L1560.0,705.2 L1561.5,705.0 L1563.1,704.4 L1564.6,709.5 L1566.2,710.3 L1567.7,705.8 L1569.2,703.7 L1570.8,700.1 L1572.3,707.6 L1573.8,701.1 L1575.4,703.7 L1576.9,701.9 L1578.5,701.2 L1580.0,701.2 L1581.5,699.4 L1583.1,697.3 L1584.6,701.9 L1586.2,705.0 L1587.7,703.8 L1589.2,698.9 L1590.8,702.9 L1592.3,696.8 L1593.8,699.4 L1595.4,703.8 L1596.9,705.2 L1598.5,700.5 L1600.0,703.6 L1601.5,700.4 L1603.0,700.1 L1604.5,700.5 L1606.1,704.7 L1607.6,702.7 L1609.1,699.5 L1610.6,701.5 L1612.1,700.8 L1613.6,697.7 L1615.2,701.5 L1616.7,702.3 L1618.2,700.2 L1619.7,703.2 L1621.2,694.1 L1622.7,697.6 L1624.2,699.3 L1625.8,696.5 L1627.3,694.3 L1628.8,699.1 L1630.3,697.1 L1631.8,695.0 L1633.3,692.3 L1634.8,701.2 L1636.4,696.2 L1637.9,692.9 L1639.4,693.4 L1640.9,693.7 L1642.4,699.9 L1643.9,693.7 L1645.5,693.7 L1647.0,691.7 L1648.5,695.1 L1650.0,692.9 L1651.5,693.8 L1653.0,697.8 L1654.5,700.3 L1656.1,699.6 L1657.6,691.3 L1659.1,693.4 L1660.6,698.4 L1662.1,690.8 L1663.6,691.2 L1665.2,694.1 L1666.7,693.4 L1668.2,696.9 L1669.7,697.0 L1671.2,694.3 L1672.7,691.6 L1674.2,690.9 L1675.8,691.1 L1677.3,689.0 L1678.8,694.7 L1680.3,690.2 L1681.8,696.9 L1683.3,695.3 L1684.8,689.0 L1686.4,692.4 L1687.9,693.9 L1689.4,688.3 L1690.9,691.9 L1692.4,687.7 L1693.9,694.5 L1695.5,687.6 L1697.0,692.9 L1698.5,697.2 L1700.0,696.3 L1700.0,696.2 L1698.5,697.2 L1696.9,695.2 L1695.4,699.1 L1693.8,698.5 L1692.3,691.9 L1690.8,699.6 L1689.2,694.1 L1687.7,696.8 L1686.2,697.4 L1684.6,697.8 L1683.1,699.3 L1681.5,697.7 L1680.0,699.4 L1678.5,694.5 L1676.9,698.9 L1675.4,699.8 L1673.8,698.6 L1672.3,704.1 L1670.8,701.0 L1669.2,707.7 L1667.7,702.1 L1666.2,708.9 L1664.6,705.3 L1663.1,703.4 L1661.5,711.2 L1660.0,709.4 L1658.5,709.7 L1657.0,710.2 L1655.5,707.4 L1654.0,710.4 L1652.5,710.1 L1651.0,706.3 L1649.5,714.3 L1648.0,708.0 L1646.5,713.5 L1645.0,710.4 L1643.5,708.4 L1642.0,710.8 L1640.5,706.5 L1639.0,713.4 L1637.5,710.7 L1636.0,711.0 L1634.5,712.6 L1633.0,708.7 L1631.5,707.6 L1630.0,707.6 L1628.5,712.0 L1627.0,713.6 L1625.5,711.9 L1624.0,709.5 L1622.5,712.6 L1621.0,714.6 L1619.5,713.8 L1618.0,713.8 L1616.5,708.4 L1615.0,710.0 L1613.5,713.9 L1612.0,708.9 L1610.5,708.0 L1609.0,713.2 L1607.5,709.9 L1606.0,706.6 L1604.5,709.6 L1603.0,705.6 L1601.5,707.9 L1600.0,715.2 L1598.5,714.1 L1597.0,707.1 L1595.5,709.5 L1594.0,706.0 L1592.5,707.8 L1591.0,710.6 L1589.5,716.1 L1588.0,710.5 L1586.5,715.1 L1585.0,717.2 L1583.5,713.4 L1582.0,717.6 L1580.5,716.5 L1579.0,718.0 L1577.5,715.3 L1576.0,715.6 L1574.5,708.3 L1573.0,712.2 L1571.5,709.9 L1570.0,718.4 L1568.5,712.1 L1566.9,720.3 L1565.4,717.9 L1563.8,721.4 L1562.3,718.0 L1560.8,716.5 L1559.2,723.1 L1557.7,722.6 L1556.2,723.2 L1554.6,717.3 L1553.1,720.1 L1551.5,724.1 L1550.0,726.5 L1548.5,722.0 L1546.9,722.2 L1545.4,723.4 L1543.8,724.0 L1542.3,728.9 L1540.8,726.1 L1539.2,723.1 L1537.7,721.0 L1536.2,722.0 L1534.6,722.7 L1533.1,724.7 L1531.5,730.6 L1530.0,725.6 L1528.5,723.8 L1526.9,724.0 L1525.4,728.0 L1523.8,725.8 L1522.3,726.9 L1520.8,727.3 L1519.2,723.8 L1517.7,719.8 L1516.2,722.2 L1514.6,725.1 L1513.1,723.5 L1511.5,721.5 L1510.0,724.6 L1508.5,720.6 L1506.9,725.5 L1505.4,721.2 L1503.8,720.7 L1502.3,719.4 L1500.8,719.6 L1499.2,711.9 L1497.7,714.8 L1496.2,717.5 L1494.6,714.3 L1493.1,712.9 L1491.5,714.2 L1490.0,707.0 L1488.5,705.8 L1486.9,708.6 L1485.4,705.3 L1483.8,706.0 L1482.3,702.1 L1480.8,700.9 L1479.2,703.6 L1477.7,701.4 L1476.2,701.3 L1474.6,696.2 L1473.1,703.2 L1471.5,702.5 L1470.0,700.3Z" fill="#2e8b57" fill-opacity="0.12" stroke="none"/>
<path d="M1414.8,690.5 L1415.5,691.1 L1416.3,692.4 L1417.0,693.7 L1417.8,691.6 L1418.5,691.7 L1419.3,692.3 L1420.0,694.5 L1420.7,692.4 L1421.5,695.0 L1422.2,694.9 L1423.0,693.1 L1423.7,695.0 L1424.5,694.9 L1425.2,695.0 L1425.9,697.6 L1426.7,694.3 L1427.4,694.2 L1428.2,698.2 L1428.9,696.3 L1429.6,695.2 L1430.4,695.5 L1431.1,695.4 L1431.9,697.5 L1432.6,694.2 L1433.3,694.0 L1434.1,695.2 L1434.8,694.8 L1435.6,696.2 L1436.3,695.5 L1437.1,693.3 L1437.8,692.4 L1438.5,694.7 L1439.3,695.0 L1440.0,690.9 L1440.8,693.5 L1441.5,693.8 L1442.2,693.0 L1442.9,691.3 L1443.6,693.7 L1444.4,693.4 L1445.1,691.4 L1445.8,693.2 L1446.5,691.6 L1447.2,690.9 L1447.9,692.2 L1448.6,692.2 L1449.4,692.5 L1450.1,693.6 L1450.8,694.4 L1451.5,694.9 L1452.2,695.1 L1452.9,695.2 L1453.6,694.4 L1454.4,692.6 L1455.1,692.1 L1455.8,693.9 L1456.5,693.7 L1457.3,694.4 L1458.1,692.3 L1458.9,693.0 L1459.7,696.1 L1460.4,695.1 L1461.2,695.7 L1462.0,693.5 L1462.8,695.0 L1463.5,698.8 L1464.3,699.6 L1465.0,702.8 L1465.7,701.4 L1466.4,704.2 L1467.2,707.4 L1467.9,707.8 L1468.7,711.2 L1469.5,712.3 L1470.2,712.6 L1471.0,714.5 L1471.8,720.1 L1472.5,718.7 L1473.3,721.0 L1474.1,723.6 L1474.8,725.5 L1475.5,726.4 L1476.2,725.2 L1476.9,725.7 L1477.6,727.2 L1478.3,725.5 L1479.0,726.2 L1479.7,727.5 L1480.4,727.9 L1481.2,725.1 L1481.9,725.0 L1482.7,724.6 L1483.4,726.5 L1484.2,726.0 L1485.0,726.7 L1485.7,725.4 L1486.5,722.9 L1487.2,724.5 L1488.0,724.9 L1488.7,721.1 L1489.5,718.5 L1490.2,718.8 L1490.9,717.1 L1491.7,715.5 L1492.4,713.7 L1493.2,715.3 L1494.0,719.5 L1494.8,717.5 L1495.6,721.0 L1496.4,720.6 L1497.2,721.8 L1498.0,725.6 L1498.7,723.9 L1499.5,723.9 L1500.2,725.4 L1500.9,726.7 L1501.7,726.5 L1502.4,728.2 L1503.1,726.8 L1503.9,727.7 L1504.6,728.9 L1505.3,728.3 L1506.1,729.8 L1506.8,729.2 L1507.6,728.6 L1508.4,729.4 L1509.2,732.8 L1509.9,733.4 L1510.7,735.0 L1511.5,734.8 L1512.3,735.1 L1513.1,734.3 L1513.8,737.1 L1514.5,734.3 L1515.2,735.6 L1515.9,734.6 L1516.6,735.7 L1517.3,735.5 L1518.0,736.0 L1518.7,737.3 L1519.4,736.7 L1520.1,735.6 L1520.8,737.9 L1521.5,737.8 L1522.2,738.3 L1522.9,735.2 L1523.6,737.6 L1524.3,738.9 L1525.0,736.4 L1525.7,736.3 L1526.4,738.8 L1527.1,737.0 L1527.8,737.2 L1528.6,738.9 L1529.3,737.3 L1530.0,736.6 L1530.7,736.7 L1531.4,737.2 L1532.1,738.7 L1532.8,737.4 L1533.6,739.1 L1534.3,736.3 L1535.0,737.1 L1535.7,738.6 L1536.5,736.9 L1537.3,735.9 L1538.1,736.5 L1538.8,732.8 L1539.6,731.3 L1540.4,729.6 L1541.2,730.3 L1542.0,728.5 L1542.7,727.9 L1543.4,724.8 L1544.1,723.5 L1544.9,723.8 L1545.6,724.0 L1546.3,721.0 L1547.0,722.2 L1547.7,721.7 L1548.4,721.9 L1549.1,724.3 L1549.9,723.0 L1550.6,725.4 L1551.3,727.3 L1552.0,727.0 L1552.7,724.8 L1553.5,722.7 L1554.2,723.3 L1554.9,720.5 L1555.6,720.0 L1556.4,719.4 L1557.1,719.8 L1557.9,719.3 L1558.7,719.3 L1559.4,721.2 L1560.2,719.6 L1561.0,720.6 L1561.7,720.4 L1562.4,718.6 L1563.1,715.9 L1563.8,715.3 L1564.5,715.7 L1565.2,712.0 L1565.9,712.5 L1566.7,710.2 L1567.5,714.1 L1568.3,713.4 L1569.1,712.2 L1569.8,715.2 L1570.6,714.8 L1571.4,712.1 L1572.2,713.2 L1572.9,715.3 L1573.6,718.4 L1574.3,716.0 L1575.1,716.7 L1575.8,718.9 L1576.5,718.9 L1577.2,721.4 L1577.9,721.4 L1578.7,720.5 L1579.4,718.8 L1580.1,717.8 L1580.9,720.4 L1581.6,718.4 L1582.3,718.0 L1583.1,717.5 L1583.8,717.8 L1584.5,718.2 L1585.3,717.3 L1586.0,716.4 L1586.8,714.4 L1587.5,713.2 L1588.2,712.4 L1589.0,714.9 L1589.8,711.2 L1590.5,712.8 L1591.2,713.6 L1592.0,710.8 L1592.8,710.6 L1593.5,710.2 L1594.2,712.0 L1595.0,710.7 L1595.8,711.1 L1596.5,707.7 L1597.2,710.2 L1598.0,708.8 L1598.8,708.4 L1599.5,709.8 L1600.2,709.2 L1601.0,709.6 L1601.8,709.0 L1602.5,709.6 L1603.3,707.7 L1604.0,708.2 L1604.8,709.1 L1605.6,707.8 L1606.3,706.5 L1607.1,708.3 L1607.8,709.5 L1608.6,709.5 L1609.3,706.4 L1610.0,707.3 L1610.7,706.6 L1611.4,706.9 L1612.2,709.3 L1612.9,707.0 L1613.6,706.5 L1614.3,706.2 L1615.0,706.8 L1615.7,707.2 L1616.4,705.4 L1617.1,704.2 L1617.9,703.9 L1618.6,703.5 L1619.3,705.6 L1620.0,702.2 L1620.7,704.0 L1621.4,700.9 L1622.1,703.1 L1622.9,700.6 L1623.6,702.1 L1624.3,700.2 L1625.0,698.3 L1625.7,698.2 L1626.4,700.9 L1627.1,699.7 L1627.8,699.3 L1628.5,698.7 L1629.2,699.9 L1629.9,698.9 L1630.7,697.0 L1631.4,699.1 L1632.1,697.8 L1632.8,699.7 L1633.5,698.4 L1634.2,699.1 L1634.9,696.4 L1635.6,698.6 L1636.3,698.0 L1637.0,698.9 L1637.7,698.8 L1638.4,697.4 L1639.1,697.4 L1639.8,697.9 L1640.5,695.8 L1641.2,696.7 L1641.9,697.5 L1642.7,696.6 L1643.4,696.3 L1644.1,697.4 L1644.8,697.7 L1645.5,694.7 L1646.2,693.8 L1646.9,695.8 L1647.6,693.8" fill="none" stroke="#0000ff" stroke-width="3.8" stroke-linejoin="round" stroke-linecap="butt" />
<path d="M1647.6,694.5 L1648.3,693.6 L1649.0,693.1 L1649.8,697.1 L1650.5,695.1 L1651.2,695.6 L1651.9,694.8 L1652.6,693.7 L1653.3,695.5 L1654.1,694.5 L1654.8,695.5 L1655.5,694.7 L1656.2,695.6 L1656.9,693.3 L1657.6,691.5 L1658.4,691.4 L1659.1,694.5 L1659.8,691.2 L1660.5,693.8 L1661.2,693.5 L1662.0,690.3 L1662.7,694.2 L1663.4,689.9 L1664.1,694.4 L1664.8,694.1 L1665.5,690.5 L1666.3,693.3 L1667.0,693.2 L1667.7,689.6 L1668.4,692.6 L1669.1,689.4 L1669.8,693.7 L1670.6,692.3 L1671.3,693.8 L1672.0,688.5 L1672.7,690.1 L1673.4,691.8 L1674.1,691.8 L1674.9,689.5 L1675.6,693.5 L1676.3,693.4 L1677.0,690.4 L1677.7,689.6 L1678.4,692.6 L1679.1,691.2 L1679.9,692.7 L1680.6,691.8 L1681.3,691.3 L1682.0,689.3 L1682.7,690.0 L1683.4,691.9 L1684.1,693.5 L1684.9,691.9 L1685.6,693.7 L1686.3,692.7 L1687.0,694.6 L1687.7,693.4 L1688.4,691.6 L1689.1,690.7 L1689.9,690.4 L1690.6,690.3 L1691.3,695.0 L1692.0,695.1 L1692.8,696.6 L1693.6,695.2 L1694.4,700.5 L1695.2,699.7 L1696.0,706.2 L1696.9,705.5 L1697.7,706.7 L1698.6,706.6 L1699.3,704.0 L1700.0,705.0 L1700.8,704.1 L1701.5,698.6 L1702.3,697.0 L1703.2,696.0 L1704.0,693.0 L1704.7,691.3 L1705.4,691.3 L1706.2,694.0 L1706.9,689.9 L1707.6,689.4 L1708.3,691.8 L1709.0,689.4 L1709.7,692.6 L1710.5,689.2 L1711.2,692.4 L1711.9,689.1 L1712.6,691.8 L1713.3,690.8 L1714.0,690.5 L1714.8,687.4 L1715.5,686.9 L1716.2,686.0 L1716.9,686.6 L1717.6,689.1 L1718.3,685.6 L1719.1,686.3 L1719.8,688.0 L1720.5,685.5 L1721.2,686.2 L1721.9,685.5 L1722.6,687.8 L1723.4,684.5 L1724.1,689.2 L1724.8,686.8 L1725.5,687.5 L1726.2,686.6 L1726.9,686.4 L1727.6,689.1 L1728.4,688.8 L1729.1,688.5 L1729.8,684.1 L1730.5,687.3 L1731.2,689.4 L1731.9,687.8 L1732.6,687.1 L1733.3,688.0 L1734.0,685.4 L1734.8,688.6 L1735.5,689.0 L1736.2,685.0 L1736.9,687.6 L1737.6,688.1 L1738.3,686.8 L1739.0,688.8 L1739.7,690.2 L1740.4,690.2 L1741.2,686.9 L1741.9,686.1 L1742.6,690.1 L1743.3,688.8 L1744.0,690.1 L1744.7,690.3 L1745.4,687.0 L1746.1,688.7 L1746.8,687.1 L1747.6,689.9 L1748.3,689.3 L1749.0,686.7 L1749.7,688.2 L1750.4,688.7 L1751.1,686.6 L1751.8,686.3 L1752.5,687.9 L1753.2,685.7 L1753.9,688.0 L1754.7,690.5 L1755.4,689.8 L1756.1,685.5 L1756.8,689.8 L1757.5,689.2 L1758.2,689.1 L1758.9,685.3 L1759.6,689.4 L1760.3,686.2 L1761.0,689.6 L1761.8,686.9 L1762.5,687.1 L1763.2,686.0 L1763.9,689.9 L1764.6,686.2 L1765.3,689.8 L1766.0,687.8 L1766.7,685.8 L1767.4,688.6 L1768.1,687.9 L1768.9,685.0 L1769.6,689.5 L1770.3,686.4 L1771.0,685.0 L1771.7,689.1 L1772.4,688.8 L1773.1,686.8 L1773.8,685.5 L1774.6,687.3 L1775.3,687.6 L1776.0,688.0 L1776.7,686.8 L1777.4,687.2 L1778.1,687.9 L1778.8,684.8 L1779.6,684.7 L1780.3,686.3 L1781.0,687.7 L1781.7,687.8 L1782.4,688.0 L1783.1,685.6 L1783.9,687.0 L1784.6,683.5 L1785.3,685.0 L1786.0,683.1 L1786.7,687.3 L1787.4,688.1 L1788.1,686.2 L1788.9,686.5 L1789.6,684.3 L1790.3,686.6 L1791.0,682.5 L1791.7,684.2 L1792.4,684.2 L1793.1,687.2 L1793.8,683.5 L1794.5,683.6 L1795.3,683.3 L1796.0,687.7 L1796.7,684.9 L1797.4,688.3 L1798.1,685.1 L1798.8,688.2 L1799.5,684.7 L1800.2,688.8 L1800.9,689.3 L1801.6,689.0 L1802.4,688.0 L1803.1,689.3 L1803.8,689.6 L1804.5,690.0 L1805.2,686.3 L1805.9,689.6 L1806.6,689.3 L1807.3,687.1 L1808.0,686.2 L1808.7,690.4 L1809.5,688.2 L1810.2,688.6 L1810.9,690.8 L1811.6,688.6 L1812.3,687.5 L1813.0,690.0 L1813.7,689.0 L1814.4,687.4 L1815.1,689.7 L1815.9,690.7 L1816.6,686.9 L1817.3,689.9 L1818.0,689.4 L1818.7,688.0 L1819.4,686.0 L1820.1,688.5 L1820.9,686.2 L1821.6,685.9 L1822.3,689.2 L1823.0,685.8 L1823.7,684.6 L1824.4,688.7 L1825.1,689.4 L1825.9,685.4 L1826.6,685.8 L1827.3,686.4 L1828.0,687.5 L1828.7,683.2 L1829.4,686.6 L1830.1,684.1 L1830.9,687.9 L1831.6,684.9 L1832.3,687.7 L1833.0,684.8 L1833.7,685.8 L1834.4,682.2 L1835.1,683.0 L1835.9,683.4 L1836.6,683.6 L1837.3,682.4 L1838.0,683.7 L1838.7,682.0 L1839.5,684.8 L1840.2,687.2 L1840.9,686.7 L1841.6,685.6 L1842.4,687.8 L1843.1,686.5 L1843.8,686.1 L1844.5,685.3 L1845.3,683.4 L1846.0,688.1 L1846.7,688.2 L1847.5,687.9 L1848.2,687.4 L1848.9,688.2 L1849.6,689.2 L1850.4,689.4 L1851.1,688.5 L1851.8,684.4 L1852.5,689.8 L1853.3,687.8 L1854.0,687.3 L1854.7,687.0 L1855.4,686.0 L1856.1,684.5 L1856.8,687.5 L1857.5,687.4 L1858.2,684.2 L1858.9,688.7 L1859.6,688.4 L1860.3,688.0 L1861.0,686.0 L1861.7,685.0 L1862.4,685.3 L1863.1,684.5 L1863.8,687.6 L1864.5,687.2 L1865.2,687.0 L1865.9,684.7 L1866.6,684.4 L1867.3,685.2 L1868.0,682.8 L1868.7,682.3 L1869.4,686.8 L1870.1,682.9 L1870.8,682.9 L1871.5,684.2 L1872.2,682.0 L1872.9,684.5 L1873.6,682.5 L1874.3,686.3 L1875.0,682.2 L1875.7,686.3 L1876.4,683.4 L1877.1,686.3 L1877.8,686.5 L1878.5,687.4 L1879.2,683.1 L1879.9,687.6 L1880.6,683.0 L1881.3,684.2 L1882.0,682.3 L1882.7,685.1 L1883.4,682.9 L1884.1,685.6 L1884.8,687.7 L1885.5,687.0 L1886.2,686.3 L1886.9,683.2 L1887.6,688.3 L1888.3,684.8 L1889.0,688.2 L1889.7,683.7 L1890.4,684.6 L1891.1,688.3 L1891.8,687.3 L1892.5,684.2 L1893.2,685.7 L1893.9,686.3 L1894.6,684.7 L1895.3,684.6 L1896.0,683.9 L1896.7,686.2 L1897.4,685.5 L1898.1,685.1 L1898.8,685.7 L1899.6,684.9 L1900.3,685.0 L1901.0,687.1 L1901.7,683.5 L1902.4,683.1 L1903.1,685.0 L1903.8,684.0 L1904.5,685.0 L1905.2,687.1 L1905.9,687.4 L1906.7,686.6 L1907.4,687.1 L1908.1,683.2 L1908.8,683.7 L1909.5,682.3 L1910.2,683.2 L1910.9,683.0 L1911.6,682.8 L1912.3,683.2 L1913.1,686.5 L1913.8,684.0 L1914.5,686.1 L1915.2,683.9 L1915.9,685.1 L1916.6,684.6 L1917.3,684.0 L1918.0,685.8 L1918.7,683.9 L1919.4,683.3 L1920.2,681.6 L1920.9,680.8 L1921.6,682.6 L1922.3,682.4 L1923.0,680.7 L1923.7,685.3 L1924.4,680.0 L1925.1,682.3 L1925.8,681.1 L1926.5,682.0 L1927.2,684.3 L1928.0,685.0 L1928.7,681.8 L1929.4,683.5 L1930.1,684.4 L1930.8,681.0 L1931.5,681.5 L1932.2,681.7 L1932.9,683.9 L1933.6,680.8 L1934.3,684.1 L1935.0,680.0 L1935.8,682.8 L1936.5,682.4 L1937.2,679.0 L1937.9,680.6 L1938.6,683.4 L1939.3,680.9 L1940.0,678.9 L1940.7,681.3 L1941.4,681.7 L1942.1,681.3 L1942.9,681.1 L1943.6,684.1 L1944.3,682.6 L1945.0,681.4 L1945.7,681.4 L1946.4,683.3 L1947.1,680.3 L1947.9,681.7 L1948.6,683.3 L1949.3,679.6 L1950.0,680.0 L1950.7,679.5 L1951.4,683.0 L1952.1,683.7 L1952.9,683.0 L1953.6,682.8 L1954.3,679.6 L1955.0,681.5 L1955.7,682.1 L1956.4,681.4 L1957.1,680.9 L1957.9,681.7 L1958.6,680.9 L1959.3,680.1 L1960.0,682.9 L1960.7,679.9 L1961.4,682.2 L1962.1,682.0 L1962.8,684.3 L1963.5,683.7 L1964.2,682.4 L1964.9,679.8 L1965.6,683.8 L1966.3,683.9 L1967.0,683.4 L1967.7,685.4 L1968.4,682.6 L1969.1,682.1 L1969.8,682.9 L1970.5,680.5 L1971.2,683.5 L1971.9,680.7 L1972.6,683.7 L1973.3,683.4 L1974.0,683.9 L1974.7,681.1 L1975.4,684.0 L1976.1,685.3 L1976.8,685.6 L1977.5,684.4 L1978.2,681.0 L1978.9,684.5 L1979.6,681.1 L1980.4,685.6 L1981.1,680.4 L1981.8,680.3 L1982.5,682.5 L1983.2,680.7 L1983.9,685.6 L1984.6,685.5 L1985.3,681.7 L1986.0,685.2 L1986.7,682.3 L1987.4,684.9 L1988.1,681.0 L1988.8,685.6 L1989.5,682.9 L1990.2,681.7 L1990.9,682.9 L1991.6,680.4 L1992.3,680.6 L1993.0,683.1 L1993.7,683.8 L1994.4,686.1 L1995.1,683.4 L1995.8,682.4 L1996.5,682.0 L1997.2,680.7 L1997.9,685.7 L1998.6,684.5 L1999.3,682.1 L2000.0,684.8 L2000.7,684.5 L2001.4,684.2 L2002.1,683.1 L2002.8,685.5 L2003.5,685.8 L2004.2,684.9 L2004.9,681.7 L2005.6,683.1 L2006.3,684.3 L2007.0,686.0 L2007.7,683.5 L2008.5,683.4 L2009.2,681.1 L2009.9,681.0 L2010.6,682.2 L2011.3,684.5 L2012.0,681.9 L2012.7,684.9 L2013.4,684.3 L2014.1,682.3 L2014.8,683.6 L2015.5,685.4 L2016.2,680.9 L2016.9,684.2 L2017.6,685.0 L2018.3,686.2 L2019.0,682.6 L2019.7,684.3 L2020.4,685.3 L2021.1,682.5 L2021.8,685.1 L2022.5,685.0 L2023.2,686.1 L2023.9,683.1 L2024.6,681.4 L2025.4,683.7 L2026.1,684.6 L2026.8,685.9 L2027.5,685.1 L2028.2,683.9 L2028.9,685.6 L2029.6,685.6 L2030.3,684.3 L2031.0,682.4 L2031.7,680.9 L2032.4,684.1 L2033.1,680.9 L2033.8,682.8 L2034.5,686.4 L2035.2,682.3 L2035.9,684.7 L2036.6,685.0 L2037.3,682.7 L2038.0,684.3 L2038.7,685.9 L2039.4,685.0 L2040.1,682.8 L2040.8,686.5 L2041.5,684.7 L2042.3,682.3 L2043.0,685.5 L2043.7,685.3 L2044.4,685.9 L2045.1,685.6 L2045.8,685.4 L2046.5,683.2 L2047.2,685.2 L2047.9,685.3 L2048.6,685.6 L2049.3,682.2 L2050.0,686.5 L2050.7,684.2 L2051.4,686.1 L2052.1,683.9 L2052.8,685.3 L2053.5,684.4 L2054.2,682.6 L2054.9,683.7 L2055.6,685.6 L2056.3,682.5 L2057.0,686.1 L2057.7,685.0 L2058.5,685.3 L2059.2,683.9 L2059.9,684.9 L2060.6,684.5 L2061.3,683.2 L2062.0,680.9 L2062.7,684.0 L2063.4,684.8 L2064.1,684.0 L2064.8,683.1 L2065.5,683.9 L2066.2,681.5 L2066.9,684.5 L2067.6,681.2 L2068.3,681.6 L2069.0,681.3 L2069.7,686.2 L2070.4,685.9 L2071.1,684.3 L2071.8,686.1 L2072.5,682.0 L2073.2,684.5 L2073.9,683.5 L2074.6,681.4 L2075.4,684.0 L2076.1,681.4 L2076.8,682.4 L2077.5,681.6 L2078.2,682.1 L2078.9,685.8 L2079.6,683.5 L2080.3,683.8 L2081.0,681.6 L2081.7,681.6 L2082.4,681.3 L2083.1,684.7 L2083.8,684.0 L2084.5,684.9 L2085.2,684.0 L2085.9,682.1 L2086.6,682.9 L2087.3,682.8 L2088.0,685.9 L2088.7,684.6 L2089.4,685.3 L2090.1,684.4 L2090.8,686.1 L2091.5,684.9 L2092.3,680.7 L2093.0,681.1 L2093.7,680.9 L2094.4,685.6 L2095.1,681.8 L2095.8,683.2 L2096.5,683.9 L2097.2,681.9 L2097.9,682.2 L2098.6,685.6 L2099.3,681.6 L2100.0,685.3 L2100.7,683.2 L2101.4,684.4 L2102.1,682.8 L2102.8,684.4 L2103.5,684.5 L2104.2,682.9 L2104.9,682.2 L2105.6,683.0 L2106.3,684.7 L2107.0,680.6 L2107.7,681.7 L2108.5,682.5 L2109.2,684.4 L2109.9,683.4 L2110.6,681.8 L2111.3,685.4 L2112.0,683.7 L2112.7,685.5 L2113.4,682.6 L2114.1,685.8 L2114.8,683.7 L2115.5,682.4 L2116.2,681.3 L2116.9,684.9 L2117.6,681.4 L2118.3,685.1 L2119.0,685.0 L2119.7,681.2 L2120.4,684.5 L2121.1,684.4 L2121.8,680.9 L2122.5,684.7 L2123.2,685.7 L2123.9,682.3 L2124.6,683.4 L2125.4,682.7 L2126.1,681.7 L2126.8,681.3 L2127.5,684.1 L2128.2,685.8 L2128.9,681.1 L2129.6,680.5 L2130.3,683.4 L2131.0,681.8 L2131.7,685.2 L2132.4,682.0 L2133.1,680.5 L2133.8,682.1 L2134.5,682.6 L2135.2,682.7 L2135.9,682.6 L2136.6,681.9 L2137.3,685.7 L2138.0,680.4 L2138.7,681.5 L2139.4,684.9 L2140.1,681.4 L2140.8,681.4 L2141.5,682.5 L2142.3,683.8 L2143.0,684.9 L2143.7,684.7 L2144.4,681.2 L2145.1,685.5 L2145.8,681.2 L2146.5,684.7 L2147.2,685.0 L2147.9,680.9 L2148.6,682.3 L2149.3,681.4 L2150.0,682.8 L2150.7,684.6 L2151.4,684.7 L2152.1,684.5 L2152.8,680.4 L2153.5,681.9 L2154.2,685.4 L2154.9,684.4 L2155.6,684.5 L2156.3,681.3 L2157.0,681.2 L2157.7,683.0 L2158.5,683.7 L2159.2,681.0 L2159.9,685.2 L2160.6,683.5 L2161.3,685.5 L2162.0,685.4 L2162.7,682.6 L2163.4,681.9 L2164.1,685.1 L2164.8,683.2 L2165.5,683.7 L2166.2,684.4 L2166.9,685.9 L2167.6,683.3 L2168.3,683.0 L2169.0,685.2 L2169.7,680.9 L2170.4,682.9 L2171.1,681.7 L2171.8,683.9 L2172.5,685.1 L2173.2,682.9 L2173.9,681.6 L2174.6,681.2 L2175.4,685.6 L2176.1,683.8 L2176.8,685.8 L2177.5,682.0 L2178.2,682.1 L2178.9,681.6 L2179.6,684.1 L2180.3,683.7 L2181.0,685.4 L2181.7,683.9 L2182.4,682.5 L2183.1,681.2 L2183.8,685.0 L2184.5,685.9 L2185.2,682.5 L2185.9,682.4 L2186.6,683.6 L2187.3,682.7 L2188.0,684.8 L2188.7,683.4 L2189.4,683.4 L2190.1,682.8 L2190.8,682.1 L2191.5,685.9 L2192.3,686.0 L2193.0,681.9 L2193.7,682.8 L2194.4,684.8 L2195.1,682.7 L2195.8,683.2 L2196.5,683.9 L2197.2,682.3 L2197.9,682.9 L2198.6,684.8 L2199.3,686.1 L2200.0,681.2 L2200.7,685.7 L2201.4,681.3 L2202.1,684.4 L2202.8,681.0 L2203.5,683.8 L2204.2,682.0 L2204.9,685.2 L2205.6,680.8 L2206.3,683.5 L2207.0,686.0 L2207.7,683.6 L2208.4,683.1 L2209.1,684.2 L2209.8,685.0 L2210.5,684.4 L2211.2,682.9 L2211.9,681.7 L2212.6,684.9 L2213.3,683.3 L2214.0,685.8 L2214.7,682.4 L2215.4,682.2 L2216.1,683.1 L2216.8,686.0 L2217.5,684.8 L2218.2,682.0 L2218.9,684.3 L2219.6,685.0 L2220.3,680.7 L2221.0,684.5 L2221.7,683.0 L2222.4,685.2 L2223.1,684.5 L2223.8,682.3 L2224.5,680.7 L2225.2,682.5 L2225.9,682.4 L2226.6,681.4 L2227.3,684.1" fill="none" stroke="#0000ff" stroke-width="2.9" stroke-linejoin="round" stroke-linecap="butt" />
<path d="M1414.8,688.5 L1415.7,689.5 L1416.6,690.2 L1417.5,694.8 L1418.5,691.5 L1419.4,693.2 L1420.3,688.2 L1421.2,691.4 L1422.1,694.0 L1423.0,691.3 L1424.0,694.6 L1424.9,694.0 L1425.8,689.9 L1426.7,686.8 L1427.6,692.8 L1428.5,687.7 L1429.5,686.6 L1430.4,692.3 L1431.3,693.1 L1432.2,693.0 L1433.1,693.8 L1434.0,687.7 L1435.0,686.7 L1435.9,686.9 L1436.8,693.7 L1437.7,686.7 L1438.6,687.2 L1439.6,686.1 L1440.5,686.4 L1441.4,686.4 L1442.3,689.0 L1443.3,687.6 L1444.2,688.8 L1445.1,693.9 L1446.1,687.8 L1447.0,693.1 L1447.9,692.6 L1448.9,691.3 L1449.8,691.4 L1450.7,693.1 L1451.6,691.7 L1452.6,688.9 L1453.5,689.8 L1454.4,689.2 L1455.4,690.5 L1456.3,695.3 L1457.2,690.8 L1458.2,688.1 L1459.1,691.4 L1460.0,694.2 L1460.9,691.3 L1461.9,693.4 L1462.8,688.6 L1463.7,688.6 L1464.6,693.6 L1465.5,688.8 L1466.4,691.0 L1467.3,691.9 L1468.2,690.5 L1469.1,689.4 L1470.0,689.4 L1470.9,697.1 L1471.8,695.2 L1472.7,697.5 L1473.6,694.0 L1474.5,697.9 L1475.4,697.3 L1476.4,696.0 L1477.3,696.0 L1478.3,696.5 L1479.3,694.9 L1480.2,696.8 L1481.2,700.2 L1482.2,696.7 L1483.2,702.6 L1484.1,700.6 L1485.1,702.0 L1486.1,704.4 L1487.0,703.7 L1488.0,700.3 L1489.0,701.7 L1489.9,700.2 L1490.9,700.9 L1491.8,708.8 L1492.8,706.4 L1493.8,709.9 L1494.7,708.8 L1495.7,705.6 L1496.7,711.3 L1497.6,711.4 L1498.6,708.2 L1499.5,705.7 L1500.5,708.0 L1501.4,706.9 L1502.3,708.5 L1503.2,706.3 L1504.1,711.5 L1505.0,713.6 L1505.9,707.6 L1506.8,712.2 L1507.7,710.7 L1508.6,709.9 L1509.5,713.4 L1510.4,709.2 L1511.3,712.8 L1512.2,706.6 L1513.1,714.1 L1514.0,707.9 L1514.9,706.5 L1515.8,713.6 L1516.7,712.4 L1517.6,712.1 L1518.5,712.9 L1519.4,709.8 L1520.3,707.7 L1521.3,709.3 L1522.2,714.3 L1523.2,714.5 L1524.1,708.5 L1525.0,710.1 L1526.0,710.2 L1526.9,713.8 L1527.9,706.5 L1528.8,713.1 L1529.7,708.4 L1530.7,710.8 L1531.6,707.4 L1532.6,707.0 L1533.5,713.3 L1534.4,710.3 L1535.4,714.0 L1536.3,713.1 L1537.3,712.2 L1538.2,706.7 L1539.2,711.0 L1540.1,714.3 L1541.1,710.6 L1542.1,707.2 L1543.0,708.3 L1544.0,714.9 L1545.0,714.9 L1546.0,709.2 L1546.9,710.0 L1547.9,713.3 L1548.9,711.8 L1549.8,709.3 L1550.8,715.9 L1551.7,712.7 L1552.6,710.4 L1553.5,707.4 L1554.4,711.0 L1555.3,712.7 L1556.2,707.8 L1557.1,706.8 L1558.0,711.7 L1558.9,713.0 L1559.8,708.4 L1560.7,708.9 L1561.6,709.9 L1562.5,708.7 L1563.4,705.3 L1564.3,706.4 L1565.3,705.8 L1566.2,705.6 L1567.1,704.6 L1568.0,707.0 L1569.0,705.5 L1569.9,710.4 L1570.8,706.1 L1571.8,711.2 L1572.7,709.9 L1573.6,705.4 L1574.6,704.4 L1575.5,707.7 L1576.4,706.8 L1577.3,707.2 L1578.3,703.8 L1579.2,707.0 L1580.1,708.7 L1581.1,706.1 L1582.0,704.5 L1582.9,709.7 L1583.9,704.6 L1584.8,710.1 L1585.7,707.6 L1586.6,702.0 L1587.6,705.5 L1588.5,703.0 L1589.5,707.9 L1590.4,704.8 L1591.4,701.9 L1592.3,708.6 L1593.3,707.2 L1594.3,705.5 L1595.2,705.0 L1596.2,700.9 L1597.2,707.9 L1598.1,702.3 L1599.1,703.9 L1600.0,703.4 L1601.0,703.1 L1602.0,698.7 L1602.9,704.9 L1603.8,700.9 L1604.8,699.3 L1605.8,702.2 L1606.7,701.5 L1607.6,699.5 L1608.6,700.3 L1609.5,697.2 L1610.4,696.6 L1611.3,699.9 L1612.2,703.3 L1613.1,706.2 L1614.0,707.2 L1614.9,706.5 L1615.9,706.4 L1616.8,707.0 L1617.8,706.4 L1618.7,702.1 L1619.6,706.5 L1620.6,704.4 L1621.5,702.9 L1622.4,707.4 L1623.4,709.3 L1624.3,705.0 L1625.3,708.2 L1626.2,708.0 L1627.1,708.3 L1628.0,709.7 L1629.0,708.2 L1629.9,703.2 L1630.8,707.4 L1631.7,705.1 L1632.6,705.5 L1633.6,707.5 L1634.5,703.4 L1635.4,706.9 L1636.3,709.3 L1637.2,702.3 L1638.2,708.3 L1639.1,707.1 L1640.0,704.5 L1640.9,707.5 L1641.8,702.1 L1642.7,702.8 L1643.7,709.6 L1644.6,706.7 L1645.5,703.2 L1646.4,702.9 L1647.3,705.6 L1648.2,706.5 L1649.1,710.1 L1650.0,703.7 L1651.0,707.4 L1651.9,706.0 L1652.8,707.0 L1653.7,710.1 L1654.6,703.6 L1655.5,709.5 L1656.4,708.7 L1657.3,705.1 L1658.3,704.0 L1659.2,709.1 L1660.1,710.0 L1661.0,706.1 L1662.0,703.4 L1663.0,705.7 L1664.0,705.7 L1665.0,702.2 L1666.0,701.6 L1667.0,698.1 L1668.0,697.4 L1669.1,696.9 L1670.2,700.0 L1671.3,693.7 L1672.4,693.1 L1673.3,695.1 L1674.2,692.9 L1675.2,693.0 L1676.1,696.8 L1677.0,692.6 L1677.9,695.1 L1678.9,691.1 L1679.8,694.4 L1680.7,695.7 L1681.6,693.5 L1682.5,691.3 L1683.5,689.9 L1684.4,691.7 L1685.3,692.6 L1686.2,690.0 L1687.2,692.4 L1688.1,692.9 L1689.0,689.2 L1689.9,693.9 L1690.8,696.2 L1691.7,694.1 L1692.6,692.0 L1693.5,695.0 L1694.4,695.9 L1695.3,695.8 L1696.2,695.8 L1697.1,694.2 L1698.0,695.6 L1699.0,694.1 L1699.9,690.5 L1700.8,688.9 L1701.7,691.7 L1702.6,693.3 L1703.5,689.8 L1704.4,690.4 L1705.3,688.2 L1706.2,687.8 L1707.1,689.4 L1708.0,694.1" fill="none" stroke="#5fa873" stroke-width="2.6" stroke-linejoin="round" stroke-linecap="butt" stroke-opacity="0.55"/>
<path d="M1708.0,690.5 L1708.9,691.0 L1709.9,690.4 L1710.8,691.0 L1711.7,691.5 L1712.6,691.7 L1713.6,690.6 L1714.5,690.9 L1715.4,690.4 L1716.3,692.2 L1717.3,690.7 L1718.2,692.4 L1719.1,690.1 L1720.1,689.9 L1721.0,691.1 L1721.9,691.1 L1722.8,692.0 L1723.8,692.3 L1724.7,691.3 L1725.6,690.7 L1726.5,691.9 L1727.5,691.2 L1728.4,690.6 L1729.3,690.8 L1730.3,689.9 L1731.2,691.9 L1732.1,690.0 L1733.0,690.4 L1734.0,691.6 L1734.9,691.6 L1735.8,691.6 L1736.7,691.7 L1737.7,692.1 L1738.6,692.5 L1739.5,692.6 L1740.5,691.0 L1741.4,691.0 L1742.3,690.4 L1743.3,691.3 L1744.2,690.6 L1745.1,692.7 L1746.0,692.3 L1747.0,690.8 L1747.9,692.1 L1748.8,692.2 L1749.8,690.5 L1750.7,692.6 L1751.6,692.4 L1752.6,691.7 L1753.5,693.0 L1754.4,690.7 L1755.3,690.5 L1756.3,692.5 L1757.2,692.4 L1758.1,690.6 L1759.1,692.3 L1760.0,692.3 L1760.9,691.7 L1761.8,691.0 L1762.7,693.0 L1763.6,693.2 L1764.6,692.3 L1765.5,691.4 L1766.4,692.3 L1767.3,692.6 L1768.2,692.3 L1769.1,693.1 L1770.0,691.5 L1770.9,693.4 L1771.8,692.9 L1772.8,691.3 L1773.7,691.2 L1774.6,693.2 L1775.5,692.0 L1776.4,693.6 L1777.3,693.7 L1778.2,691.9 L1779.1,693.2 L1780.0,691.8 L1780.9,692.6 L1781.9,691.7 L1782.8,693.5 L1783.7,691.6 L1784.6,693.8 L1785.5,692.3 L1786.4,692.2 L1787.3,691.6 L1788.2,692.1 L1789.2,691.8 L1790.1,692.3 L1791.0,694.5 L1791.9,693.6 L1792.8,692.2 L1793.8,692.2 L1794.7,693.3 L1795.6,694.5 L1796.5,693.4 L1797.4,693.2 L1798.3,694.1 L1799.2,692.7 L1800.2,692.9 L1801.1,694.0 L1802.0,694.9 L1802.9,693.9 L1803.8,693.5 L1804.8,694.3 L1805.7,695.1 L1806.6,693.5 L1807.5,693.4 L1808.4,694.4 L1809.3,694.1 L1810.2,693.6 L1811.2,693.9 L1812.1,695.7 L1813.0,694.0 L1813.9,694.4 L1814.8,696.1 L1815.7,694.5 L1816.6,696.1 L1817.5,695.9 L1818.4,694.9 L1819.3,694.9 L1820.2,693.6 L1821.1,694.7 L1822.0,695.1 L1822.9,696.4 L1823.8,693.9 L1824.7,696.0 L1825.6,696.4 L1826.5,696.2 L1827.4,695.2 L1828.3,695.7 L1829.2,694.8 L1830.1,693.9 L1831.0,695.0 L1832.0,696.0 L1832.9,694.2 L1833.8,695.3 L1834.7,694.2 L1835.6,694.4 L1836.5,696.4 L1837.4,694.2 L1838.3,695.8 L1839.2,694.9 L1840.1,694.9 L1841.0,696.8 L1841.9,695.4 L1842.8,695.8 L1843.7,696.7 L1844.6,696.1 L1845.5,694.6 L1846.4,695.2 L1847.3,696.6 L1848.2,695.2 L1849.1,694.7 L1850.0,695.2 L1850.9,695.2 L1851.8,695.8 L1852.7,694.9 L1853.6,696.8 L1854.5,697.3 L1855.4,695.1 L1856.3,696.0 L1857.2,695.2 L1858.1,696.4 L1859.0,695.4 L1859.9,694.6 L1860.8,694.7 L1861.7,694.7 L1862.6,695.5 L1863.5,696.7 L1864.4,696.1 L1865.3,695.8 L1866.2,695.2 L1867.1,697.2 L1868.0,697.4 L1868.9,695.2 L1869.8,695.9 L1870.7,696.1 L1871.6,695.9 L1872.5,695.2 L1873.5,697.1 L1874.4,696.6 L1875.3,695.0 L1876.2,695.1 L1877.1,697.0 L1878.0,696.3 L1878.9,696.1 L1879.8,697.5 L1880.7,695.2 L1881.6,697.9 L1882.5,697.7 L1883.4,696.6 L1884.3,696.4 L1885.2,695.6 L1886.1,697.1 L1887.0,696.8 L1887.9,696.3 L1888.8,697.2 L1889.7,695.6 L1890.6,696.4 L1891.5,698.1 L1892.4,695.9 L1893.3,698.2 L1894.2,696.4 L1895.1,697.6 L1896.0,697.9 L1896.9,695.8 L1897.8,698.1 L1898.8,696.0 L1899.7,696.2 L1900.6,696.8 L1901.5,696.8 L1902.4,698.1 L1903.3,695.9 L1904.2,697.2 L1905.2,695.7 L1906.1,695.7 L1907.0,696.0 L1907.9,697.2 L1908.8,696.4 L1909.8,697.9 L1910.7,696.7 L1911.6,697.7 L1912.5,695.7 L1913.4,696.4 L1914.3,697.5 L1915.2,698.1 L1916.2,695.6 L1917.1,696.8 L1918.0,697.3 L1918.9,697.7 L1919.8,697.5 L1920.8,696.5 L1921.7,697.6 L1922.6,697.2 L1923.5,696.3 L1924.4,696.2 L1925.3,695.5 L1926.2,696.1 L1927.2,695.8 L1928.1,697.8 L1929.0,696.8 L1929.9,697.5 L1930.8,697.7 L1931.8,697.3 L1932.7,695.4 L1933.6,697.1 L1934.5,696.2 L1935.4,696.0 L1936.3,696.1 L1937.2,695.4 L1938.2,697.8 L1939.1,695.5 L1940.0,695.8 L1940.9,697.9 L1941.8,697.8 L1942.7,696.6 L1943.6,695.9 L1944.5,697.7 L1945.5,695.3 L1946.4,696.7 L1947.3,695.3 L1948.2,697.6 L1949.1,697.2 L1950.0,696.0 L1950.9,695.2 L1951.8,695.5 L1952.7,696.1 L1953.6,696.0 L1954.5,697.6 L1955.5,697.4 L1956.4,695.7 L1957.3,698.0 L1958.2,696.9 L1959.1,696.2 L1960.0,696.6 L1960.9,695.3 L1961.8,695.3 L1962.7,696.6 L1963.6,697.4 L1964.5,697.9 L1965.5,695.2 L1966.4,696.4 L1967.3,696.7 L1968.2,696.0 L1969.1,695.8 L1970.0,695.2 L1970.9,697.6 L1971.8,695.9 L1972.7,697.7 L1973.6,697.1 L1974.5,698.0 L1975.5,696.9 L1976.4,697.4 L1977.3,696.8 L1978.2,695.4 L1979.1,697.2 L1980.0,697.5 L1980.9,697.7 L1981.8,696.2 L1982.7,696.8 L1983.6,697.6 L1984.5,695.6 L1985.5,696.9 L1986.4,695.3 L1987.3,696.7 L1988.2,697.4 L1989.1,696.2 L1990.0,695.4 L1990.9,695.8 L1991.8,697.5 L1992.7,697.9 L1993.6,696.7 L1994.5,697.3 L1995.5,696.9 L1996.4,697.8 L1997.3,697.3 L1998.2,697.5 L1999.1,695.5 L2000.0,697.7 L2000.9,696.0 L2001.8,696.7 L2002.7,695.8 L2003.6,695.9 L2004.5,696.7 L2005.4,697.3 L2006.3,697.1 L2007.2,697.4 L2008.1,696.9 L2009.0,696.4 L2009.9,695.8 L2010.8,695.9 L2011.7,695.9 L2012.6,696.7 L2013.5,695.8 L2014.4,697.0 L2015.3,697.2 L2016.2,697.8 L2017.1,695.5 L2018.0,697.8 L2018.9,695.7 L2019.8,696.6 L2020.7,697.4 L2021.6,695.5 L2022.5,697.7 L2023.4,696.1 L2024.3,696.7 L2025.2,696.5 L2026.1,695.4 L2027.0,696.3 L2027.9,695.9 L2028.8,696.6 L2029.7,697.9 L2030.6,695.4 L2031.5,696.2 L2032.4,696.7 L2033.3,697.8 L2034.2,695.3 L2035.1,696.4 L2036.0,697.7 L2036.9,697.5 L2037.8,695.2 L2038.7,696.1 L2039.6,695.9 L2040.5,695.9 L2041.4,696.0 L2042.3,695.8 L2043.2,697.0 L2044.1,697.5 L2045.0,695.8 L2045.9,695.6 L2046.8,695.7 L2047.7,697.3 L2048.6,697.6 L2049.5,696.7 L2050.5,697.2 L2051.4,695.5 L2052.3,697.2 L2053.2,697.9 L2054.1,696.5 L2055.0,695.2 L2055.9,695.5 L2056.8,695.9 L2057.7,696.5 L2058.6,696.9 L2059.5,697.9 L2060.4,695.3 L2061.3,696.3 L2062.2,697.3 L2063.1,697.0 L2064.0,697.1 L2064.9,695.4 L2065.8,696.2 L2066.7,695.7 L2067.6,697.0 L2068.5,695.8 L2069.4,697.4 L2070.3,695.3 L2071.2,697.6 L2072.1,696.2 L2073.0,695.3 L2073.9,697.3 L2074.8,696.5 L2075.7,695.6 L2076.6,697.4 L2077.5,696.7 L2078.4,697.5 L2079.3,696.4 L2080.2,696.1 L2081.1,697.4 L2082.0,696.1 L2082.9,697.2 L2083.8,696.7 L2084.7,695.4 L2085.6,696.5 L2086.5,695.7 L2087.4,695.6 L2088.3,697.3 L2089.2,697.4 L2090.1,697.6 L2091.0,696.0 L2091.9,695.9 L2092.8,697.8 L2093.7,696.1 L2094.6,695.5 L2095.5,695.9 L2096.4,695.6 L2097.3,697.2 L2098.2,697.8 L2099.1,697.6 L2100.0,696.5 L2100.9,695.9 L2101.8,696.7 L2102.7,696.2 L2103.6,695.8 L2104.5,697.0 L2105.4,697.7 L2106.3,696.7 L2107.2,696.1 L2108.1,696.4 L2109.0,695.4 L2109.9,697.2 L2110.8,697.1 L2111.7,697.7 L2112.6,697.3 L2113.5,695.7 L2114.4,696.4 L2115.3,696.2 L2116.3,696.1 L2117.2,697.4 L2118.1,696.3 L2119.0,696.9 L2119.9,695.7 L2120.8,697.0 L2121.7,697.5 L2122.6,697.0 L2123.5,696.2 L2124.4,696.7 L2125.3,695.9 L2126.2,696.4 L2127.1,697.9 L2128.0,696.4 L2128.9,697.9 L2129.8,695.3 L2130.7,696.9 L2131.6,697.0 L2132.5,695.4 L2133.4,695.4 L2134.3,698.0 L2135.2,696.0 L2136.1,695.6 L2137.0,696.1 L2137.9,696.3 L2138.8,696.4 L2139.7,698.0 L2140.6,696.4 L2141.5,695.9 L2142.4,696.9 L2143.3,696.3 L2144.2,697.3 L2145.1,696.3 L2146.0,696.1 L2146.9,696.0 L2147.9,696.5 L2148.8,696.2 L2149.7,696.6 L2150.6,697.8 L2151.5,697.6 L2152.4,696.2 L2153.3,696.7 L2154.2,697.6 L2155.1,695.9 L2156.0,697.0 L2156.9,695.2 L2157.8,697.3 L2158.7,695.6 L2159.6,696.3 L2160.5,696.4 L2161.4,697.4 L2162.3,696.1 L2163.2,696.5 L2164.1,696.0 L2165.0,697.1 L2165.9,695.8 L2166.8,697.9 L2167.7,696.3 L2168.6,696.8 L2169.5,696.7 L2170.4,695.2 L2171.3,695.6 L2172.2,695.5 L2173.1,697.1 L2174.0,695.9 L2174.9,696.3 L2175.8,695.2 L2176.7,696.6 L2177.6,695.9 L2178.5,696.3 L2179.4,697.6 L2180.4,697.6 L2181.3,695.4 L2182.2,696.8 L2183.1,695.3 L2184.0,698.0 L2184.9,697.3 L2185.8,695.3 L2186.7,696.3 L2187.6,697.3 L2188.5,695.9 L2189.4,697.9 L2190.3,695.5 L2191.2,697.8 L2192.1,695.7 L2193.0,697.1 L2193.9,696.0 L2194.8,696.2 L2195.7,695.4 L2196.6,697.1 L2197.5,697.4 L2198.4,695.2 L2199.3,695.5 L2200.2,695.5 L2201.1,695.8 L2202.0,697.6 L2202.9,695.7 L2203.8,696.6 L2204.7,696.1 L2205.6,697.7 L2206.5,697.1 L2207.4,696.5 L2208.3,697.8 L2209.2,696.5 L2210.1,696.9 L2211.0,695.3 L2212.0,695.3 L2212.9,695.3 L2213.8,696.4 L2214.7,696.9 L2215.6,695.5 L2216.5,695.4 L2217.4,697.5 L2218.3,697.7 L2219.2,695.3 L2220.1,696.4 L2221.0,697.0 L2221.9,695.5 L2222.8,697.5 L2223.7,696.3 L2224.6,697.5 L2225.5,696.5 L2226.4,697.4 L2227.3,697.7" fill="none" stroke="#5fa873" stroke-width="3.4" stroke-linejoin="round" stroke-linecap="butt" stroke-opacity="0.6" stroke-dasharray="5 2 3 1.5 7 2.5"/>
<path d="M1414.8,691.9 L1415.5,692.2 L1416.2,693.0 L1416.9,690.3 L1417.7,692.1 L1418.4,693.1 L1419.1,693.2 L1419.8,689.6 L1420.5,691.8 L1421.2,691.6 L1422.0,691.0 L1422.7,693.1 L1423.4,690.9 L1424.1,690.5 L1424.8,692.8 L1425.5,691.3 L1426.2,689.6 L1427.0,689.6 L1427.7,690.4 L1428.4,688.2 L1429.1,690.8 L1429.8,691.4 L1430.5,689.8 L1431.3,691.8 L1432.0,692.1 L1432.7,690.2 L1433.4,690.8 L1434.1,688.0 L1434.8,687.6 L1435.6,692.0 L1436.3,688.6 L1437.0,688.2 L1437.7,691.4 L1438.4,690.8 L1439.1,687.8 L1439.9,688.8 L1440.6,688.5 L1441.3,688.7 L1442.0,687.5 L1442.7,690.0 L1443.4,689.0 L1444.2,689.5 L1444.9,688.6 L1445.6,688.3 L1446.3,688.0 L1447.0,692.1 L1447.7,691.5 L1448.5,690.7 L1449.2,688.7 L1449.9,688.8 L1450.6,688.8 L1451.3,689.8 L1452.0,688.6 L1452.8,689.7 L1453.5,689.4 L1454.2,689.4 L1454.9,691.7 L1455.6,690.8 L1456.3,690.9 L1457.1,690.4 L1457.8,691.4 L1458.5,692.6 L1459.2,690.4 L1459.9,689.3 L1460.6,691.3 L1461.4,690.9 L1462.1,692.9 L1462.8,689.7 L1463.5,693.5 L1464.2,689.5 L1464.9,692.2 L1465.6,691.9 L1466.3,691.4 L1467.0,694.3 L1467.7,693.5 L1468.4,691.1 L1469.1,692.8 L1469.8,693.5 L1470.5,690.9 L1471.2,691.3 L1471.9,693.9 L1472.6,694.6 L1473.3,693.5 L1474.0,693.4 L1474.7,694.0 L1475.4,693.0 L1476.1,696.4 L1476.9,697.4 L1477.6,695.6 L1478.4,693.9 L1479.1,696.2 L1479.8,698.7 L1480.6,696.9 L1481.3,696.3 L1482.1,697.2 L1482.8,700.3 L1483.6,700.4 L1484.3,699.3 L1485.0,701.4 L1485.8,702.6 L1486.5,704.1 L1487.3,704.0 L1488.0,702.6 L1488.7,704.8 L1489.5,705.7 L1490.2,705.8 L1490.9,705.6 L1491.7,705.2 L1492.4,705.2 L1493.1,707.2 L1493.9,706.5 L1494.6,707.3 L1495.4,705.3 L1496.1,705.0 L1496.8,706.2 L1497.6,708.1 L1498.3,708.4 L1499.0,707.0 L1499.8,707.3 L1500.5,711.4 L1501.2,707.2 L1501.9,711.3 L1502.6,710.7 L1503.3,709.7 L1504.0,711.8 L1504.7,710.4 L1505.4,707.2 L1506.1,711.7 L1506.8,709.2 L1507.5,711.7 L1508.2,711.2 L1508.9,708.0 L1509.6,707.6 L1510.3,707.6 L1511.0,711.3 L1511.7,711.4 L1512.4,708.7 L1513.1,708.2 L1513.8,709.5 L1514.5,711.6 L1515.2,711.4 L1515.9,712.0 L1516.6,712.6 L1517.3,711.6 L1518.0,712.0 L1518.7,708.1 L1519.4,708.1 L1520.1,712.2 L1520.8,711.0 L1521.6,709.6 L1522.3,708.6 L1523.0,709.6 L1523.7,709.6 L1524.5,710.3 L1525.2,710.0 L1525.9,708.8 L1526.6,708.2 L1527.4,708.8 L1528.1,708.4 L1528.8,708.2 L1529.5,709.7 L1530.2,708.3 L1531.0,711.5 L1531.7,710.3 L1532.4,709.8 L1533.1,710.7 L1533.9,708.7 L1534.6,707.6 L1535.3,707.9 L1536.0,709.1 L1536.8,709.2 L1537.5,708.6 L1538.2,708.9 L1538.9,711.5 L1539.7,707.7 L1540.4,709.9 L1541.2,709.7 L1541.9,709.3 L1542.6,711.5 L1543.4,709.3 L1544.1,708.5 L1544.9,709.2 L1545.6,713.2 L1546.4,710.3 L1547.1,709.3 L1547.8,713.5 L1548.6,712.1 L1549.3,713.7 L1550.1,710.8 L1550.8,713.2 L1551.5,709.3 L1552.2,710.0 L1552.9,712.5 L1553.6,711.0 L1554.3,712.1 L1555.0,709.9 L1555.7,712.1 L1556.4,708.0 L1557.1,710.4 L1557.8,708.1 L1558.5,708.0 L1559.2,711.1 L1559.9,708.7 L1560.6,710.3 L1561.3,707.6 L1562.0,709.5 L1562.7,710.2 L1563.4,708.6 L1564.1,706.7 L1564.8,708.7 L1565.6,709.9 L1566.3,709.2 L1567.0,707.4 L1567.7,707.1 L1568.4,705.6 L1569.1,708.7 L1569.9,705.7 L1570.6,705.9 L1571.3,705.0 L1572.0,705.5 L1572.7,706.5 L1573.4,706.9 L1574.2,705.4 L1574.9,706.5 L1575.6,708.0 L1576.3,704.8 L1577.0,704.9 L1577.7,706.7 L1578.5,708.4 L1579.2,708.4 L1579.9,706.7 L1580.6,704.3 L1581.3,708.0 L1582.0,708.5 L1582.8,708.0 L1583.5,706.1 L1584.2,705.4 L1584.9,706.3 L1585.6,707.2 L1586.3,708.1 L1587.1,705.6 L1587.8,705.6 L1588.5,704.6 L1589.2,705.5 L1590.0,705.4 L1590.7,704.0 L1591.4,704.7 L1592.2,706.8 L1592.9,703.4 L1593.6,703.3 L1594.4,703.4 L1595.1,705.9 L1595.9,703.1 L1596.6,705.5 L1597.3,705.8 L1598.1,705.4 L1598.8,704.9 L1599.5,701.8 L1600.3,702.9 L1601.0,704.6 L1601.8,701.1 L1602.5,702.2 L1603.3,702.9 L1604.0,702.6 L1604.8,699.1 L1605.6,697.4 L1606.3,696.3 L1607.1,697.1 L1607.8,697.6 L1608.6,695.6 L1609.4,699.4 L1610.1,699.8 L1610.9,700.8 L1611.7,703.0 L1612.5,701.8 L1613.2,704.5 L1614.0,704.3 L1614.7,704.1 L1615.4,703.4 L1616.2,706.7 L1616.9,707.3 L1617.6,703.2 L1618.3,706.6 L1619.0,703.6 L1619.7,705.4 L1620.5,705.0 L1621.2,707.9 L1621.9,705.8 L1622.6,706.3 L1623.3,705.6 L1624.0,705.2 L1624.8,705.3 L1625.5,704.5 L1626.2,704.4 L1626.9,706.9 L1627.7,707.7 L1628.4,707.3 L1629.1,705.2 L1629.8,708.6 L1630.6,704.1 L1631.3,705.7 L1632.0,705.2 L1632.7,704.4 L1633.5,708.0 L1634.2,706.7 L1634.9,703.9 L1635.6,704.0 L1636.4,706.9 L1637.1,704.7 L1637.8,704.3 L1638.5,704.2 L1639.3,704.3 L1640.0,705.4 L1640.7,704.2 L1641.4,705.6 L1642.1,703.1 L1642.8,705.4 L1643.5,705.7 L1644.2,704.5 L1644.9,707.2 L1645.6,707.6 L1646.3,706.4 L1647.0,705.2 L1647.7,704.1 L1648.4,706.4 L1649.1,704.9 L1649.8,704.3 L1650.5,706.2 L1651.2,704.6 L1651.9,706.8 L1652.6,707.4 L1653.3,703.9 L1654.0,707.0 L1654.7,704.9 L1655.4,705.7 L1656.1,707.6 L1656.8,708.8 L1657.5,705.8 L1658.2,708.0 L1658.9,706.1 L1659.6,709.0 L1660.3,705.4 L1661.0,707.8 L1661.7,704.3 L1662.4,705.9 L1663.1,706.1 L1663.8,706.2 L1664.5,704.8 L1665.2,703.0 L1665.9,701.6 L1666.6,702.0 L1667.3,701.4 L1668.0,700.5 L1668.7,700.2 L1669.5,699.6 L1670.2,699.7 L1670.9,697.4 L1671.7,697.8 L1672.4,696.4 L1673.1,694.5 L1673.8,696.4 L1674.6,694.2 L1675.3,696.3 L1676.0,696.4 L1676.7,696.4 L1677.5,696.3 L1678.2,695.1 L1678.9,694.1 L1679.6,693.0 L1680.3,694.5 L1681.1,695.6 L1681.8,692.9 L1682.5,692.1 L1683.2,694.6 L1683.9,695.2 L1684.7,691.7 L1685.4,691.3 L1686.1,691.0 L1686.8,693.0 L1687.6,694.2 L1688.3,691.3 L1689.0,693.8" fill="none" stroke="#808080" stroke-width="3.6" stroke-linejoin="round" stroke-linecap="butt" />
<path d="M1689.0,692.4 L1689.9,692.5 L1690.8,692.8 L1691.7,692.8 L1692.6,692.7 L1693.5,691.9 L1694.4,692.7 L1695.3,691.8 L1696.2,691.6 L1697.1,691.2 L1698.0,691.8 L1699.0,691.1 L1699.9,691.2 L1700.8,691.7 L1701.7,691.9 L1702.6,691.8 L1703.5,690.7 L1704.4,690.6 L1705.3,690.8 L1706.2,691.2 L1707.1,691.6 L1708.0,691.5 L1708.9,691.7 L1709.9,691.1 L1710.8,691.2 L1711.7,690.7 L1712.6,690.7 L1713.6,690.5 L1714.5,691.1 L1715.4,691.2 L1716.3,691.1 L1717.3,690.8 L1718.2,690.9 L1719.1,690.6 L1720.1,691.5 L1721.0,691.1 L1721.9,691.4 L1722.8,691.5 L1723.8,690.6 L1724.7,690.4 L1725.6,690.7 L1726.5,691.7 L1727.5,691.5 L1728.4,690.8 L1729.3,691.4 L1730.3,690.7 L1731.2,691.6 L1732.1,690.3 L1733.0,691.4 L1734.0,691.8 L1734.9,690.9 L1735.8,690.9 L1736.7,690.4 L1737.7,690.6 L1738.6,690.6 L1739.5,690.7 L1740.5,690.4 L1741.4,690.8 L1742.3,690.5 L1743.3,691.2 L1744.2,691.0 L1745.1,690.8 L1746.0,692.0 L1747.0,691.0 L1747.9,691.4 L1748.8,692.0 L1749.8,691.8 L1750.7,692.1 L1751.6,691.6 L1752.6,692.0 L1753.5,690.8 L1754.4,691.9 L1755.3,691.3 L1756.3,691.3 L1757.2,692.0 L1758.1,692.0 L1759.1,691.4 L1760.0,691.5 L1760.9,691.4 L1761.8,692.4 L1762.7,692.0 L1763.6,691.4 L1764.6,691.9 L1765.5,691.1 L1766.4,691.5 L1767.3,691.9 L1768.2,692.7 L1769.1,692.5 L1770.0,692.1 L1770.9,692.4 L1771.8,691.6 L1772.8,692.4 L1773.7,692.9 L1774.6,691.5 L1775.5,692.8 L1776.4,692.9 L1777.3,692.0 L1778.2,692.7 L1779.1,693.0 L1780.0,691.7 L1780.9,692.2 L1781.9,692.5 L1782.8,692.8 L1783.7,692.0 L1784.6,692.8 L1785.5,692.7 L1786.4,693.0 L1787.3,692.9 L1788.2,693.2 L1789.2,692.8 L1790.1,692.8 L1791.0,692.8 L1791.9,692.7 L1792.8,692.9 L1793.8,693.0 L1794.7,692.9 L1795.6,692.6 L1796.5,693.1 L1797.4,694.0 L1798.3,693.1 L1799.2,694.2 L1800.2,694.1 L1801.1,693.5 L1802.0,693.2 L1802.9,694.3 L1803.8,694.5 L1804.8,693.6 L1805.7,694.2 L1806.6,694.4 L1807.5,694.3 L1808.4,693.5 L1809.3,693.8 L1810.2,694.6 L1811.2,694.6 L1812.1,694.7 L1813.0,694.1 L1813.9,695.1 L1814.8,695.0 L1815.7,694.5 L1816.6,695.2 L1817.5,694.3 L1818.4,694.7 L1819.3,694.7 L1820.2,695.4 L1821.1,695.4 L1822.0,694.5 L1822.9,695.2 L1823.8,694.5 L1824.7,695.4 L1825.6,695.5 L1826.5,695.2 L1827.4,694.1 L1828.3,694.6 L1829.2,694.4 L1830.1,695.0 L1831.0,694.2 L1832.0,694.3 L1832.9,694.4 L1833.8,695.6 L1834.7,695.2 L1835.6,695.7 L1836.5,695.8 L1837.4,695.3 L1838.3,695.7 L1839.2,695.1 L1840.1,695.4 L1841.0,694.7 L1841.9,695.2 L1842.8,694.7 L1843.7,695.3 L1844.6,696.1 L1845.5,696.2 L1846.4,695.8 L1847.3,694.7 L1848.2,696.2 L1849.1,695.5 L1850.0,695.8 L1850.9,695.4 L1851.8,696.0 L1852.7,695.3 L1853.6,695.0 L1854.5,695.5 L1855.4,695.1 L1856.3,695.2 L1857.2,695.2 L1858.1,696.0 L1859.0,696.0 L1859.9,695.3 L1860.8,696.1 L1861.7,695.0 L1862.6,696.5 L1863.5,695.4 L1864.4,695.9 L1865.3,695.7 L1866.2,696.5 L1867.1,695.8 L1868.0,695.4 L1868.9,696.5 L1869.8,696.1 L1870.7,695.6 L1871.6,696.4 L1872.5,696.7 L1873.5,696.5 L1874.4,696.6 L1875.3,695.9 L1876.2,695.7 L1877.1,695.4 L1878.0,696.8 L1878.9,695.8 L1879.8,696.0 L1880.7,696.7 L1881.6,695.6 L1882.5,697.0 L1883.4,696.4 L1884.3,695.8 L1885.2,696.8 L1886.1,696.6 L1887.0,695.7 L1887.9,696.4 L1888.8,696.8 L1889.7,696.1 L1890.6,696.2 L1891.5,697.1 L1892.4,695.9 L1893.3,696.1 L1894.2,696.0 L1895.1,696.6 L1896.0,696.5 L1896.9,696.2 L1897.8,695.9 L1898.8,696.0 L1899.7,697.0 L1900.6,696.7 L1901.5,697.0 L1902.4,695.9 L1903.3,697.3 L1904.2,696.8 L1905.2,696.7 L1906.1,697.1 L1907.0,695.8 L1907.9,696.7 L1908.8,696.2 L1909.8,695.8 L1910.7,696.9 L1911.6,695.7 L1912.5,696.9 L1913.4,696.1 L1914.3,697.0 L1915.2,695.8 L1916.2,696.4 L1917.1,697.2 L1918.0,696.5 L1918.9,696.6 L1919.8,696.5 L1920.8,696.6 L1921.7,696.3 L1922.6,696.0 L1923.5,696.1 L1924.4,696.9 L1925.3,696.1 L1926.2,696.7 L1927.2,697.1 L1928.1,697.1 L1929.0,696.9 L1929.9,697.0 L1930.8,696.6 L1931.8,696.4 L1932.7,695.7 L1933.6,695.7 L1934.5,696.0 L1935.4,696.3 L1936.3,696.3 L1937.2,695.5 L1938.2,696.4 L1939.1,696.1 L1940.0,696.1 L1940.9,695.6 L1941.8,696.7 L1942.7,696.8 L1943.6,696.7 L1944.5,695.7 L1945.5,695.5 L1946.4,697.0 L1947.3,696.5 L1948.2,697.0 L1949.1,696.2 L1950.0,696.8 L1950.9,695.7 L1951.8,695.6 L1952.7,696.6 L1953.6,696.6 L1954.5,696.1 L1955.5,696.4 L1956.4,696.5 L1957.3,695.9 L1958.2,695.5 L1959.1,696.2 L1960.0,695.9 L1960.9,697.0 L1961.8,695.8 L1962.7,696.3 L1963.6,695.9 L1964.5,696.2 L1965.5,695.8 L1966.4,695.9 L1967.3,696.7 L1968.2,696.7 L1969.1,696.6 L1970.0,697.1 L1970.9,697.0 L1971.8,696.3 L1972.7,696.9 L1973.6,696.6 L1974.5,696.7 L1975.5,695.9 L1976.4,697.0 L1977.3,696.6 L1978.2,695.7 L1979.1,695.5 L1980.0,696.1 L1980.9,696.5 L1981.8,696.0 L1982.7,696.1 L1983.6,696.7 L1984.5,695.9 L1985.5,695.6 L1986.4,696.2 L1987.3,696.1 L1988.2,696.5 L1989.1,695.7 L1990.0,696.9 L1990.9,697.1 L1991.8,696.7 L1992.7,696.3 L1993.6,695.8 L1994.5,695.6 L1995.5,696.6 L1996.4,697.0 L1997.3,696.0 L1998.2,696.8 L1999.1,697.0 L2000.0,696.8 L2000.9,696.3 L2001.8,696.6 L2002.7,696.0 L2003.6,696.3 L2004.5,695.8 L2005.4,696.8 L2006.3,695.9 L2007.2,696.8 L2008.1,696.7 L2009.0,695.9 L2009.9,695.7 L2010.8,696.6 L2011.7,696.1 L2012.6,696.5 L2013.5,696.9 L2014.4,696.0 L2015.3,695.7 L2016.2,696.4 L2017.1,696.6 L2018.0,696.4 L2018.9,695.5 L2019.8,696.2 L2020.7,696.5 L2021.6,697.0 L2022.5,695.9 L2023.4,696.0 L2024.3,696.1 L2025.2,696.7 L2026.1,696.0 L2027.0,696.7 L2027.9,696.4 L2028.8,696.5 L2029.7,695.7 L2030.6,696.9 L2031.5,696.3 L2032.4,696.2 L2033.3,696.1 L2034.2,697.0 L2035.1,697.0 L2036.0,696.8 L2036.9,697.1 L2037.8,696.1 L2038.7,697.1 L2039.6,696.7 L2040.5,696.7 L2041.4,696.9 L2042.3,695.8 L2043.2,695.5 L2044.1,695.7 L2045.0,697.0 L2045.9,696.3 L2046.8,695.5 L2047.7,696.6 L2048.6,696.8 L2049.5,695.9 L2050.5,696.3 L2051.4,695.9 L2052.3,696.3 L2053.2,696.0 L2054.1,696.0 L2055.0,696.5 L2055.9,696.7 L2056.8,697.1 L2057.7,695.9 L2058.6,697.1 L2059.5,696.1 L2060.4,696.2 L2061.3,696.2 L2062.2,696.0 L2063.1,696.3 L2064.0,696.8 L2064.9,697.0 L2065.8,697.0 L2066.7,696.1 L2067.6,696.0 L2068.5,695.8 L2069.4,696.4 L2070.3,696.0 L2071.2,695.6 L2072.1,696.0 L2073.0,696.8 L2073.9,696.6 L2074.8,696.5 L2075.7,696.0 L2076.6,696.8 L2077.5,696.2 L2078.4,696.0 L2079.3,695.9 L2080.2,696.1 L2081.1,696.2 L2082.0,696.0 L2082.9,696.2 L2083.8,696.2 L2084.7,696.1 L2085.6,695.8 L2086.5,695.9 L2087.4,696.2 L2088.3,697.1 L2089.2,695.5 L2090.1,697.0 L2091.0,696.3 L2091.9,695.5 L2092.8,696.2 L2093.7,695.9 L2094.6,695.5 L2095.5,696.8 L2096.4,696.6 L2097.3,697.1 L2098.2,696.1 L2099.1,697.0 L2100.0,697.0 L2100.9,696.5 L2101.8,696.4 L2102.7,695.9 L2103.6,696.6 L2104.5,696.3 L2105.4,696.6 L2106.3,695.8 L2107.2,695.5 L2108.1,695.8 L2109.0,695.8 L2109.9,696.5 L2110.8,696.1 L2111.7,696.4 L2112.6,697.0 L2113.5,696.0 L2114.4,696.3 L2115.3,696.7 L2116.3,695.6 L2117.2,696.9 L2118.1,696.4 L2119.0,696.2 L2119.9,697.0 L2120.8,696.5 L2121.7,696.6 L2122.6,697.0 L2123.5,696.2 L2124.4,695.7 L2125.3,696.6 L2126.2,696.6 L2127.1,695.7 L2128.0,695.7 L2128.9,696.8 L2129.8,695.5 L2130.7,695.7 L2131.6,696.6 L2132.5,697.0 L2133.4,696.7 L2134.3,696.5 L2135.2,696.8 L2136.1,696.1 L2137.0,695.8 L2137.9,696.8 L2138.8,696.0 L2139.7,696.5 L2140.6,696.3 L2141.5,696.3 L2142.4,695.9 L2143.3,695.9 L2144.2,696.2 L2145.1,696.9 L2146.0,695.5 L2146.9,696.3 L2147.9,695.8 L2148.8,695.9 L2149.7,696.8 L2150.6,696.1 L2151.5,695.8 L2152.4,696.2 L2153.3,696.7 L2154.2,696.6 L2155.1,696.5 L2156.0,696.5 L2156.9,697.0 L2157.8,696.7 L2158.7,695.7 L2159.6,696.5 L2160.5,696.5 L2161.4,696.7 L2162.3,696.1 L2163.2,696.2 L2164.1,697.0 L2165.0,696.3 L2165.9,696.9 L2166.8,696.8 L2167.7,695.8 L2168.6,696.3 L2169.5,696.1 L2170.4,697.0 L2171.3,695.9 L2172.2,695.6 L2173.1,696.8 L2174.0,696.1 L2174.9,696.1 L2175.8,696.5 L2176.7,696.7 L2177.6,695.6 L2178.5,697.0 L2179.4,696.2 L2180.4,696.9 L2181.3,695.6 L2182.2,696.8 L2183.1,695.8 L2184.0,696.6 L2184.9,695.5 L2185.8,696.9 L2186.7,696.3 L2187.6,696.0 L2188.5,695.6 L2189.4,696.1 L2190.3,696.3 L2191.2,696.5 L2192.1,697.0 L2193.0,696.9 L2193.9,696.0 L2194.8,697.1 L2195.7,696.4 L2196.6,696.5 L2197.5,696.9 L2198.4,697.0 L2199.3,696.6 L2200.2,697.0 L2201.1,696.5 L2202.0,696.2 L2202.9,695.9 L2203.8,696.5 L2204.7,697.0 L2205.6,696.6 L2206.5,695.6 L2207.4,695.7 L2208.3,696.4 L2209.2,696.7 L2210.1,696.7 L2211.0,696.6 L2212.0,696.9 L2212.9,696.2 L2213.8,696.0 L2214.7,696.6 L2215.6,696.3 L2216.5,697.0 L2217.4,696.3 L2218.3,695.9 L2219.2,695.7 L2220.1,696.0 L2221.0,696.5 L2221.9,696.7 L2222.8,696.8 L2223.7,696.0 L2224.6,696.4 L2225.5,696.6 L2226.4,695.6 L2227.3,695.5" fill="none" stroke="#808080" stroke-width="2.0" stroke-linejoin="round" stroke-linecap="butt" />
<path d="M1414.8,691.7 L1415.5,692.1 L1416.2,692.0 L1416.9,692.2 L1417.7,690.7 L1418.4,692.2 L1419.1,691.2 L1419.8,691.5 L1420.5,691.4 L1421.2,691.8 L1422.0,690.1 L1422.7,690.2 L1423.4,691.0 L1424.1,690.5 L1424.8,690.8 L1425.5,689.8 L1426.2,691.1 L1427.0,688.8 L1427.7,690.4 L1428.4,689.5 L1429.1,688.5 L1429.8,690.0 L1430.5,688.4 L1431.3,688.7 L1432.0,688.9 L1432.7,688.4 L1433.4,688.3 L1434.1,688.0 L1434.8,689.7 L1435.6,687.8 L1436.3,687.9 L1437.0,687.6 L1437.7,689.5 L1438.4,688.6 L1439.1,689.2 L1439.9,689.5 L1440.6,688.3 L1441.3,688.1 L1442.0,688.0 L1442.7,687.7 L1443.4,688.4 L1444.2,689.3 L1444.9,688.1 L1445.6,688.7 L1446.3,689.0 L1447.0,688.8 L1447.7,688.4 L1448.5,688.1 L1449.2,686.9 L1449.9,687.6 L1450.6,688.7 L1451.3,687.7 L1452.0,688.2 L1452.8,687.1 L1453.5,687.9 L1454.2,687.0 L1454.9,688.3 L1455.6,688.3 L1456.3,686.4 L1457.1,687.9 L1457.8,686.5 L1458.5,688.5 L1459.2,686.6 L1459.9,686.5 L1460.6,688.3 L1461.4,687.5 L1462.1,686.1 L1462.8,687.1 L1463.5,688.1 L1464.2,686.6 L1464.9,688.2 L1465.6,687.2 L1466.3,687.7 L1467.0,687.7 L1467.7,687.0 L1468.4,687.9 L1469.1,688.4 L1469.8,688.7 L1470.5,688.6 L1471.2,687.9 L1471.9,689.0 L1472.6,688.4 L1473.3,690.0 L1474.0,688.2 L1474.7,689.9 L1475.4,688.4 L1476.1,689.7 L1476.8,689.3 L1477.5,689.7 L1478.2,690.3 L1478.9,690.7 L1479.6,688.9 L1480.3,691.2 L1481.0,690.7 L1481.7,689.5 L1482.4,691.1 L1483.1,691.5 L1483.8,690.6 L1484.5,691.9 L1485.2,690.3 L1485.9,691.1 L1486.6,690.7 L1487.3,692.3 L1488.0,691.1 L1488.7,691.2 L1489.4,693.3 L1490.2,692.1 L1490.9,692.5 L1491.6,693.3 L1492.3,692.3 L1493.1,694.0 L1493.8,694.0 L1494.5,693.8 L1495.2,694.7 L1496.0,695.2 L1496.7,693.5 L1497.4,695.9 L1498.1,695.0 L1498.8,695.9 L1499.6,695.9 L1500.3,696.8 L1501.0,696.6 L1501.7,695.6 L1502.5,695.6 L1503.2,696.4 L1503.9,696.4 L1504.6,696.5 L1505.4,697.5 L1506.1,697.7 L1506.8,697.7 L1507.5,698.6 L1508.2,697.3 L1508.9,698.1 L1509.6,698.2 L1510.3,698.8 L1511.0,699.5 L1511.7,698.9 L1512.4,697.7 L1513.1,699.2 L1513.8,698.7 L1514.5,699.0 L1515.2,699.5 L1515.9,698.8 L1516.6,700.3 L1517.3,699.4 L1518.0,699.5 L1518.7,700.0 L1519.4,699.0 L1520.1,699.7 L1520.8,701.5 L1521.5,699.5 L1522.2,700.2 L1522.9,701.3 L1523.6,700.7 L1524.3,701.1 L1525.0,701.8 L1525.7,701.9 L1526.4,701.0 L1527.1,700.8 L1527.9,700.0 L1528.6,701.8 L1529.3,700.4 L1530.0,701.2 L1530.7,700.4 L1531.4,702.0 L1532.2,701.3 L1532.9,700.5 L1533.6,701.7 L1534.3,700.5 L1535.0,701.2 L1535.7,701.1 L1536.5,702.2 L1537.2,701.9 L1537.9,701.0 L1538.6,701.3 L1539.3,701.6 L1540.0,702.6 L1540.8,701.5 L1541.5,702.5 L1542.2,700.9 L1542.9,701.0 L1543.6,702.6 L1544.3,701.7 L1545.1,700.9 L1545.8,701.3 L1546.5,701.9 L1547.2,701.1 L1547.9,701.9 L1548.6,703.4 L1549.4,701.2 L1550.1,701.9 L1550.8,701.9 L1551.5,701.5 L1552.2,703.4 L1553.0,701.8 L1553.7,701.6 L1554.4,702.2 L1555.1,701.4 L1555.8,702.4 L1556.5,701.7 L1557.3,702.4 L1558.0,701.6 L1558.7,703.4 L1559.4,702.5 L1560.1,702.9 L1560.8,701.9 L1561.6,701.5 L1562.3,702.0 L1563.0,702.6 L1563.7,701.4 L1564.4,701.9 L1565.1,703.7 L1565.9,702.2 L1566.6,701.9 L1567.3,703.4 L1568.0,702.2 L1568.7,702.9 L1569.4,702.8 L1570.2,702.8 L1570.9,701.7 L1571.6,703.2 L1572.3,702.4 L1573.0,703.7 L1573.7,704.0 L1574.5,702.6 L1575.2,703.7 L1575.9,704.0 L1576.6,702.1 L1577.4,702.4 L1578.1,703.9 L1578.9,703.8 L1579.6,702.2 L1580.3,702.2 L1581.1,703.8 L1581.8,701.9 L1582.6,702.2 L1583.3,702.1 L1584.1,702.4 L1584.8,702.8 L1585.5,702.0 L1586.3,702.2 L1587.0,704.1 L1587.8,702.8 L1588.5,702.8 L1589.2,702.3 L1590.0,703.9 L1590.7,702.9 L1591.5,702.4 L1592.2,701.5 L1592.9,702.8 L1593.7,701.8 L1594.4,703.0 L1595.2,701.1 L1595.9,702.0 L1596.7,702.4 L1597.4,701.9 L1598.1,702.6 L1598.9,702.6 L1599.6,701.8 L1600.4,700.2 L1601.1,702.1 L1601.8,701.1 L1602.5,700.7 L1603.3,700.6 L1604.0,699.8 L1604.7,700.2 L1605.4,700.2 L1606.2,700.3 L1606.9,701.6 L1607.6,700.0 L1608.3,700.2 L1609.1,701.0 L1609.8,699.9 L1610.5,701.4 L1611.2,699.5 L1611.9,700.6 L1612.7,699.9 L1613.4,699.6 L1614.1,701.0 L1614.8,700.7 L1615.6,700.5 L1616.3,700.1 L1617.0,700.2 L1617.7,699.5 L1618.5,699.3 L1619.2,700.4 L1619.9,700.8 L1620.6,699.8 L1621.3,700.4 L1622.1,700.4 L1622.8,700.1 L1623.5,699.7 L1624.2,700.4 L1624.9,699.9 L1625.6,700.1 L1626.4,701.0 L1627.1,700.5 L1627.8,700.9 L1628.5,700.9 L1629.2,700.5 L1630.0,699.5 L1630.7,701.1 L1631.4,700.2 L1632.1,700.9 L1632.8,699.1 L1633.5,700.5 L1634.3,700.3 L1635.0,700.9 L1635.7,700.6 L1636.4,700.8 L1637.1,700.2 L1637.8,701.1 L1638.6,700.5 L1639.3,699.2 L1640.0,701.1" fill="none" stroke="#ff0000" stroke-width="3.9" stroke-linejoin="round" stroke-linecap="butt" />
<path d="M1640.0,699.8 L1640.7,701.9 L1641.4,697.5 L1642.1,698.8 L1642.8,702.3 L1643.5,700.7 L1644.2,697.9 L1644.9,699.0 L1645.6,701.8 L1646.3,699.4 L1647.0,697.3 L1647.7,701.8 L1648.4,697.7 L1649.1,700.4 L1649.8,700.2 L1650.5,699.4 L1651.2,702.0 L1651.9,697.8 L1652.6,700.0 L1653.3,697.5 L1654.0,701.9 L1654.7,697.6 L1655.4,699.5 L1656.1,701.1 L1656.8,701.3 L1657.5,697.2 L1658.2,701.2 L1658.9,701.0 L1659.6,698.3 L1660.3,700.5 L1661.0,697.7 L1661.7,697.3 L1662.4,697.3 L1663.1,698.1 L1663.8,700.7 L1664.5,698.8 L1665.2,701.5 L1665.9,701.0 L1666.6,697.4 L1667.3,698.6 L1668.0,696.6 L1668.7,699.3 L1669.4,699.4 L1670.1,699.2 L1670.8,696.6 L1671.5,699.3 L1672.2,696.7 L1672.9,700.5 L1673.6,698.5 L1674.3,696.5 L1675.0,701.1 L1675.7,700.9 L1676.4,697.7 L1677.1,700.8 L1677.8,697.4 L1678.5,698.7 L1679.2,698.9 L1679.9,700.0 L1680.6,696.2 L1681.3,696.0 L1682.0,696.6 L1682.7,697.8 L1683.4,699.9 L1684.2,699.5 L1684.9,696.3 L1685.6,699.5 L1686.3,696.7 L1687.0,695.8 L1687.7,698.1 L1688.4,700.3 L1689.1,700.3 L1689.8,697.9 L1690.5,699.7 L1691.2,696.5 L1691.9,696.3 L1692.6,700.5 L1693.3,699.0 L1694.0,696.3 L1694.7,697.2 L1695.4,699.4 L1696.1,695.7 L1696.8,696.3 L1697.5,699.5 L1698.2,696.6 L1698.9,697.5 L1699.6,697.5 L1700.3,697.7 L1701.1,696.9 L1701.8,696.5 L1702.5,699.4 L1703.2,699.1 L1703.9,700.1 L1704.6,695.4 L1705.3,695.9 L1706.0,699.5 L1706.7,696.7 L1707.4,699.2 L1708.1,696.6 L1708.8,697.1 L1709.5,698.5 L1710.2,697.2 L1710.9,697.7 L1711.6,695.1 L1712.3,699.4 L1713.0,698.1 L1713.7,696.2 L1714.4,697.3 L1715.1,698.2 L1715.8,699.7 L1716.5,694.9 L1717.2,699.6 L1717.9,697.8 L1718.7,694.9 L1719.4,696.6 L1720.1,698.5 L1720.8,695.3 L1721.5,697.7 L1722.2,697.5 L1722.9,697.6 L1723.6,694.7 L1724.3,694.7 L1725.0,699.6 L1725.7,695.4 L1726.4,695.5 L1727.1,697.4 L1727.8,694.6 L1728.5,698.3 L1729.2,698.4 L1729.9,696.2 L1730.6,697.5 L1731.3,696.9 L1732.0,697.9 L1732.7,695.2 L1733.4,694.5 L1734.1,694.8 L1734.8,699.1 L1735.6,699.4 L1736.3,695.6 L1737.0,698.0 L1737.7,695.4 L1738.4,697.3 L1739.1,696.2 L1739.8,697.0 L1740.5,698.8 L1741.2,698.6 L1741.9,698.9 L1742.6,698.4 L1743.3,696.5 L1744.0,695.0 L1744.7,698.3 L1745.4,697.4 L1746.1,694.7 L1746.8,696.0 L1747.5,694.3 L1748.2,698.0 L1748.9,698.9 L1749.6,694.0 L1750.3,697.3 L1751.0,698.6 L1751.7,698.6 L1752.4,697.8 L1753.1,694.6 L1753.8,696.9 L1754.5,695.7 L1755.2,697.0 L1755.9,695.8 L1756.6,695.1 L1757.3,697.1 L1758.0,694.6 L1758.7,694.6 L1759.4,697.2 L1760.1,697.8 L1760.8,694.6 L1761.5,694.3 L1762.2,696.1 L1762.9,694.4 L1763.6,698.8 L1764.3,695.5 L1765.0,694.0 L1765.7,696.4 L1766.4,696.7 L1767.1,696.2 L1767.8,696.9 L1768.5,694.3 L1769.2,694.7 L1769.9,697.0 L1770.6,694.1 L1771.3,696.2 L1772.0,695.1 L1772.7,697.8 L1773.4,696.6 L1774.1,697.0 L1774.8,695.4 L1775.5,696.5 L1776.2,696.3 L1776.9,696.3 L1777.6,697.0 L1778.3,696.5 L1779.0,697.8 L1779.7,696.0 L1780.4,695.1 L1781.1,694.1 L1781.8,694.2 L1782.5,693.9 L1783.2,694.3 L1783.9,697.5 L1784.6,697.2 L1785.3,695.4 L1786.0,698.2 L1786.7,695.1 L1787.4,695.9 L1788.1,697.5 L1788.8,694.9 L1789.5,696.0 L1790.2,695.4 L1790.9,697.5 L1791.6,694.7 L1792.3,696.0 L1793.0,697.6 L1793.7,697.4 L1794.4,698.8 L1795.1,696.0 L1795.8,696.8 L1796.5,694.9 L1797.2,695.5 L1797.9,697.7 L1798.6,698.7 L1799.3,695.8 L1800.0,694.4 L1800.7,697.3 L1801.4,694.1 L1802.1,695.0 L1802.8,693.9 L1803.6,696.9 L1804.3,697.5 L1805.0,694.1 L1805.7,697.2 L1806.4,695.0 L1807.1,695.5 L1807.8,696.2 L1808.5,695.8 L1809.2,696.1 L1809.9,694.8 L1810.7,695.6 L1811.4,697.6 L1812.1,694.0 L1812.8,695.4 L1813.5,694.1 L1814.2,694.6 L1814.9,693.8 L1815.6,696.9 L1816.3,695.1 L1817.1,692.8 L1817.8,696.8 L1818.5,694.8 L1819.2,693.4 L1819.9,695.4 L1820.6,693.1 L1821.3,695.1 L1822.0,696.0 L1822.7,694.2 L1823.4,693.7 L1824.2,694.2 L1824.9,692.8 L1825.6,695.5 L1826.3,693.6 L1827.0,693.0 L1827.7,696.3 L1828.5,696.2 L1829.2,692.6 L1829.9,695.0 L1830.6,692.4 L1831.4,692.9 L1832.1,693.5 L1832.8,691.7 L1833.5,691.4 L1834.3,695.5 L1835.0,693.0 L1835.7,692.9 L1836.5,691.9 L1837.2,695.5 L1837.9,695.1 L1838.6,691.3 L1839.4,695.6 L1840.1,691.9 L1840.8,690.9 L1841.5,692.6 L1842.3,693.8 L1843.0,690.6 L1843.8,692.0 L1844.5,692.6 L1845.2,694.1 L1846.0,693.4 L1846.8,696.4 L1847.5,697.3 L1848.2,697.7 L1849.0,694.3 L1849.7,696.7 L1850.4,698.4 L1851.1,696.5 L1851.8,696.7 L1852.5,698.3 L1853.2,697.7 L1853.9,694.7 L1854.6,694.6 L1855.3,698.4 L1856.0,695.3 L1856.7,696.5 L1857.4,697.2 L1858.1,695.6 L1858.9,696.6 L1859.6,698.1 L1860.3,696.6 L1861.0,696.0 L1861.7,694.9 L1862.4,697.0 L1863.1,694.6 L1863.8,698.0 L1864.5,697.4 L1865.2,697.9 L1865.9,696.5 L1866.6,698.3 L1867.3,694.6 L1868.0,698.3 L1868.7,698.1 L1869.4,696.9 L1870.1,693.8 L1870.8,694.9 L1871.5,694.7 L1872.2,696.6 L1872.9,696.2 L1873.6,697.8 L1874.3,696.5 L1875.0,695.9 L1875.7,694.8 L1876.4,697.3 L1877.1,696.4 L1877.8,696.7 L1878.5,696.5 L1879.2,694.3 L1879.9,694.5 L1880.6,694.9 L1881.3,698.9 L1882.0,697.0 L1882.7,695.6 L1883.4,696.4 L1884.1,695.7 L1884.8,694.8 L1885.5,699.3 L1886.2,697.1 L1886.9,699.1 L1887.6,698.0 L1888.3,694.6 L1889.0,696.7 L1889.7,696.4 L1890.4,697.6 L1891.1,698.8 L1891.8,696.7 L1892.5,696.8 L1893.2,699.1 L1893.9,697.7 L1894.6,696.7 L1895.3,694.6 L1896.0,699.6 L1896.7,696.7 L1897.4,697.7 L1898.1,697.7 L1898.8,694.0 L1899.5,693.4 L1900.2,695.9 L1900.9,696.8 L1901.6,694.5 L1902.3,692.2 L1903.0,692.8 L1903.7,691.7 L1904.4,691.8 L1905.1,692.9 L1905.9,692.8 L1906.6,692.6 L1907.3,694.5 L1908.0,692.6 L1908.7,692.3 L1909.4,691.1 L1910.1,690.2 L1910.9,691.3 L1911.6,692.7 L1912.3,691.5 L1913.0,691.8 L1913.7,693.3 L1914.4,689.7 L1915.1,692.4 L1915.9,693.1 L1916.6,689.6 L1917.3,690.8 L1918.0,690.1 L1918.7,690.0 L1919.4,691.7 L1920.1,690.8 L1920.9,688.8 L1921.6,688.1 L1922.3,690.5 L1923.0,688.8 L1923.7,690.4 L1924.4,688.3 L1925.1,689.6 L1925.8,688.7 L1926.5,688.8 L1927.2,687.2 L1927.9,688.9 L1928.6,686.5 L1929.3,688.8 L1930.0,686.9 L1930.7,685.8 L1931.4,687.4 L1932.1,686.2 L1932.8,688.1 L1933.5,686.5 L1934.2,688.2 L1934.9,685.0 L1935.6,687.8 L1936.3,687.3 L1937.0,684.9 L1937.8,685.3 L1938.6,687.3 L1939.4,688.1 L1940.2,685.6 L1941.0,687.4 L1941.7,686.5 L1942.4,690.3 L1943.1,689.9 L1943.8,689.8 L1944.5,689.0 L1945.2,689.0 L1945.9,691.5 L1946.6,687.9 L1947.3,688.9 L1948.0,690.5 L1949.0,692.8 L1950.0,688.5 L1951.0,691.1 L1952.0,685.7 L1952.7,688.1 L1953.5,685.7 L1954.2,689.3 L1954.9,685.1 L1955.6,687.9 L1956.4,684.9 L1957.1,688.6 L1957.8,684.3 L1958.5,688.4 L1959.3,688.0 L1960.0,688.1 L1960.7,686.8 L1961.4,685.4 L1962.1,686.7 L1962.9,684.4 L1963.6,688.1 L1964.3,685.8 L1965.0,686.8 L1965.7,688.5 L1966.4,688.3 L1967.1,687.1 L1967.9,684.4 L1968.6,684.8 L1969.3,684.9 L1970.0,686.0 L1970.7,685.1 L1971.4,684.8 L1972.1,688.6 L1972.9,689.6 L1973.6,686.4 L1974.3,688.4 L1975.0,687.6 L1975.7,686.6 L1976.4,685.1 L1977.1,688.0 L1977.9,687.6 L1978.6,689.0 L1979.3,688.4 L1980.0,686.2 L1980.7,688.9 L1981.4,687.1 L1982.1,687.1 L1982.9,688.1 L1983.6,686.0 L1984.3,687.9 L1985.0,685.2 L1985.7,684.5 L1986.4,684.9 L1987.1,687.0 L1987.9,687.9 L1988.6,687.1 L1989.3,687.3 L1990.0,685.1 L1990.7,684.4 L1991.4,688.7 L1992.1,686.3 L1992.9,686.7 L1993.6,684.2 L1994.3,685.3 L1995.0,688.7 L1995.7,687.3 L1996.4,683.8 L1997.1,688.7 L1997.9,688.7 L1998.6,684.0 L1999.3,687.1 L2000.0,684.4 L2000.7,686.1 L2001.4,688.2 L2002.1,686.8 L2002.9,686.1 L2003.6,686.2 L2004.3,683.9 L2005.0,688.7 L2005.7,685.0 L2006.4,686.9 L2007.1,687.5 L2007.9,684.4 L2008.6,687.5 L2009.3,686.7 L2010.0,683.9 L2010.7,688.6 L2011.4,685.6 L2012.1,684.3 L2012.9,684.0 L2013.6,685.5 L2014.3,685.6 L2015.0,687.1 L2015.7,688.5 L2016.4,684.9 L2017.1,687.2 L2017.9,685.8 L2018.6,686.0 L2019.3,684.5 L2020.0,687.8 L2020.8,689.1 L2021.5,688.6 L2022.2,689.9 L2023.0,690.0 L2023.8,690.3 L2024.5,691.4 L2025.2,689.7 L2026.0,691.0 L2026.8,692.6 L2027.5,694.4 L2028.2,694.1 L2029.0,692.7 L2029.8,690.4 L2030.5,693.2 L2031.2,690.9 L2032.0,691.4 L2032.8,690.8 L2033.5,690.6 L2034.2,689.3 L2035.0,686.5 L2035.7,689.6 L2036.4,689.6 L2037.1,689.7 L2037.8,690.3 L2038.5,688.4 L2039.2,688.7 L2040.0,687.7 L2040.7,690.6 L2041.4,685.8 L2042.1,690.0 L2042.8,687.8 L2043.5,687.0 L2044.2,689.9 L2044.9,689.1 L2045.6,688.6 L2046.3,687.5 L2047.0,688.4 L2047.8,688.2 L2048.5,687.1 L2049.2,684.3 L2049.9,683.9 L2050.6,687.7 L2051.3,688.4 L2052.0,684.0 L2052.7,685.7 L2053.4,686.3 L2054.1,686.2 L2054.8,687.8 L2055.5,686.5 L2056.2,687.4 L2056.9,683.9 L2057.6,688.7 L2058.3,687.4 L2059.0,687.1 L2059.7,688.2 L2060.4,686.4 L2061.1,685.6 L2061.8,686.0 L2062.5,685.8 L2063.2,684.2 L2063.9,688.3 L2064.6,687.6 L2065.3,685.6 L2066.0,686.0 L2066.7,688.6 L2067.4,686.3 L2068.1,688.4 L2068.8,689.2 L2069.5,686.1 L2070.2,688.8 L2070.9,688.8 L2071.6,689.3 L2072.3,684.9 L2073.0,685.7 L2073.7,688.3 L2074.4,684.7 L2075.1,685.4 L2075.8,688.0 L2076.5,686.7 L2077.2,689.4 L2077.9,685.4 L2078.6,685.8 L2079.3,687.7 L2080.0,689.5 L2080.7,685.9 L2081.4,688.4 L2082.1,686.8 L2082.9,684.9 L2083.6,685.7 L2084.3,688.3 L2085.0,686.1 L2085.7,689.7 L2086.4,688.8 L2087.1,689.6 L2087.9,685.5 L2088.6,688.0 L2089.3,688.5 L2090.0,687.2 L2090.7,689.5 L2091.4,688.5 L2092.1,689.3 L2092.9,685.9 L2093.6,688.0 L2094.3,685.2 L2095.0,685.5 L2095.7,687.6 L2096.4,688.8 L2097.1,687.2 L2097.9,687.0 L2098.6,687.6 L2099.3,688.1 L2100.0,686.8 L2100.7,686.3 L2101.4,687.5 L2102.1,687.9 L2102.9,688.1 L2103.6,684.5 L2104.3,686.5 L2105.0,685.9 L2105.7,687.7 L2106.4,684.9 L2107.1,684.6 L2107.9,687.4 L2108.6,686.6 L2109.3,686.7 L2110.0,685.1 L2110.7,685.2 L2111.4,686.5 L2112.1,684.0 L2112.9,686.2 L2113.6,689.0 L2114.3,687.1 L2115.0,687.0 L2115.7,687.2 L2116.4,687.3 L2117.1,684.7 L2117.9,687.0 L2118.6,688.2 L2119.3,688.2 L2120.0,686.1 L2120.7,688.1 L2121.4,687.4 L2122.1,687.5 L2122.9,689.2 L2123.6,688.0 L2124.3,688.3 L2125.0,686.8 L2125.7,688.3 L2126.4,686.9 L2127.1,688.5 L2127.9,684.6 L2128.6,687.4 L2129.3,688.9 L2130.0,684.9 L2130.7,687.6 L2131.4,685.7 L2132.1,685.0 L2132.9,687.0 L2133.6,685.1 L2134.3,688.2 L2135.0,689.9 L2135.7,688.2 L2136.4,687.5 L2137.1,685.4 L2137.9,686.2 L2138.6,688.2 L2139.3,686.6 L2140.0,689.3 L2140.7,688.2 L2141.4,685.7 L2142.1,689.0 L2142.9,684.8 L2143.6,685.5 L2144.3,688.4 L2145.0,687.5 L2145.7,684.4 L2146.4,683.8 L2147.1,683.9 L2147.9,687.6 L2148.6,686.2 L2149.3,687.4 L2150.0,687.5 L2150.7,684.6 L2151.4,684.3 L2152.1,685.3 L2152.9,686.1 L2153.6,683.2 L2154.3,683.9 L2155.0,683.7 L2155.7,685.9 L2156.4,687.7 L2157.1,683.6 L2157.9,687.1 L2158.6,686.6 L2159.3,688.5 L2160.0,683.7 L2160.7,684.0 L2161.4,686.6 L2162.1,688.6 L2162.9,683.9 L2163.6,687.8 L2164.3,683.8 L2165.0,685.9 L2165.7,684.9 L2166.4,684.8 L2167.1,685.7 L2167.9,686.0 L2168.6,685.4 L2169.3,687.7 L2170.0,686.8 L2170.7,687.0 L2171.4,685.4 L2172.1,684.1 L2172.9,686.1 L2173.6,684.5 L2174.3,685.5 L2175.0,686.7 L2175.7,688.8 L2176.4,685.1 L2177.1,685.2 L2177.9,684.4 L2178.6,688.3 L2179.3,688.3 L2180.0,686.6 L2180.7,689.5 L2181.4,685.7 L2182.1,687.1 L2182.9,687.7 L2183.6,686.3 L2184.3,687.4 L2185.0,688.8 L2185.7,686.1 L2186.4,684.7 L2187.1,687.1 L2187.9,689.6 L2188.6,686.7 L2189.3,685.3 L2190.0,687.8 L2190.7,689.5 L2191.4,688.9 L2192.1,685.7 L2192.9,686.0 L2193.6,687.1 L2194.3,685.9 L2195.0,688.6 L2195.7,685.9 L2196.4,690.0 L2197.1,690.2 L2197.9,686.6 L2198.6,686.9 L2199.3,689.8 L2200.0,687.3 L2200.7,688.9 L2201.4,687.2 L2202.1,689.4 L2202.8,688.1 L2203.5,689.5 L2204.2,688.4 L2204.9,686.5 L2205.6,688.8 L2206.3,687.5 L2207.0,689.0 L2207.7,685.7 L2208.4,685.2 L2209.1,688.5 L2209.8,689.9 L2210.5,687.9 L2211.2,687.8 L2211.9,685.4 L2212.6,686.8 L2213.3,688.1 L2214.0,686.3 L2214.7,688.3 L2215.4,688.0 L2216.1,686.3 L2216.8,685.9 L2217.5,686.5 L2218.2,687.9 L2218.9,688.1 L2219.6,686.9 L2220.3,686.1 L2221.0,685.4 L2221.7,685.1 L2222.4,687.2 L2223.1,688.0 L2223.8,686.7 L2224.5,687.8 L2225.2,686.2 L2225.9,686.7 L2226.6,689.0 L2227.3,685.3" fill="none" stroke="#ff0000" stroke-width="2.7" stroke-linejoin="round" stroke-linecap="butt" />
<path d="M1414.8,724.2 L1415.9,724.4 L1417.0,724.5 L1418.1,724.4 L1419.2,724.3 L1420.3,724.2 L1421.4,723.6 L1422.4,722.7 L1423.4,721.4 L1424.4,720.6 L1425.4,719.4 L1426.4,718.4 L1427.4,717.3 L1428.4,716.3 L1429.4,715.4 L1430.4,714.5 L1431.4,713.1 L1432.4,712.9 L1433.4,712.7 L1434.4,712.2 L1435.4,711.5 L1436.5,711.3 L1437.5,711.2 L1438.5,710.8 L1439.5,710.3 L1440.5,710.2 L1441.5,709.7" fill="none" stroke="#8b4513" stroke-width="3.0" stroke-linejoin="round" stroke-linecap="butt" />
<path d="M1441.5,709.9 L1443.4,706.7 L1443.6,700.8 L1443.9,694.4 L1444.1,688.6 L1444.4,682.5 L1444.6,676.5 L1445.1,670.0 L1445.5,663.8 L1446.0,657.4 L1446.5,651.2 L1446.8,645.1 L1447.0,638.8 L1447.3,632.8 L1447.5,626.5 L1447.8,619.9 L1447.9,613.9 L1448.1,607.7 L1448.2,601.3 L1448.3,595.3 L1448.5,588.9 L1448.6,582.8 L1448.7,576.8 L1448.8,570.8 L1449.0,564.9 L1449.1,558.7 L1449.2,552.1 L1449.4,546.1 L1449.5,539.8 L1449.6,533.9 L1449.7,528.0 L1449.8,521.4 L1449.9,515.5 L1450.0,509.2 L1450.1,502.9 L1450.3,496.8 L1450.4,490.6 L1450.5,484.4 L1450.6,478.2 L1450.7,472.2 L1450.8,466.2 L1450.9,459.8 L1451.0,453.0 L1451.1,446.0 L1451.3,439.4 L1451.4,432.4 L1451.5,425.8 L1451.7,419.2 L1451.9,413.2 L1452.2,406.9 L1452.4,400.8 L1452.6,394.6 L1452.8,388.4 L1453.4,381.6 L1454.0,375.5 L1454.7,369.2 L1455.3,363.1 L1456.1,356.7 L1456.8,350.2 L1457.6,344.2 L1458.4,338.1 L1459.0,331.5 L1459.7,324.9 L1460.3,318.7 L1461.0,312.6 L1461.6,306.1" fill="none" stroke="#8b4513" stroke-width="2.7" stroke-linejoin="round" stroke-linecap="butt" />
<path d="M1461.6,308.0 L1462.5,300.3 L1463.4,302.8 L1464.4,302.6 L1465.3,300.3 L1466.2,295.0 L1467.1,292.6 L1468.1,286.8 L1469.0,284.8 L1470.0,277.5 L1470.9,279.3 L1471.8,279.1 L1472.6,276.7 L1473.5,278.2 L1474.4,282.1 L1475.2,279.9 L1476.1,285.3 L1476.9,285.9 L1477.8,285.3 L1478.7,279.0 L1479.5,279.4 L1480.4,282.0 L1481.2,281.6 L1482.1,283.8 L1482.9,284.0 L1483.7,280.6 L1484.6,280.3 L1485.4,278.7 L1486.2,272.7 L1487.1,276.3 L1487.9,272.4 L1488.7,273.3 L1489.5,268.6 L1490.4,273.6 L1491.2,274.9 L1492.0,266.2 L1492.9,269.9 L1493.7,263.8 L1494.5,267.6 L1495.4,266.6 L1496.2,273.9 L1497.1,273.4 L1497.9,275.8 L1498.8,270.3 L1499.6,275.7 L1500.4,276.3 L1501.3,275.4 L1502.1,279.9 L1503.0,278.0 L1503.8,275.6 L1504.7,280.4 L1505.5,279.0 L1506.4,275.7 L1507.3,278.5 L1508.2,272.3 L1509.1,275.1 L1510.0,275.2 L1510.9,269.2 L1511.8,274.3 L1512.7,270.0 L1513.5,276.0 L1514.4,274.0 L1515.2,272.0 L1516.1,281.8 L1516.9,274.0 L1517.8,275.7 L1518.6,279.8 L1519.5,278.2 L1520.3,281.7 L1521.2,282.1 L1522.1,281.8 L1522.9,280.3 L1523.8,276.8 L1524.7,274.8 L1525.5,278.0 L1526.4,274.4 L1527.3,274.0 L1528.1,276.4 L1529.0,266.9 L1529.8,270.0 L1530.7,273.2 L1531.5,269.1 L1532.3,276.1 L1533.2,273.5 L1534.0,273.3 L1534.8,271.9 L1535.7,278.6 L1536.5,269.8 L1537.3,276.6 L1538.2,275.2 L1539.0,276.7 L1539.9,274.6 L1540.7,271.0 L1541.5,272.5 L1542.4,275.6 L1543.2,267.2 L1544.0,275.1 L1544.9,273.9 L1545.7,269.9 L1546.5,277.5 L1547.3,271.8 L1548.2,269.5 L1549.0,272.4 L1549.8,274.1 L1550.7,269.1 L1551.5,273.8 L1552.3,271.9 L1553.2,270.4 L1554.0,273.8 L1554.8,272.8 L1555.6,276.3 L1556.4,275.7 L1557.2,276.0 L1558.0,276.9 L1558.8,276.5 L1559.6,273.4 L1560.4,269.9 L1561.2,273.7 L1562.0,275.6 L1562.8,278.6 L1563.7,275.6 L1564.5,274.6 L1565.3,270.0 L1566.2,275.0 L1567.0,269.1 L1567.8,269.9 L1568.7,268.8 L1569.5,275.0 L1570.4,276.7 L1571.2,273.4 L1572.0,268.5 L1572.9,274.3 L1573.7,269.0 L1574.5,273.7 L1575.4,273.2 L1576.2,275.5 L1577.0,268.7 L1577.9,269.8 L1578.7,271.0 L1579.5,269.2 L1580.4,277.6 L1581.2,275.0 L1582.0,270.7 L1582.9,274.5 L1583.7,271.4 L1584.5,279.8 L1585.4,274.7 L1586.2,271.8 L1587.0,279.0 L1587.9,275.6 L1588.7,279.0 L1589.6,279.2 L1590.5,271.6 L1591.3,274.9 L1592.2,277.6 L1593.1,269.9 L1594.0,269.0 L1594.8,271.9 L1595.7,265.2 L1596.6,271.1 L1597.5,272.6 L1598.4,275.5 L1599.3,276.0 L1600.2,275.2 L1601.1,275.7 L1602.0,278.0 L1602.9,280.5 L1603.8,282.5 L1604.6,273.8 L1605.5,275.8 L1606.4,274.3 L1607.3,271.3 L1608.1,269.4 L1609.0,274.0 L1609.8,272.5 L1610.6,273.8 L1611.4,270.1 L1612.2,272.5 L1613.0,269.8 L1613.8,270.1 L1614.6,270.2 L1615.4,275.2 L1616.2,277.4 L1617.0,275.2 L1617.9,276.2 L1618.8,268.9 L1619.6,272.0 L1620.5,267.7 L1621.4,270.3 L1622.3,266.9 L1623.1,266.1 L1624.0,271.3 L1624.9,267.0 L1625.7,264.7 L1626.6,267.5 L1627.4,266.1 L1628.2,271.3 L1629.0,268.1 L1629.9,272.7 L1630.7,270.9 L1631.5,271.9 L1632.3,272.0 L1633.2,272.3 L1634.0,268.0 L1634.8,275.0 L1635.7,273.7 L1636.5,270.5 L1637.4,273.4 L1638.2,277.9 L1639.1,275.5 L1640.0,274.9 L1640.8,275.1 L1641.6,271.2 L1642.5,275.5 L1643.3,275.2 L1644.2,277.5 L1645.0,275.3 L1645.9,273.6 L1646.8,280.5 L1647.6,275.3 L1648.5,274.8 L1649.4,276.5 L1650.3,280.9 L1651.2,278.4 L1652.1,273.0 L1653.0,272.3 L1653.8,274.8 L1654.7,269.5 L1655.5,269.8 L1656.4,267.6 L1657.2,273.3 L1658.0,272.2 L1658.9,270.9 L1659.7,267.7 L1660.6,260.8 L1661.4,261.7 L1662.2,266.5 L1663.1,258.9 L1663.9,262.8 L1664.8,265.3 L1665.6,260.0 L1666.5,260.5 L1667.3,262.8 L1668.2,262.7 L1669.0,257.8 L1669.9,263.3 L1670.7,256.5 L1671.6,256.9 L1672.4,258.0 L1673.2,257.2 L1674.1,259.8 L1674.9,259.1 L1675.7,262.9 L1676.6,264.0 L1677.4,263.8 L1678.2,264.9 L1679.0,259.6 L1679.9,263.6 L1680.7,265.1 L1681.6,264.9 L1682.4,260.4 L1683.3,264.2 L1684.2,258.6 L1685.1,262.8 L1685.9,260.2 L1686.8,254.0 L1687.7,261.2 L1688.6,259.3 L1689.4,256.5 L1690.3,259.7 L1691.1,259.7 L1692.0,259.7 L1692.8,260.0 L1693.6,260.3 L1694.4,255.4 L1695.3,260.4 L1696.1,255.8 L1696.9,261.1 L1697.8,258.7 L1698.6,264.3 L1699.4,265.8 L1700.2,258.8 L1701.0,261.6 L1701.8,258.6 L1702.6,264.5 L1703.4,259.6 L1704.3,256.2 L1705.1,260.0 L1705.9,258.0 L1706.7,258.0 L1707.5,256.9 L1708.3,253.7 L1709.1,254.5 L1709.9,260.0 L1710.8,256.8 L1711.6,260.3 L1712.4,263.0 L1713.2,264.6 L1714.1,258.4 L1714.9,260.0 L1715.8,257.2 L1716.6,257.9 L1717.5,264.2 L1718.3,261.6 L1719.2,255.0 L1720.0,263.0 L1720.9,256.7 L1721.7,258.4 L1722.6,260.0 L1723.4,254.3 L1724.3,254.3 L1725.1,253.8 L1726.0,255.7 L1726.8,258.5 L1727.7,250.3 L1728.6,257.1 L1729.4,252.8 L1730.3,251.1 L1731.2,247.5 L1732.0,253.4 L1732.9,247.5 L1733.7,254.6 L1734.6,249.3 L1735.4,254.3 L1736.3,253.7 L1737.1,250.2 L1738.0,249.5 L1738.8,252.0 L1739.7,251.1 L1740.5,250.6 L1741.4,255.9 L1742.2,249.7 L1743.1,249.6 L1743.9,253.0 L1744.8,250.0 L1745.6,248.1 L1746.5,249.4 L1747.3,246.4 L1748.2,246.6 L1749.0,252.4 L1749.9,248.9 L1750.7,248.6 L1751.6,248.4 L1752.4,245.7 L1753.2,244.5 L1754.1,242.8 L1754.9,247.5 L1755.8,244.3 L1756.6,247.0 L1757.5,243.1 L1758.3,246.7 L1759.2,247.4 L1760.0,241.7 L1760.9,243.3 L1761.7,238.5 L1762.6,241.8 L1763.4,238.3 L1764.3,240.3 L1765.1,244.3 L1766.0,245.3 L1766.8,241.6 L1767.7,244.6 L1768.6,243.9 L1769.4,242.9 L1770.3,240.7 L1771.1,239.8 L1772.0,240.1 L1772.8,242.1 L1773.6,240.4 L1774.4,238.9 L1775.3,239.3 L1776.1,239.2 L1776.9,242.5 L1777.8,242.4 L1778.6,241.7 L1779.5,239.6 L1780.4,234.8 L1781.3,242.0 L1782.3,241.6 L1783.2,235.4 L1784.1,236.6 L1784.9,239.6 L1785.7,238.3 L1786.5,246.5 L1787.3,244.1 L1788.1,244.6 L1788.9,242.6 L1789.7,244.9 L1790.6,246.7 L1791.4,249.1 L1792.3,245.4 L1793.2,246.5 L1794.0,246.1 L1794.9,247.8 L1795.7,246.6 L1796.6,246.2 L1797.4,248.2 L1798.2,250.4 L1799.1,249.9 L1799.9,248.9 L1800.7,242.5 L1801.5,247.0 L1802.3,238.5 L1803.2,238.7 L1804.0,237.3 L1804.8,240.1 L1805.7,236.3 L1806.6,236.2 L1807.5,234.1 L1808.5,238.9 L1809.4,237.9 L1810.3,235.8 L1811.1,237.4 L1812.0,239.8 L1812.8,240.7 L1813.6,234.0 L1814.5,240.0 L1815.3,237.9 L1816.1,238.9 L1816.9,233.8 L1817.8,241.4 L1818.6,236.1 L1819.4,233.6 L1820.3,237.6 L1821.1,236.0 L1821.9,239.8 L1822.8,239.0 L1823.6,240.8 L1824.4,241.4 L1825.2,240.7 L1826.1,237.0 L1826.9,238.4 L1827.7,238.0 L1828.6,239.5 L1829.4,238.3 L1830.2,237.8 L1831.0,235.2 L1831.9,236.3 L1832.7,235.0 L1833.5,238.4 L1834.3,239.6 L1835.2,236.7 L1836.0,233.4 L1836.8,232.2 L1837.6,238.4 L1838.5,237.9 L1839.3,236.5 L1840.1,237.5 L1841.0,235.0 L1841.8,237.3 L1842.6,235.6 L1843.4,232.0 L1844.3,237.1 L1845.1,241.8 L1845.9,236.7 L1846.8,240.0 L1847.6,235.6 L1848.5,239.6 L1849.4,236.0 L1850.3,240.6 L1851.3,235.5 L1852.2,236.1 L1853.1,231.8 L1853.9,232.2 L1854.8,236.6 L1855.6,234.3 L1856.4,235.7 L1857.2,238.3 L1858.1,231.5 L1858.9,234.0 L1859.7,239.2 L1860.6,237.4 L1861.4,239.0 L1862.2,236.9 L1863.1,237.5 L1863.9,231.1 L1864.7,230.9 L1865.6,236.6 L1866.4,235.9 L1867.2,231.6 L1868.0,232.5 L1868.9,235.9 L1869.7,235.8 L1870.6,230.8 L1871.5,238.7 L1872.5,239.7 L1873.4,234.9 L1874.3,237.4 L1875.2,235.3 L1876.1,236.9 L1876.9,234.0 L1877.8,233.9 L1878.7,236.5 L1879.5,237.5 L1880.4,232.9 L1881.2,237.3 L1882.1,228.4 L1882.9,233.8 L1883.7,236.8 L1884.5,228.8 L1885.3,229.8 L1886.2,232.0 L1887.0,230.2 L1887.8,236.0 L1888.6,232.9 L1889.4,228.2 L1890.2,231.3 L1891.0,232.1 L1891.8,234.2 L1892.7,230.4 L1893.5,235.7 L1894.3,232.5 L1895.1,234.1 L1895.9,232.9 L1896.8,237.9 L1897.6,230.5 L1898.5,237.2 L1899.3,238.6 L1900.2,240.3 L1901.1,232.2 L1901.9,234.4 L1902.8,236.2 L1903.7,240.3 L1904.5,237.9 L1905.4,235.3 L1906.2,236.2 L1907.1,234.3 L1908.0,237.0 L1908.8,232.5 L1909.7,231.3 L1910.6,228.9 L1911.4,233.7 L1912.3,228.0 L1913.1,231.1 L1914.0,227.6 L1914.8,231.0 L1915.7,232.3 L1916.6,233.9 L1917.4,231.3 L1918.3,232.2 L1919.1,227.0 L1920.0,228.9 L1920.8,226.1 L1921.7,231.2 L1922.5,230.0 L1923.3,231.8 L1924.2,227.8 L1925.0,236.7 L1925.8,236.0 L1926.6,230.4 L1927.5,236.9 L1928.3,234.8 L1929.1,235.5 L1930.0,233.7 L1930.8,236.9 L1931.7,228.8 L1932.5,235.1 L1933.3,233.6 L1934.2,232.8 L1935.0,235.0 L1935.8,234.2 L1936.7,225.0 L1937.5,226.7 L1938.4,230.4 L1939.2,229.0 L1940.0,228.4 L1940.9,227.6 L1941.7,228.9 L1942.6,222.8 L1943.4,223.1 L1944.2,224.0 L1945.0,226.2 L1945.9,226.9 L1946.7,226.0 L1947.5,225.4 L1948.3,228.2 L1949.1,223.7 L1949.9,224.7 L1950.8,232.0 L1951.6,229.6 L1952.4,225.1 L1953.2,227.3 L1954.0,226.5 L1954.9,228.3 L1955.7,232.0 L1956.5,231.6 L1957.3,224.7 L1958.1,230.6 L1958.9,233.6 L1959.8,228.8 L1960.6,228.2 L1961.4,227.0 L1962.2,228.3 L1963.0,234.1 L1963.8,228.7 L1964.6,228.0 L1965.5,229.5 L1966.3,234.2 L1967.1,226.1 L1967.9,226.1 L1968.7,232.5 L1969.5,226.6 L1970.3,228.7 L1971.1,230.2 L1972.0,230.6 L1972.8,229.4 L1973.6,232.7 L1974.4,229.4 L1975.2,232.2 L1976.0,234.8 L1976.8,233.5 L1977.6,234.5 L1978.4,227.5 L1979.3,229.9 L1980.1,231.8 L1980.9,229.0 L1981.7,228.7 L1982.5,226.6 L1983.3,228.9 L1984.1,234.2 L1984.9,229.0 L1985.8,225.8 L1986.6,228.2 L1987.4,225.1 L1988.2,231.9 L1989.0,226.5 L1989.8,230.0 L1990.6,233.1 L1991.4,228.8 L1992.2,232.7 L1993.1,228.8 L1993.9,225.5 L1994.7,227.9 L1995.5,224.3 L1996.3,229.1 L1997.1,227.1 L1997.9,228.6 L1998.7,224.8 L1999.6,225.9 L2000.4,230.8 L2001.2,228.8 L2002.0,228.9 L2002.8,225.3 L2003.6,225.2 L2004.4,226.6 L2005.2,223.5 L2006.0,229.9 L2006.9,224.5 L2007.7,223.5 L2008.5,223.7 L2009.3,225.4 L2010.1,224.7 L2010.9,229.9 L2011.7,227.8 L2012.5,227.4 L2013.4,230.3 L2014.2,225.1 L2015.0,224.6 L2015.8,228.6 L2016.6,227.0 L2017.4,226.1 L2018.2,222.6 L2019.1,229.2 L2019.9,227.8 L2020.7,224.2 L2021.5,229.4 L2022.4,224.3 L2023.2,223.2 L2024.0,228.4 L2024.8,222.0 L2025.7,221.9 L2026.5,222.9 L2027.3,225.5 L2028.1,225.2 L2029.0,228.5 L2029.8,228.7 L2030.6,228.9 L2031.4,223.7 L2032.3,224.6 L2033.1,221.9 L2033.9,221.7 L2034.7,224.0 L2035.6,223.1 L2036.4,220.9 L2037.2,224.4 L2038.1,225.9 L2038.9,229.2 L2039.8,223.5 L2040.7,230.4 L2041.5,223.9 L2042.4,227.2 L2043.2,225.1 L2044.1,232.0 L2045.0,224.9 L2045.8,225.3 L2046.7,221.9 L2047.5,228.3 L2048.4,227.3 L2049.3,220.1 L2050.1,223.6 L2051.0,217.8 L2051.9,225.4 L2052.7,222.8 L2053.6,218.8 L2054.4,220.0 L2055.3,226.2 L2056.2,224.5 L2057.0,225.1 L2057.9,221.7 L2058.7,228.0 L2059.6,227.9 L2060.4,226.2 L2061.2,226.9 L2062.1,219.2 L2062.9,220.9 L2063.7,224.1 L2064.5,224.5 L2065.4,222.3 L2066.2,224.8 L2067.0,217.3 L2067.9,219.6 L2068.7,222.2 L2069.5,223.7 L2070.3,224.1 L2071.2,224.7 L2072.0,219.9 L2072.8,225.3 L2073.6,224.2 L2074.5,225.5 L2075.3,222.6 L2076.1,218.4 L2076.9,225.5 L2077.8,218.4 L2078.6,222.7 L2079.4,222.6 L2080.2,225.5 L2081.0,225.1 L2081.8,226.8 L2082.7,218.8 L2083.5,227.6 L2084.3,227.2 L2085.1,223.1 L2085.9,220.9 L2086.7,225.1 L2087.5,224.3 L2088.3,224.5 L2089.2,228.9 L2090.0,227.6 L2090.8,224.8 L2091.6,221.4 L2092.4,227.4 L2093.2,226.6 L2094.1,229.7 L2094.9,227.1 L2095.7,224.3 L2096.5,227.2 L2097.4,229.2 L2098.2,228.6 L2099.0,225.3 L2099.9,222.1 L2100.7,222.3 L2101.5,221.8 L2102.3,223.0 L2103.2,228.9 L2104.0,225.6 L2104.8,220.9 L2105.6,221.6 L2106.5,225.5 L2107.3,228.8 L2108.1,228.3 L2109.0,227.6 L2109.8,225.3 L2110.6,222.0 L2111.4,224.3 L2112.3,227.4 L2113.1,222.3 L2113.9,221.0 L2114.7,225.1 L2115.5,221.6 L2116.3,222.3 L2117.2,221.0 L2118.0,221.4 L2118.8,225.0 L2119.6,226.2 L2120.4,227.3 L2121.2,219.4 L2122.0,227.6 L2122.8,221.9 L2123.7,219.5 L2124.5,220.8 L2125.3,223.0 L2126.1,224.0 L2126.9,220.2 L2127.7,220.6 L2128.5,222.8 L2129.3,225.7 L2130.1,225.5 L2131.0,217.9 L2131.8,225.6 L2132.6,220.4 L2133.4,224.9 L2134.2,220.4 L2135.0,218.6 L2135.8,224.5 L2136.6,220.5 L2137.5,224.3 L2138.3,220.4 L2139.1,221.5 L2139.9,221.8 L2140.7,219.3 L2141.5,218.5 L2142.3,222.9 L2143.1,221.7 L2143.9,218.7 L2144.8,217.0 L2145.6,218.7 L2146.4,217.5 L2147.2,221.0 L2148.0,222.4 L2148.8,219.2 L2149.6,218.1 L2150.4,224.0 L2151.3,222.8 L2152.1,222.7 L2152.9,222.6 L2153.7,217.2 L2154.5,219.6 L2155.3,224.8 L2156.1,220.4 L2156.9,217.8 L2157.7,219.0 L2158.6,220.8 L2159.4,222.5 L2160.2,221.3 L2161.0,218.6 L2161.8,216.7 L2162.6,217.1 L2163.4,222.3 L2164.2,219.6 L2165.1,223.1 L2165.9,223.1 L2166.7,223.4 L2167.5,221.5 L2168.3,218.2 L2169.1,219.1 L2169.9,221.1 L2170.7,217.0 L2171.5,218.4 L2172.4,218.2 L2173.2,216.6 L2174.0,219.0 L2174.8,217.8 L2175.6,222.2 L2176.4,220.6 L2177.2,214.7 L2178.0,220.3 L2178.9,214.1 L2179.7,213.7 L2180.5,214.2 L2181.3,217.7 L2182.1,219.7 L2182.9,215.5 L2183.7,218.6 L2184.5,220.7 L2185.3,216.6 L2186.2,220.0 L2187.0,216.5 L2187.8,217.6 L2188.6,211.8 L2189.4,212.9 L2190.2,213.7 L2191.0,220.2 L2191.8,217.1 L2192.7,217.7 L2193.5,217.1 L2194.3,218.3 L2195.1,215.9 L2195.9,213.3 L2196.7,211.7 L2197.5,212.6 L2198.3,216.2 L2199.1,220.1 L2200.0,217.3 L2200.8,211.8 L2201.6,218.6 L2202.4,215.4 L2203.2,211.8 L2204.0,219.6 L2204.8,214.7 L2205.6,216.1 L2206.5,212.6 L2207.3,214.2 L2208.1,218.9 L2208.9,218.8 L2209.7,217.7 L2210.5,219.3 L2211.4,219.3 L2212.2,219.1 L2213.1,212.0 L2213.9,211.3 L2214.8,215.0 L2215.6,213.5 L2216.5,216.0 L2217.3,217.1 L2218.2,213.3 L2219.0,218.3 L2219.9,217.8 L2220.7,211.6 L2221.5,217.5 L2222.3,214.7 L2223.2,217.0 L2224.0,217.3 L2224.8,215.9 L2225.7,211.9 L2226.5,213.4 L2227.3,209.4" fill="none" stroke="#8b4513" stroke-width="3.3" stroke-linejoin="round" stroke-linecap="butt" />
</g>
</g>
<g>
</g>
<rect x="23.8" y="965.8" width="2273.5" height="283.5" fill="none" stroke="#5f5278" stroke-width="3.6"/>
<line x1="200" x2="399" y1="1053" y2="1053" stroke="#2222ee" stroke-width="5"/>
<line x1="200" x2="391.5" y1="1171.5" y2="1171.5" stroke="#808080" stroke-width="5"/>
<line x1="876" x2="1075" y1="1171.5" y2="1171.5" stroke="#ff0000" stroke-width="5"/>
<line x1="1564" x2="1780" y1="1053" y2="1053" stroke="#77d977" stroke-width="5"/>
<line x1="1564" x2="1780" y1="1171.5" y2="1171.5" stroke="#8b4a1c" stroke-width="5"/>
<g id="title-5-drones">
<text transform="translate(494.60,87.50)" font-size="76" letter-spacing="0" text-anchor="start" fill="#000" font-family="Liberation Sans, Arial, sans-serif">5 drones</text>
</g>
<g id="axes-5-drones">
<text transform="translate(121.80,196.19) scale(1,1.023)" font-size="70" letter-spacing="-0.9" text-anchor="start" fill="#555555" font-family="DejaVu Sans, Liberation Sans, sans-serif">1.0</text>
<text transform="translate(122.70,330.09) scale(1,1.023)" font-size="70" letter-spacing="-1.6" text-anchor="start" fill="#555555" font-family="DejaVu Sans, Liberation Sans, sans-serif">0.8</text>
<text transform="translate(122.50,462.99) scale(1,1.023)" font-size="70" letter-spacing="-1.5" text-anchor="start" fill="#555555" font-family="DejaVu Sans, Liberation Sans, sans-serif">0.6</text>
<text transform="translate(123.20,595.59) scale(1,1.023)" font-size="70" letter-spacing="-1.75" text-anchor="start" fill="#555555" font-family="DejaVu Sans, Liberation Sans, sans-serif">0.4</text>
<text transform="translate(124.60,729.09) scale(1,1.023)" font-size="70" letter-spacing="-1.35" text-anchor="start" fill="#555555" font-family="DejaVu Sans, Liberation Sans, sans-serif">0.2</text>
<text transform="translate(358.70,834.92) scale(1,1.036)" font-size="70" letter-spacing="-0.8" text-anchor="start" fill="#555555" font-family="DejaVu Sans, Liberation Sans, sans-serif">0.2</text>
<text transform="translate(527.50,834.92) scale(1,1.036)" font-size="70" letter-spacing="-1.0" text-anchor="start" fill="#555555" font-family="DejaVu Sans, Liberation Sans, sans-serif">0.4</text>
<text transform="translate(692.70,834.92) scale(1,1.036)" font-size="70" letter-spacing="-0.8" text-anchor="start" fill="#555555" font-family="DejaVu Sans, Liberation Sans, sans-serif">0.6</text>
<text transform="translate(858.60,834.92) scale(1,1.036)" font-size="70" letter-spacing="-0.8" text-anchor="start" fill="#555555" font-family="DejaVu Sans, Liberation Sans, sans-serif">0.8</text>
<text transform="translate(1024.30,834.92) scale(1,1.036)" font-size="70" letter-spacing="-1.0" text-anchor="start" fill="#555555" font-family="DejaVu Sans, Liberation Sans, sans-serif">1.0</text>
<text transform="translate(487.00,915.00)" font-size="70" letter-spacing="-0.38" text-anchor="start" fill="#555555" font-family="DejaVu Sans, Liberation Sans, sans-serif">Timesteps</text>
<text transform="translate(94.00,686.10) rotate(-90)" font-size="70" letter-spacing="-0.15" text-anchor="start" fill="#555555" font-family="DejaVu Sans, Liberation Sans, sans-serif">Success Rate</text>
<text transform="translate(980.4,897.3) scale(1.05,1)" font-size="48.5" fill="#000" font-family="Liberation Serif, DejaVu Serif, serif" xml:space="preserve"><tspan x="0" y="0">1 </tspan><tspan x="33.9" y="4.4">× </tspan><tspan x="69.0" y="0">10</tspan><tspan x="119.4" y="-17.3" font-size="30.5">8</tspan></text>
</g>
<g id="title-20-drones">
<text transform="translate(1634.80,87.50)" font-size="76" letter-spacing="0.25" text-anchor="start" fill="#000" font-family="Liberation Sans, Arial, sans-serif">20 drones</text>
</g>
<g id="axes-20-drones">
<text transform="translate(1289.13,193.99) scale(1,1.03)" font-size="69" letter-spacing="-1.4" text-anchor="start" fill="#555555" font-family="DejaVu Sans, Liberation Sans, sans-serif">1.0</text>
<text transform="translate(1289.41,312.19) scale(1,1.03)" font-size="69" letter-spacing="-1.45" text-anchor="start" fill="#555555" font-family="DejaVu Sans, Liberation Sans, sans-serif">0.8</text>
<text transform="translate(1289.33,435.29) scale(1,1.03)" font-size="69" letter-spacing="-1.7" text-anchor="start" fill="#555555" font-family="DejaVu Sans, Liberation Sans, sans-serif">0.6</text>
<text transform="translate(1289.53,555.49) scale(1,1.03)" font-size="69" letter-spacing="-1.5" text-anchor="start" fill="#555555" font-family="DejaVu Sans, Liberation Sans, sans-serif">0.4</text>
<text transform="translate(1291.19,677.99) scale(1,1.03)" font-size="69" letter-spacing="-1.55" text-anchor="start" fill="#555555" font-family="DejaVu Sans, Liberation Sans, sans-serif">0.2</text>
<text transform="translate(1521.48,837.09) scale(1,1.03)" font-size="69" letter-spacing="-0.8" text-anchor="start" fill="#555555" font-family="DejaVu Sans, Liberation Sans, sans-serif">0.2</text>
<text transform="translate(1684.80,837.09) scale(1,1.03)" font-size="69" letter-spacing="-1.0" text-anchor="start" fill="#555555" font-family="DejaVu Sans, Liberation Sans, sans-serif">0.4</text>
<text transform="translate(1847.80,837.09) scale(1,1.03)" font-size="69" letter-spacing="-1.1" text-anchor="start" fill="#555555" font-family="DejaVu Sans, Liberation Sans, sans-serif">0.6</text>
<text transform="translate(2010.59,837.09) scale(1,1.03)" font-size="69" letter-spacing="-1.1" text-anchor="start" fill="#555555" font-family="DejaVu Sans, Liberation Sans, sans-serif">0.8</text>
<text transform="translate(2173.42,837.09) scale(1,1.03)" font-size="69" letter-spacing="-1.6" text-anchor="start" fill="#555555" font-family="DejaVu Sans, Liberation Sans, sans-serif">1.0</text>
<text transform="translate(1646.70,914.40)" font-size="69" letter-spacing="-0.55" text-anchor="start" fill="#555555" font-family="DejaVu Sans, Liberation Sans, sans-serif">Timesteps</text>
<text transform="translate(1263.40,691.80) rotate(-90)" font-size="69" letter-spacing="-0.38" text-anchor="start" fill="#555555" font-family="DejaVu Sans, Liberation Sans, sans-serif">Success Rate</text>
<text transform="translate(2126.3,897.8) scale(1.05,1)" font-size="48.5" fill="#000" font-family="Liberation Serif, DejaVu Serif, serif" xml:space="preserve"><tspan x="0" y="0">1 </tspan><tspan x="33.9" y="4.4">× </tspan><tspan x="69.0" y="0">10</tspan><tspan x="119.4" y="-17.3" font-size="30.5">8</tspan></text>
</g>
<g id="legend-labels">
<text transform="translate(429.60,1076.00) scale(1,1.035)" font-size="77" letter-spacing="0.3" text-anchor="start" fill="#000" font-family="Liberation Sans, Arial, sans-serif">MAPPO</text>
<text transform="translate(448.60,1199.20) scale(1,1.035)" font-size="77" letter-spacing="0.0" text-anchor="start" fill="#000" font-family="Liberation Sans, Arial, sans-serif">HTAMP</text>
<text transform="translate(1102.20,1194.20) scale(1,1.035)" font-size="77" letter-spacing="0.3" text-anchor="start" fill="#000" font-family="Liberation Sans, Arial, sans-serif">MAGE-X</text>
<text transform="translate(1810.60,1076.00) scale(1,1.035)" font-size="77" letter-spacing="0.0" text-anchor="start" fill="#000" font-family="Liberation Sans, Arial, sans-serif">DARL1N</text>
<text transform="translate(1817.20,1194.20) scale(1,1.035)" font-size="77" letter-spacing="-0.8" text-anchor="start" fill="#000" font-family="Liberation Sans, Arial, sans-serif">MASP</text>
</g>
</svg>
</body>
</html>
